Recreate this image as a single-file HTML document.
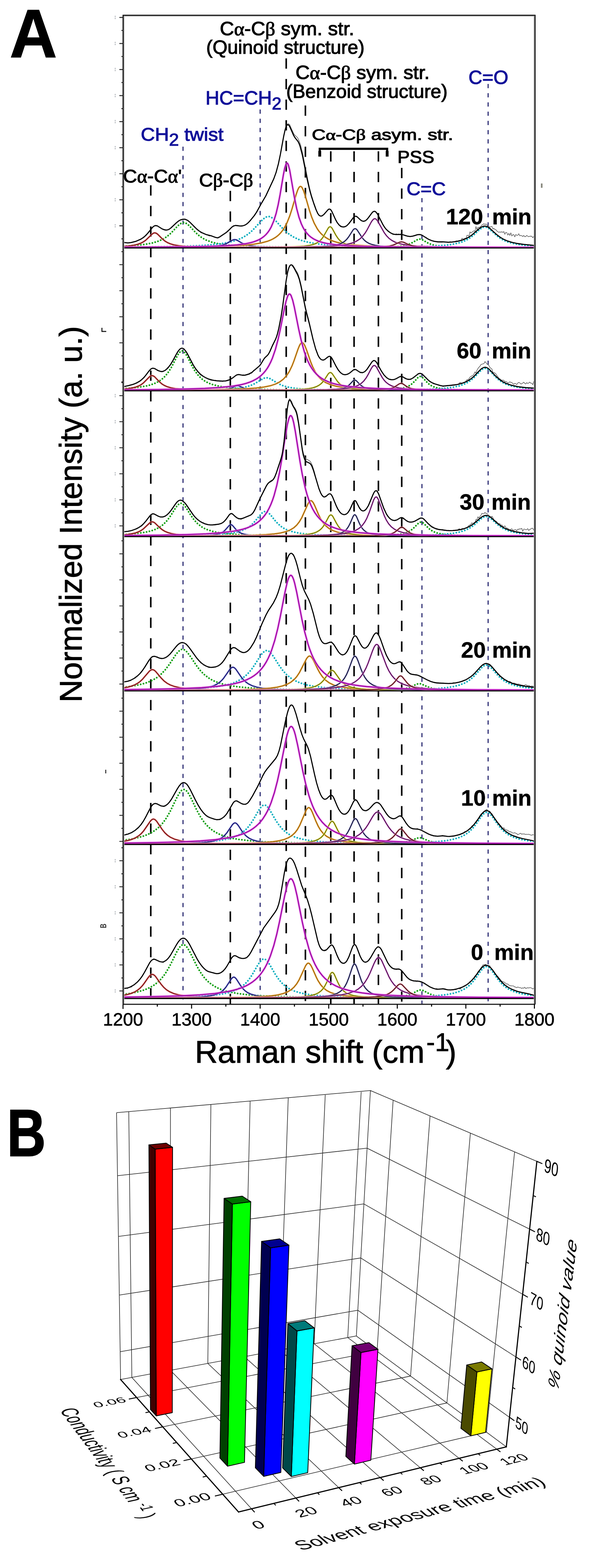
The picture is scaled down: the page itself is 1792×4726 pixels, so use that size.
<!DOCTYPE html>
<html><head><meta charset="utf-8"><title>Figure</title>
<style>html,body{margin:0;padding:0;background:#fff;width:1792px;height:4726px;overflow:hidden}</style>
</head><body>
<svg width="1792" height="4726" viewBox="0 0 1792 4726" style="display:block">
<rect width="1792" height="4726" fill="#fff"/>
<defs>
<clipPath id="cp120"><rect x="371.5" y="45.5" width="1239.0" height="703.0"/></clipPath>
<clipPath id="cp60"><rect x="371.5" y="745.5" width="1239.0" height="433.5"/></clipPath>
<clipPath id="cp30"><rect x="371.5" y="1176" width="1239.0" height="442.5"/></clipPath>
<clipPath id="cp20"><rect x="371.5" y="1615.5" width="1239.0" height="468.0"/></clipPath>
<clipPath id="cp10"><rect x="371.5" y="2080.5" width="1239.0" height="465.8000000000002"/></clipPath>
<clipPath id="cp0"><rect x="371.5" y="2543.3" width="1239.0" height="467.39999999999964"/></clipPath>
</defs>
<text x="29" y="172" font-family="'Liberation Sans', Arial, sans-serif" font-weight="bold" font-size="206" textLength="143" lengthAdjust="spacingAndGlyphs" stroke="#000" stroke-width="2">A</text>
<line x1="454.1" y1="558.4" x2="454.1" y2="3027" stroke="#000" stroke-width="4.7" stroke-dasharray="31.0 31.05"/>
<line x1="693.7" y1="575.3" x2="693.7" y2="3027" stroke="#000" stroke-width="4.7" stroke-dasharray="31.0 31.05"/>
<line x1="862.0" y1="176" x2="862.0" y2="3027" stroke="#000" stroke-width="4.7" stroke-dasharray="31.0 31.05"/>
<line x1="919.8" y1="318" x2="919.8" y2="3027" stroke="#000" stroke-width="4.7" stroke-dasharray="31.0 31.05"/>
<line x1="996.2" y1="456" x2="996.2" y2="3027" stroke="#000" stroke-width="4.7" stroke-dasharray="31.0 31.05"/>
<line x1="1066.4" y1="456" x2="1066.4" y2="3027" stroke="#000" stroke-width="4.7" stroke-dasharray="31.0 31.05"/>
<line x1="1139.7" y1="456" x2="1139.7" y2="3027" stroke="#000" stroke-width="4.7" stroke-dasharray="31.0 31.05"/>
<line x1="1209.9" y1="506" x2="1209.9" y2="3027" stroke="#000" stroke-width="4.7" stroke-dasharray="31.0 31.05"/>
<line x1="551.2" y1="442" x2="551.2" y2="3027" stroke="#25256e" stroke-width="3.3" stroke-dasharray="12.7 15.1"/>
<line x1="783.5" y1="330" x2="783.5" y2="3027" stroke="#25256e" stroke-width="3.3" stroke-dasharray="12.7 15.1"/>
<line x1="1270.8" y1="597" x2="1270.8" y2="3027" stroke="#25256e" stroke-width="3.3" stroke-dasharray="12.7 15.1"/>
<line x1="1470.1" y1="253" x2="1470.1" y2="3027" stroke="#25256e" stroke-width="3.3" stroke-dasharray="12.7 15.1"/>
<g clip-path="url(#cp120)" fill="none" stroke-linejoin="round" stroke-linecap="round">
<polyline points="371.5,741.8 408.5,739.6 437.5,736.4 460.5,732.0 478.5,726.4 491.5,720.4 503.5,712.6 515.5,702.2 534.5,681.9 540.5,676.3 547.5,671.9 553.5,670.7 558.5,671.9 564.5,675.5 571.5,682.0 588.5,700.3 597.5,708.7 609.5,717.5 621.5,723.9 637.5,729.8 655.5,734.2 677.5,737.6 705.5,740.2 738.5,742.0 781.5,743.3 909.5,744.9 1139.5,745.6 1610.5,745.9" stroke="#16a016" stroke-width="5.3" stroke-dasharray="0.1 8.7"/>
<polyline points="371.5,744.6 501.5,743.2 586.5,740.8 618.5,739.1 645.5,736.9 668.5,734.0 687.5,730.7 702.5,727.0 716.5,722.4 729.5,716.6 740.5,710.3 750.5,703.1 760.5,694.4 786.5,666.4 793.5,659.7 801.5,654.3 805.5,653.0 808.5,652.6 811.5,652.8 815.5,654.0 823.5,659.0 830.5,665.6 849.5,686.5 860.5,697.4 872.5,707.1 885.5,715.2 900.5,722.1 918.5,727.9 939.5,732.5 963.5,735.9 993.5,738.7 1029.5,740.8 1075.5,742.3 1133.5,743.5 1303.5,744.9 1610.5,745.6" stroke="#12b0c0" stroke-width="5.3" stroke-dasharray="0.1 8.7"/>
<polyline points="371.5,746.0 1003.5,745.7 1105.5,745.3 1161.5,744.4 1197.5,742.6 1210.5,741.1 1220.5,739.3 1234.5,734.9 1242.5,731.0 1256.5,722.7 1260.5,721.2 1264.5,720.7 1267.5,721.0 1271.5,722.4 1288.5,732.3 1300.5,737.3 1315.5,740.7 1336.5,743.0 1366.5,744.4 1411.5,745.2 1610.5,745.9" stroke="#16a016" stroke-width="5.3" stroke-dasharray="0.1 8.7"/>
<polyline points="371.5,745.9 1105.5,745.1 1235.5,743.9 1278.5,742.9 1311.5,741.4 1339.5,739.3 1361.5,736.5 1379.5,732.8 1394.5,728.1 1406.5,722.5 1417.5,715.6 1425.5,709.3 1442.5,693.5 1449.5,688.0 1455.5,685.0 1460.5,684.2 1465.5,685.2 1471.5,688.4 1477.5,693.2 1494.5,708.9 1502.5,715.3 1513.5,722.3 1526.5,728.3 1542.5,733.2 1560.5,736.8 1582.5,739.5 1610.5,741.5" stroke="#12b0c0" stroke-width="5.3" stroke-dasharray="0.1 8.7"/>
<polyline points="371.5,742.7 388.5,741.2 402.5,739.2 413.5,736.7 423.5,733.3 431.5,729.2 438.5,724.3 459.5,704.3 463.5,702.2 466.5,701.8 470.5,702.9 474.5,705.6 488.5,719.7 496.5,726.4 504.5,731.3 512.5,734.7 524.5,738.2 538.5,740.6 556.5,742.4 580.5,743.7 646.5,745.0 770.5,745.7 1610.5,746.0" stroke="#ff9a9a" stroke-width="6.4" stroke-opacity="0.6"/>
<polyline points="371.5,742.7 388.5,741.2 402.5,739.2 413.5,736.7 423.5,733.3 431.5,729.2 438.5,724.3 459.5,704.3 463.5,702.2 466.5,701.8 470.5,702.9 474.5,705.6 488.5,719.7 496.5,726.4 504.5,731.3 512.5,734.7 524.5,738.2 538.5,740.6 556.5,742.4 580.5,743.7 646.5,745.0 770.5,745.7 1610.5,746.0" stroke="#7e1212" stroke-width="3.0999999999999996"/>
<polyline points="371.5,745.9 564.5,745.3 608.5,744.6 637.5,743.3 656.5,741.3 671.5,738.1 683.5,733.3 699.5,724.0 703.5,722.5 706.5,722.1 709.5,722.4 713.5,723.7 727.5,731.9 734.5,735.3 748.5,739.7 758.5,741.5 771.5,742.9 806.5,744.6 862.5,745.4 963.5,745.8 1610.5,746.0" stroke="#a0a0ff" stroke-width="6.2" stroke-opacity="0.6"/>
<polyline points="371.5,745.9 564.5,745.3 608.5,744.6 637.5,743.3 656.5,741.3 671.5,738.1 683.5,733.3 699.5,724.0 703.5,722.5 706.5,722.1 709.5,722.4 713.5,723.7 727.5,731.9 734.5,735.3 748.5,739.7 758.5,741.5 771.5,742.9 806.5,744.6 862.5,745.4 963.5,745.8 1610.5,746.0" stroke="#14146a" stroke-width="2.9"/>
<polyline points="371.5,745.3 580.5,744.1 645.5,743.0 694.5,741.4 733.5,739.2 763.5,736.2 787.5,732.1 806.5,726.9 814.5,723.8 822.5,719.9 829.5,715.7 835.5,711.3 841.5,705.9 846.5,700.5 851.5,694.1 856.5,686.5 864.5,671.2 872.5,651.2 879.5,629.4 891.5,587.6 896.5,573.0 899.5,566.7 901.5,563.8 903.5,562.2 905.5,561.8 907.5,562.7 909.5,564.9 914.5,575.3 919.5,590.6 931.5,632.4 938.5,653.6 946.5,673.1 955.5,689.5 960.5,696.7 966.5,703.7 973.5,710.3 980.5,715.6 988.5,720.4 996.5,724.2 1005.5,727.5 1015.5,730.5 1038.5,735.1 1068.5,738.6 1106.5,741.0 1155.5,742.8 1308.5,744.7 1610.5,745.6" stroke="#ffd080" stroke-width="6.4" stroke-opacity="0.6"/>
<polyline points="371.5,745.3 580.5,744.1 645.5,743.0 694.5,741.4 733.5,739.2 763.5,736.2 787.5,732.1 806.5,726.9 814.5,723.8 822.5,719.9 829.5,715.7 835.5,711.3 841.5,705.9 846.5,700.5 851.5,694.1 856.5,686.5 864.5,671.2 872.5,651.2 879.5,629.4 891.5,587.6 896.5,573.0 899.5,566.7 901.5,563.8 903.5,562.2 905.5,561.8 907.5,562.7 909.5,564.9 914.5,575.3 919.5,590.6 931.5,632.4 938.5,653.6 946.5,673.1 955.5,689.5 960.5,696.7 966.5,703.7 973.5,710.3 980.5,715.6 988.5,720.4 996.5,724.2 1005.5,727.5 1015.5,730.5 1038.5,735.1 1068.5,738.6 1106.5,741.0 1155.5,742.8 1308.5,744.7 1610.5,745.6" stroke="#a86400" stroke-width="3.0999999999999996"/>
<polyline points="371.5,745.9 801.5,745.3 874.5,744.1 915.5,741.8 930.5,739.8 942.5,737.1 952.5,733.3 960.5,728.4 966.5,723.1 972.5,715.6 988.5,687.6 991.5,684.3 994.5,683.3 997.5,684.8 1000.5,688.5 1011.5,708.7 1017.5,717.9 1022.5,723.8 1027.5,728.2 1035.5,733.1 1045.5,737.0 1057.5,739.8 1072.5,741.8 1113.5,744.1 1185.5,745.3 1610.5,745.9" stroke="#ffff70" stroke-width="6.2" stroke-opacity="0.6"/>
<polyline points="371.5,745.9 801.5,745.3 874.5,744.1 915.5,741.8 930.5,739.8 942.5,737.1 952.5,733.3 960.5,728.4 966.5,723.1 972.5,715.6 988.5,687.6 991.5,684.3 994.5,683.3 997.5,684.8 1000.5,688.5 1011.5,708.7 1017.5,717.9 1022.5,723.8 1027.5,728.2 1035.5,733.1 1045.5,737.0 1057.5,739.8 1072.5,741.8 1113.5,744.1 1185.5,745.3 1610.5,745.9" stroke="#707000" stroke-width="2.9"/>
<polyline points="371.5,745.9 859.5,745.4 940.5,744.4 985.5,742.3 1001.5,740.6 1014.5,738.1 1024.5,734.9 1033.5,730.4 1039.5,726.0 1044.5,721.0 1050.5,713.3 1063.5,693.0 1066.5,690.1 1069.5,689.1 1072.5,690.1 1075.5,693.0 1091.5,717.4 1097.5,724.1 1103.5,729.1 1111.5,733.7 1120.5,737.0 1132.5,739.8 1146.5,741.7 1184.5,744.0 1250.5,745.2 1610.5,745.9" stroke="#c0c0ff" stroke-width="6.2" stroke-opacity="0.6"/>
<polyline points="371.5,745.9 859.5,745.4 940.5,744.4 985.5,742.3 1001.5,740.6 1014.5,738.1 1024.5,734.9 1033.5,730.4 1039.5,726.0 1044.5,721.0 1050.5,713.3 1063.5,693.0 1066.5,690.1 1069.5,689.1 1072.5,690.1 1075.5,693.0 1091.5,717.4 1097.5,724.1 1103.5,729.1 1111.5,733.7 1120.5,737.0 1132.5,739.8 1146.5,741.7 1184.5,744.0 1250.5,745.2 1610.5,745.9" stroke="#141438" stroke-width="2.9"/>
<polyline points="371.5,745.9 717.5,745.6 882.5,744.8 972.5,743.1 1002.5,741.6 1025.5,739.6 1044.5,736.7 1060.5,732.5 1072.5,727.5 1083.5,720.5 1091.5,712.9 1099.5,702.7 1105.5,692.9 1117.5,670.4 1121.5,664.2 1125.5,660.2 1128.5,659.2 1130.5,659.4 1132.5,660.5 1136.5,664.8 1157.5,701.7 1164.5,711.1 1171.5,718.3 1180.5,724.9 1190.5,730.1 1202.5,734.2 1216.5,737.3 1233.5,739.7 1255.5,741.6 1316.5,743.9 1419.5,745.1 1610.5,745.7" stroke="#ff9cff" stroke-width="6.2" stroke-opacity="0.6"/>
<polyline points="371.5,745.9 717.5,745.6 882.5,744.8 972.5,743.1 1002.5,741.6 1025.5,739.6 1044.5,736.7 1060.5,732.5 1072.5,727.5 1083.5,720.5 1091.5,712.9 1099.5,702.7 1105.5,692.9 1117.5,670.4 1121.5,664.2 1125.5,660.2 1128.5,659.2 1130.5,659.4 1132.5,660.5 1136.5,664.8 1157.5,701.7 1164.5,711.1 1171.5,718.3 1180.5,724.9 1190.5,730.1 1202.5,734.2 1216.5,737.3 1233.5,739.7 1255.5,741.6 1316.5,743.9 1419.5,745.1 1610.5,745.7" stroke="#501050" stroke-width="2.9"/>
<polyline points="371.5,746.0 977.5,745.9 1120.5,745.0 1152.5,743.8 1172.5,741.6 1184.5,738.6 1203.5,730.0 1209.5,728.8 1215.5,730.1 1230.5,737.2 1241.5,740.7 1256.5,743.0 1276.5,744.4 1358.5,745.6 1610.5,746.0" stroke="#ffa0b0" stroke-width="6.2" stroke-opacity="0.6"/>
<polyline points="371.5,746.0 977.5,745.9 1120.5,745.0 1152.5,743.8 1172.5,741.6 1184.5,738.6 1203.5,730.0 1209.5,728.8 1215.5,730.1 1230.5,737.2 1241.5,740.7 1256.5,743.0 1276.5,744.4 1358.5,745.6 1610.5,746.0" stroke="#501018" stroke-width="2.9"/>
<polyline points="371.5,745.2 573.5,743.8 634.5,742.5 679.5,740.7 714.5,738.0 741.5,734.3 753.5,731.8 763.5,729.0 772.5,725.8 780.5,722.2 787.5,718.1 794.5,713.0 800.5,707.5 806.5,700.6 811.5,693.5 816.5,684.7 824.5,666.1 831.5,643.6 837.5,618.3 843.5,586.8 853.5,526.9 857.5,506.9 861.5,494.2 863.5,491.6 864.5,491.4 866.5,493.0 868.5,497.3 872.5,512.7 886.5,594.0 893.5,628.6 900.5,655.0 907.5,674.5 912.5,685.3 917.5,693.9 923.5,702.2 929.5,708.8 936.5,714.8 944.5,720.1 952.5,724.2 962.5,728.2 972.5,731.1 984.5,733.8 1013.5,738.0 1050.5,740.8 1101.5,742.8 1169.5,744.0 1264.5,744.9 1610.5,745.7" stroke="#ff80ff" stroke-width="7.0" stroke-opacity="0.6"/>
<polyline points="371.5,745.2 573.5,743.8 634.5,742.5 679.5,740.7 714.5,738.0 741.5,734.3 753.5,731.8 763.5,729.0 772.5,725.8 780.5,722.2 787.5,718.1 794.5,713.0 800.5,707.5 806.5,700.6 811.5,693.5 816.5,684.7 824.5,666.1 831.5,643.6 837.5,618.3 843.5,586.8 853.5,526.9 857.5,506.9 861.5,494.2 863.5,491.6 864.5,491.4 866.5,493.0 868.5,497.3 872.5,512.7 886.5,594.0 893.5,628.6 900.5,655.0 907.5,674.5 912.5,685.3 917.5,693.9 923.5,702.2 929.5,708.8 936.5,714.8 944.5,720.1 952.5,724.2 962.5,728.2 972.5,731.1 984.5,733.8 1013.5,738.0 1050.5,740.8 1101.5,742.8 1169.5,744.0 1264.5,744.9 1610.5,745.7" stroke="#a010a6" stroke-width="3.6999999999999997"/>
<polyline points="371.5,732.3 374.5,729.5 377.5,731.2 380.5,731.3 383.5,732.7 386.5,731.7 389.5,732.7 392.5,731.4 395.5,730.2 398.5,730.2 401.5,730.2 404.5,728.3 407.5,727.2 410.5,726.8 413.5,725.5 416.5,724.1 419.5,721.5 422.5,722.4 425.5,721.2 428.5,716.7 431.5,716.9 434.5,715.1 437.5,711.1 440.5,709.6 443.5,704.6 446.5,701.8 449.5,696.3 452.5,693.8 455.5,689.9 458.5,685.5 461.5,682.7 464.5,681.4 467.5,680.5 470.5,681.6 473.5,680.7 476.5,682.4 479.5,684.7 482.5,686.1 485.5,687.7 488.5,690.3 491.5,690.8 494.5,691.1 497.5,693.1 500.5,692.9 503.5,693.9 506.5,692.0 512.5,689.0 515.5,685.9 518.5,683.7 521.5,680.2 524.5,678.1 527.5,674.5 530.5,673.0 533.5,669.3 536.5,667.0 539.5,664.2 542.5,662.8 545.5,662.0 548.5,661.2 551.5,662.2 554.5,660.6 557.5,660.2 560.5,661.4 563.5,663.1 566.5,664.5 572.5,670.5 575.5,674.1 578.5,676.5 581.5,679.3 584.5,684.4 587.5,686.7 590.5,688.4 593.5,690.7 596.5,695.1 599.5,696.4 602.5,698.6 605.5,702.2 608.5,701.3 611.5,703.0 614.5,705.0 617.5,706.2 620.5,706.9 623.5,707.3 626.5,708.4 629.5,711.4 632.5,711.0 635.5,711.0 638.5,712.1 641.5,713.4 644.5,714.1 647.5,715.7 650.5,715.5 653.5,717.0 656.5,718.2 659.5,715.5 662.5,712.7 665.5,710.7 668.5,708.5 671.5,706.6 674.5,706.5 677.5,703.4 680.5,702.7 683.5,698.4 686.5,694.6 689.5,693.5 692.5,690.6 695.5,686.2 698.5,685.1 701.5,682.8 704.5,682.1 707.5,679.5 710.5,678.8 713.5,680.5 716.5,679.1 719.5,681.0 722.5,681.5 725.5,681.4 728.5,680.2 731.5,680.6 734.5,679.6 737.5,678.9 740.5,676.6 743.5,676.0 746.5,672.0 749.5,668.5 752.5,666.3 755.5,661.6 758.5,659.3 761.5,655.3 764.5,651.2 767.5,649.1 770.5,642.3 773.5,639.2 776.5,633.5 779.5,626.8 782.5,621.1 785.5,616.8 788.5,611.4 791.5,607.1 794.5,601.0 797.5,595.4 800.5,590.1 803.5,583.6 806.5,578.3 809.5,572.4 812.5,564.6 815.5,557.4 818.5,552.6 821.5,546.0 824.5,539.2 827.5,531.1 830.5,521.6 833.5,512.3 836.5,501.4 839.5,488.8 842.5,474.6 845.5,460.0 848.5,443.0 851.5,425.1 854.5,409.7 857.5,395.2 860.5,383.1 863.5,376.8 866.5,373.2 869.5,373.3 872.5,375.6 875.5,382.5 878.5,389.7 881.5,395.8 884.5,402.6 887.5,406.9 890.5,409.5 893.5,412.4 896.5,415.6 899.5,421.9 902.5,429.0 905.5,437.0 908.5,450.1 911.5,461.3 914.5,476.3 917.5,492.8 920.5,506.8 923.5,522.6 926.5,539.0 932.5,566.8 938.5,589.6 941.5,598.4 944.5,609.6 947.5,616.9 950.5,625.7 953.5,635.5 956.5,640.7 959.5,648.2 962.5,650.4 965.5,651.8 968.5,652.0 971.5,650.8 974.5,647.7 977.5,645.1 980.5,640.0 983.5,637.0 986.5,634.4 989.5,631.8 992.5,629.8 995.5,632.0 998.5,635.7 1001.5,641.1 1004.5,647.9 1007.5,655.4 1010.5,661.1 1013.5,666.2 1016.5,671.7 1019.5,676.8 1022.5,680.0 1025.5,683.4 1028.5,683.8 1031.5,682.8 1034.5,685.0 1037.5,683.7 1040.5,682.9 1043.5,681.5 1046.5,679.1 1049.5,673.9 1052.5,670.0 1055.5,667.9 1058.5,663.4 1061.5,659.5 1064.5,653.9 1067.5,652.3 1070.5,652.2 1073.5,651.0 1079.5,657.0 1082.5,660.8 1085.5,662.9 1088.5,665.1 1091.5,666.7 1094.5,668.2 1097.5,665.1 1100.5,664.8 1103.5,662.2 1106.5,660.4 1109.5,656.0 1112.5,653.7 1115.5,646.9 1118.5,643.2 1124.5,638.5 1127.5,637.0 1130.5,638.4 1133.5,639.6 1136.5,645.2 1139.5,650.3 1145.5,662.4 1151.5,673.5 1154.5,679.1 1157.5,683.6 1160.5,688.6 1163.5,692.2 1166.5,694.7 1169.5,695.6 1172.5,698.4 1175.5,702.1 1178.5,703.0 1181.5,705.7 1184.5,707.0 1187.5,706.2 1190.5,706.4 1193.5,704.5 1196.5,706.7 1199.5,705.1 1202.5,706.7 1205.5,706.1 1208.5,706.6 1211.5,708.0 1214.5,708.0 1217.5,708.8 1220.5,711.2 1223.5,710.2 1226.5,711.3 1229.5,711.2 1232.5,713.5 1235.5,712.0 1238.5,712.8 1241.5,712.7 1244.5,710.9 1247.5,711.2 1250.5,710.6 1253.5,707.7 1256.5,706.9 1259.5,707.2 1262.5,707.8 1265.5,706.8 1268.5,707.5 1271.5,709.5 1274.5,711.6 1277.5,712.7 1280.5,715.1 1283.5,715.1 1286.5,719.3 1289.5,720.2 1292.5,723.1 1295.5,723.6 1298.5,724.7 1301.5,726.5 1304.5,726.0 1307.5,726.2 1310.5,727.9 1313.5,728.4 1316.5,729.6 1319.5,729.2 1322.5,730.0 1325.5,729.8 1328.5,730.1 1331.5,730.2 1334.5,728.8 1337.5,728.7 1340.5,729.4 1343.5,729.6 1346.5,730.4 1349.5,731.1 1352.5,730.1 1355.5,728.3 1358.5,728.9 1361.5,730.1 1364.5,729.0 1367.5,729.0 1370.5,728.1 1373.5,726.0 1376.5,726.1 1379.5,728.1 1382.5,724.5 1385.5,724.9 1388.5,724.3 1391.5,717.8 1394.5,720.4 1397.5,720.2 1400.5,717.9 1403.5,718.9 1406.5,709.1 1409.5,709.8 1412.5,711.0 1415.5,698.8 1418.5,702.4 1421.5,699.7 1424.5,697.4 1427.5,695.7 1430.5,697.2 1433.5,682.8 1436.5,692.4 1439.5,685.2 1442.5,686.1 1445.5,684.0 1448.5,682.2 1451.5,677.7 1454.5,676.9 1457.5,674.2 1460.5,677.0 1463.5,674.9 1466.5,677.9 1469.5,681.1 1472.5,683.4 1475.5,684.4 1478.5,683.3 1481.5,682.2 1484.5,690.3 1487.5,688.0 1490.5,691.9 1493.5,692.2 1496.5,696.2 1499.5,698.4 1502.5,700.4 1505.5,698.7 1508.5,700.3 1511.5,698.3 1514.5,700.7 1517.5,697.8 1520.5,706.1 1523.5,700.2 1526.5,701.3 1529.5,708.7 1532.5,703.3 1535.5,709.6 1538.5,701.8 1541.5,711.3 1544.5,707.6 1547.5,707.1 1550.5,714.0 1553.5,706.7 1556.5,709.5 1559.5,709.1 1562.5,704.5 1565.5,710.8 1568.5,709.5 1571.5,710.6 1574.5,712.8 1577.5,709.7 1580.5,713.6 1583.5,712.6 1586.5,709.6 1589.5,712.1 1592.5,713.6 1595.5,712.1 1598.5,711.7 1601.5,712.2 1604.5,716.5 1607.5,712.9 1610.5,707.1" stroke="#555" stroke-width="1.7"/>
<polyline points="371.5,730.9 385.5,732.1 394.5,731.2 409.5,727.3 422.5,721.7 430.5,716.8 437.5,711.0 444.5,703.6 459.5,685.1 463.5,681.7 466.5,680.2 469.5,679.8 473.5,680.7 487.5,689.4 494.5,692.5 500.5,693.5 506.5,692.4 510.5,690.3 514.5,687.3 531.5,671.3 537.5,666.4 543.5,662.9 550.5,660.9 554.5,660.7 558.5,661.2 565.5,664.4 571.5,669.4 592.5,690.4 600.5,696.7 608.5,701.6 620.5,706.8 637.5,711.2 649.5,715.7 653.5,716.6 656.5,716.3 660.5,714.8 680.5,701.4 686.5,696.5 698.5,684.4 703.5,680.9 709.5,679.5 722.5,681.2 729.5,681.0 736.5,679.0 742.5,675.6 748.5,670.4 754.5,663.8 765.5,650.2 772.5,639.9 785.5,616.2 800.5,590.5 824.5,539.0 831.5,519.7 838.5,493.7 844.5,465.0 854.5,410.1 858.5,392.1 861.5,382.6 863.5,378.5 865.5,376.3 867.5,375.8 869.5,377.0 872.5,381.3 884.5,408.5 888.5,414.9 897.5,426.3 900.5,432.2 903.5,440.1 910.5,466.8 925.5,541.7 933.5,576.1 938.5,593.4 945.5,614.6 951.5,631.1 956.5,642.3 959.5,647.1 962.5,650.0 965.5,651.2 968.5,650.9 971.5,649.5 975.5,646.3 988.5,631.5 991.5,630.0 994.5,630.8 996.5,632.7 999.5,637.4 1010.5,661.6 1015.5,670.7 1021.5,678.3 1027.5,682.6 1031.5,683.9 1036.5,683.8 1040.5,682.6 1044.5,680.1 1051.5,673.1 1064.5,655.4 1067.5,652.8 1069.5,651.9 1072.5,651.9 1075.5,653.4 1085.5,662.8 1090.5,666.0 1095.5,666.9 1099.5,665.8 1103.5,663.0 1107.5,658.8 1121.5,640.0 1124.5,637.6 1127.5,636.8 1129.5,637.2 1131.5,638.5 1135.5,643.1 1139.5,649.9 1153.5,677.4 1158.5,685.3 1162.5,690.4 1168.5,696.3 1174.5,700.7 1180.5,704.1 1186.5,706.2 1192.5,706.9 1208.5,706.5 1213.5,707.5 1227.5,711.8 1235.5,712.8 1243.5,711.7 1258.5,707.1 1264.5,706.9 1268.5,707.9 1272.5,709.8 1285.5,718.2 1292.5,722.1 1299.5,725.0 1307.5,727.3 1319.5,729.0 1333.5,728.9 1350.5,730.2 1360.5,729.7 1372.5,728.2 1384.5,725.8 1394.5,722.8 1404.5,718.7 1413.5,713.7 1421.5,708.1 1442.5,689.7 1448.5,685.2 1455.5,682.0 1461.5,681.5 1467.5,683.2 1473.5,686.7 1495.5,706.7 1506.5,715.1 1516.5,721.1 1526.5,725.6 1541.5,730.4 1558.5,734.0 1577.5,736.7 1610.5,740.0" stroke="#000" stroke-width="3.3"/>
</g>
<line x1="371.5" y1="747.5" x2="1610.5" y2="747.5" stroke="#000" stroke-width="3.2"/>
<g clip-path="url(#cp60)" fill="none" stroke-linejoin="round" stroke-linecap="round">
<polyline points="371.5,1171.2 410.5,1168.1 439.5,1163.6 451.5,1160.6 462.5,1157.0 471.5,1153.1 480.5,1148.1 487.5,1143.1 493.5,1137.9 504.5,1125.5 515.5,1108.5 532.5,1075.2 537.5,1066.5 540.5,1062.4 543.5,1059.4 546.5,1057.7 548.5,1057.4 550.5,1057.8 553.5,1059.5 558.5,1065.3 564.5,1075.5 579.5,1105.2 586.5,1117.1 597.5,1131.9 608.5,1142.5 615.5,1147.6 622.5,1151.7 630.5,1155.5 639.5,1158.8 660.5,1164.2 686.5,1168.1 717.5,1170.8 758.5,1172.7 811.5,1174.1 883.5,1175.0 1115.5,1176.0 1610.5,1176.3" stroke="#16a016" stroke-width="5.3" stroke-dasharray="0.1 8.7"/>
<polyline points="371.5,1176.2 608.5,1175.1 665.5,1173.8 704.5,1171.6 731.5,1168.1 742.5,1165.7 751.5,1163.0 759.5,1160.0 767.5,1156.1 792.5,1141.1 797.5,1139.2 802.5,1138.5 807.5,1139.1 812.5,1140.8 840.5,1157.4 850.5,1161.8 860.5,1165.0 873.5,1168.0 888.5,1170.3 906.5,1172.0 927.5,1173.3 987.5,1175.0 1087.5,1175.8 1610.5,1176.4" stroke="#12b0c0" stroke-width="5.3" stroke-dasharray="0.1 8.7"/>
<polyline points="371.5,1176.5 1015.5,1176.1 1115.5,1175.5 1169.5,1174.1 1189.5,1172.8 1204.5,1171.1 1216.5,1168.7 1226.5,1165.4 1233.5,1161.9 1239.5,1157.8 1246.5,1151.4 1258.5,1138.2 1262.5,1135.4 1265.5,1134.6 1268.5,1135.1 1272.5,1137.7 1288.5,1154.7 1293.5,1158.9 1299.5,1162.7 1306.5,1166.0 1313.5,1168.3 1322.5,1170.3 1333.5,1172.0 1362.5,1174.1 1407.5,1175.4 1610.5,1176.3" stroke="#16a016" stroke-width="5.3" stroke-dasharray="0.1 8.7"/>
<polyline points="371.5,1176.4 1115.5,1175.7 1244.5,1174.4 1286.5,1173.3 1318.5,1171.8 1345.5,1169.6 1366.5,1166.7 1383.5,1163.0 1398.5,1157.7 1408.5,1152.7 1418.5,1145.9 1428.5,1137.1 1449.5,1115.3 1455.5,1111.3 1460.5,1110.0 1465.5,1110.9 1470.5,1113.7 1476.5,1119.0 1493.5,1137.1 1501.5,1144.3 1512.5,1152.1 1524.5,1158.2 1539.5,1163.2 1558.5,1167.2 1581.5,1170.1 1610.5,1172.2" stroke="#12b0c0" stroke-width="5.3" stroke-dasharray="0.1 8.7"/>
<polyline points="371.5,1172.8 386.5,1171.3 399.5,1169.1 409.5,1166.5 418.5,1163.0 425.5,1159.1 432.5,1153.7 450.5,1135.4 454.5,1132.8 457.5,1132.1 461.5,1132.9 465.5,1135.5 479.5,1150.1 487.5,1157.1 494.5,1161.5 502.5,1165.2 514.5,1168.7 528.5,1171.2 546.5,1173.0 570.5,1174.2 636.5,1175.6 760.5,1176.2 1610.5,1176.5" stroke="#ff9a9a" stroke-width="6.4" stroke-opacity="0.6"/>
<polyline points="371.5,1172.8 386.5,1171.3 399.5,1169.1 409.5,1166.5 418.5,1163.0 425.5,1159.1 432.5,1153.7 450.5,1135.4 454.5,1132.8 457.5,1132.1 461.5,1132.9 465.5,1135.5 479.5,1150.1 487.5,1157.1 494.5,1161.5 502.5,1165.2 514.5,1168.7 528.5,1171.2 546.5,1173.0 570.5,1174.2 636.5,1175.6 760.5,1176.2 1610.5,1176.5" stroke="#7e1212" stroke-width="3.0999999999999996"/>
<polyline points="371.5,1176.5 588.5,1176.2 658.5,1175.2 676.5,1174.0 688.5,1172.1 697.5,1169.4 710.5,1163.4 715.5,1162.5 720.5,1163.6 735.5,1170.3 746.5,1173.0 765.5,1174.9 795.5,1175.8 937.5,1176.4 1610.5,1176.5" stroke="#a0a0ff" stroke-width="6.2" stroke-opacity="0.6"/>
<polyline points="371.5,1176.5 588.5,1176.2 658.5,1175.2 676.5,1174.0 688.5,1172.1 697.5,1169.4 710.5,1163.4 715.5,1162.5 720.5,1163.6 735.5,1170.3 746.5,1173.0 765.5,1174.9 795.5,1175.8 937.5,1176.4 1610.5,1176.5" stroke="#14146a" stroke-width="2.9"/>
<polyline points="371.5,1176.0 587.5,1175.2 703.5,1173.3 741.5,1171.7 771.5,1169.5 795.5,1166.5 814.5,1162.6 829.5,1157.6 842.5,1151.1 853.5,1142.7 863.5,1131.7 871.5,1119.3 879.5,1102.7 885.5,1087.3 897.5,1052.5 901.5,1042.6 904.5,1037.0 906.5,1034.5 908.5,1033.1 910.5,1032.8 912.5,1033.6 914.5,1035.6 918.5,1042.6 923.5,1055.3 935.5,1090.1 941.5,1105.1 949.5,1121.0 957.5,1133.0 962.5,1138.8 968.5,1144.5 974.5,1149.1 981.5,1153.4 996.5,1159.8 1015.5,1164.9 1037.5,1168.3 1066.5,1171.0 1103.5,1172.8 1152.5,1174.1 1304.5,1175.6 1610.5,1176.2" stroke="#ffd080" stroke-width="6.4" stroke-opacity="0.6"/>
<polyline points="371.5,1176.0 587.5,1175.2 703.5,1173.3 741.5,1171.7 771.5,1169.5 795.5,1166.5 814.5,1162.6 829.5,1157.6 842.5,1151.1 853.5,1142.7 863.5,1131.7 871.5,1119.3 879.5,1102.7 885.5,1087.3 897.5,1052.5 901.5,1042.6 904.5,1037.0 906.5,1034.5 908.5,1033.1 910.5,1032.8 912.5,1033.6 914.5,1035.6 918.5,1042.6 923.5,1055.3 935.5,1090.1 941.5,1105.1 949.5,1121.0 957.5,1133.0 962.5,1138.8 968.5,1144.5 974.5,1149.1 981.5,1153.4 996.5,1159.8 1015.5,1164.9 1037.5,1168.3 1066.5,1171.0 1103.5,1172.8 1152.5,1174.1 1304.5,1175.6 1610.5,1176.2" stroke="#a86400" stroke-width="3.0999999999999996"/>
<polyline points="371.5,1176.4 800.5,1175.9 873.5,1174.9 915.5,1172.8 930.5,1171.1 942.5,1168.8 952.5,1165.5 960.5,1161.4 966.5,1156.9 971.5,1151.9 977.5,1144.0 988.5,1127.0 991.5,1124.0 994.5,1122.7 997.5,1123.5 1000.5,1126.2 1016.5,1149.8 1022.5,1156.3 1029.5,1161.6 1037.5,1165.6 1047.5,1168.8 1059.5,1171.2 1073.5,1172.8 1114.5,1174.8 1186.5,1175.8 1610.5,1176.4" stroke="#ffff70" stroke-width="6.2" stroke-opacity="0.6"/>
<polyline points="371.5,1176.4 800.5,1175.9 873.5,1174.9 915.5,1172.8 930.5,1171.1 942.5,1168.8 952.5,1165.5 960.5,1161.4 966.5,1156.9 971.5,1151.9 977.5,1144.0 988.5,1127.0 991.5,1124.0 994.5,1122.7 997.5,1123.5 1000.5,1126.2 1016.5,1149.8 1022.5,1156.3 1029.5,1161.6 1037.5,1165.6 1047.5,1168.8 1059.5,1171.2 1073.5,1172.8 1114.5,1174.8 1186.5,1175.8 1610.5,1176.4" stroke="#707000" stroke-width="2.9"/>
<polyline points="371.5,1176.5 877.5,1176.2 954.5,1175.8 995.5,1174.8 1021.5,1172.6 1030.5,1170.9 1038.5,1168.4 1043.5,1166.0 1048.5,1162.8 1053.5,1158.3 1063.5,1147.8 1066.5,1145.9 1068.5,1145.5 1070.5,1145.9 1073.5,1147.8 1083.5,1158.4 1088.5,1162.8 1097.5,1168.0 1104.5,1170.4 1112.5,1172.1 1135.5,1174.4 1171.5,1175.6 1234.5,1176.1 1610.5,1176.5" stroke="#c0c0ff" stroke-width="6.2" stroke-opacity="0.6"/>
<polyline points="371.5,1176.5 877.5,1176.2 954.5,1175.8 995.5,1174.8 1021.5,1172.6 1030.5,1170.9 1038.5,1168.4 1043.5,1166.0 1048.5,1162.8 1053.5,1158.3 1063.5,1147.8 1066.5,1145.9 1068.5,1145.5 1070.5,1145.9 1073.5,1147.8 1083.5,1158.4 1088.5,1162.8 1097.5,1168.0 1104.5,1170.4 1112.5,1172.1 1135.5,1174.4 1171.5,1175.6 1234.5,1176.1 1610.5,1176.5" stroke="#141438" stroke-width="2.9"/>
<polyline points="371.5,1176.4 897.5,1175.7 985.5,1174.3 1013.5,1173.2 1034.5,1171.6 1052.5,1169.2 1066.5,1166.0 1077.5,1161.9 1087.5,1155.9 1095.5,1148.5 1102.5,1139.4 1108.5,1129.3 1117.5,1111.8 1121.5,1105.4 1124.5,1102.4 1127.5,1101.5 1130.5,1102.7 1133.5,1106.0 1151.5,1138.5 1157.5,1146.7 1163.5,1152.9 1171.5,1158.9 1180.5,1163.4 1191.5,1167.0 1205.5,1169.8 1221.5,1171.7 1242.5,1173.3 1302.5,1175.1 1407.5,1175.9 1610.5,1176.3" stroke="#ff9cff" stroke-width="6.2" stroke-opacity="0.6"/>
<polyline points="371.5,1176.4 897.5,1175.7 985.5,1174.3 1013.5,1173.2 1034.5,1171.6 1052.5,1169.2 1066.5,1166.0 1077.5,1161.9 1087.5,1155.9 1095.5,1148.5 1102.5,1139.4 1108.5,1129.3 1117.5,1111.8 1121.5,1105.4 1124.5,1102.4 1127.5,1101.5 1130.5,1102.7 1133.5,1106.0 1151.5,1138.5 1157.5,1146.7 1163.5,1152.9 1171.5,1158.9 1180.5,1163.4 1191.5,1167.0 1205.5,1169.8 1221.5,1171.7 1242.5,1173.3 1302.5,1175.1 1407.5,1175.9 1610.5,1176.3" stroke="#501050" stroke-width="2.9"/>
<polyline points="371.5,1176.5 990.5,1176.3 1127.5,1175.4 1157.5,1174.0 1168.5,1172.7 1176.5,1171.0 1187.5,1166.9 1202.5,1156.9 1207.5,1155.3 1212.5,1156.5 1226.5,1166.0 1236.5,1170.3 1250.5,1173.1 1269.5,1174.7 1299.5,1175.7 1348.5,1176.1 1610.5,1176.5" stroke="#ffa0b0" stroke-width="6.2" stroke-opacity="0.6"/>
<polyline points="371.5,1176.5 990.5,1176.3 1127.5,1175.4 1157.5,1174.0 1168.5,1172.7 1176.5,1171.0 1187.5,1166.9 1202.5,1156.9 1207.5,1155.3 1212.5,1156.5 1226.5,1166.0 1236.5,1170.3 1250.5,1173.1 1269.5,1174.7 1299.5,1175.7 1348.5,1176.1 1610.5,1176.5" stroke="#501018" stroke-width="2.9"/>
<polyline points="371.5,1175.0 478.5,1174.0 557.5,1172.6 616.5,1170.7 662.5,1167.9 698.5,1164.2 727.5,1159.1 740.5,1155.7 751.5,1152.1 761.5,1147.9 770.5,1143.2 778.5,1138.1 786.5,1131.7 793.5,1124.8 799.5,1117.7 805.5,1109.2 810.5,1100.7 815.5,1090.8 820.5,1079.2 829.5,1053.0 837.5,1022.8 844.5,990.9 856.5,930.1 861.5,908.0 866.5,892.3 869.5,887.3 871.5,886.1 873.5,886.6 876.5,890.5 881.5,904.8 886.5,926.0 899.5,991.6 907.5,1027.6 916.5,1059.9 921.5,1074.4 926.5,1086.8 932.5,1099.2 938.5,1109.4 945.5,1119.2 952.5,1127.1 960.5,1134.4 969.5,1140.9 978.5,1146.0 989.5,1151.0 1001.5,1155.2 1014.5,1158.6 1029.5,1161.7 1045.5,1164.2 1085.5,1168.3 1137.5,1171.1 1205.5,1173.1 1297.5,1174.4 1610.5,1175.8" stroke="#ff80ff" stroke-width="7.0" stroke-opacity="0.6"/>
<polyline points="371.5,1175.0 478.5,1174.0 557.5,1172.6 616.5,1170.7 662.5,1167.9 698.5,1164.2 727.5,1159.1 740.5,1155.7 751.5,1152.1 761.5,1147.9 770.5,1143.2 778.5,1138.1 786.5,1131.7 793.5,1124.8 799.5,1117.7 805.5,1109.2 810.5,1100.7 815.5,1090.8 820.5,1079.2 829.5,1053.0 837.5,1022.8 844.5,990.9 856.5,930.1 861.5,908.0 866.5,892.3 869.5,887.3 871.5,886.1 873.5,886.6 876.5,890.5 881.5,904.8 886.5,926.0 899.5,991.6 907.5,1027.6 916.5,1059.9 921.5,1074.4 926.5,1086.8 932.5,1099.2 938.5,1109.4 945.5,1119.2 952.5,1127.1 960.5,1134.4 969.5,1140.9 978.5,1146.0 989.5,1151.0 1001.5,1155.2 1014.5,1158.6 1029.5,1161.7 1045.5,1164.2 1085.5,1168.3 1137.5,1171.1 1205.5,1173.1 1297.5,1174.4 1610.5,1175.8" stroke="#a010a6" stroke-width="3.6999999999999997"/>
<polyline points="371.5,1165.4 374.5,1165.6 377.5,1165.6 380.5,1163.1 383.5,1162.7 386.5,1163.0 389.5,1161.4 392.5,1159.8 395.5,1160.4 398.5,1158.9 401.5,1158.1 404.5,1157.8 407.5,1155.7 410.5,1153.2 413.5,1154.2 416.5,1149.7 419.5,1149.5 422.5,1146.2 425.5,1145.0 428.5,1141.0 431.5,1140.1 434.5,1138.2 437.5,1132.6 440.5,1128.7 443.5,1125.8 446.5,1120.8 449.5,1117.0 455.5,1111.2 458.5,1109.4 461.5,1110.1 464.5,1110.7 467.5,1110.6 470.5,1113.2 473.5,1117.1 476.5,1117.5 479.5,1117.4 482.5,1118.1 485.5,1120.4 488.5,1120.6 491.5,1120.0 494.5,1117.7 497.5,1116.4 500.5,1114.6 503.5,1108.8 506.5,1106.7 509.5,1103.7 512.5,1099.6 515.5,1096.7 518.5,1090.7 521.5,1085.3 524.5,1081.1 527.5,1074.5 530.5,1068.3 533.5,1063.5 536.5,1059.1 539.5,1055.1 542.5,1052.2 545.5,1050.2 548.5,1049.4 551.5,1050.1 554.5,1051.2 557.5,1056.9 560.5,1060.3 563.5,1063.2 566.5,1070.0 569.5,1076.9 572.5,1081.4 575.5,1088.7 578.5,1093.9 581.5,1099.2 584.5,1103.2 587.5,1110.7 590.5,1114.3 593.5,1116.0 596.5,1121.4 599.5,1124.3 602.5,1129.7 605.5,1131.0 608.5,1132.4 611.5,1134.4 614.5,1136.0 617.5,1137.2 620.5,1138.4 623.5,1140.1 626.5,1142.8 629.5,1141.5 632.5,1144.8 635.5,1146.2 638.5,1146.3 641.5,1145.4 644.5,1146.7 647.5,1146.8 650.5,1145.8 653.5,1148.3 656.5,1148.7 659.5,1148.6 662.5,1149.7 665.5,1149.1 668.5,1149.5 671.5,1149.8 674.5,1147.6 677.5,1148.4 680.5,1148.5 683.5,1146.0 686.5,1145.0 689.5,1144.8 692.5,1144.7 695.5,1142.4 698.5,1140.8 701.5,1139.4 707.5,1133.6 710.5,1130.5 713.5,1130.0 716.5,1130.1 719.5,1128.3 722.5,1130.5 725.5,1130.1 728.5,1131.3 731.5,1129.6 734.5,1129.9 737.5,1131.6 740.5,1130.5 743.5,1130.4 746.5,1128.9 749.5,1128.4 752.5,1127.6 755.5,1125.2 758.5,1124.8 761.5,1119.3 764.5,1115.3 767.5,1115.4 770.5,1112.4 773.5,1109.7 776.5,1108.3 779.5,1104.2 782.5,1101.9 785.5,1098.3 788.5,1092.5 791.5,1086.1 794.5,1083.5 797.5,1079.6 800.5,1075.4 806.5,1070.1 809.5,1064.8 812.5,1060.3 815.5,1052.1 818.5,1045.9 821.5,1037.9 824.5,1033.4 827.5,1027.5 830.5,1021.2 833.5,1013.5 836.5,1002.3 839.5,990.0 842.5,975.9 845.5,960.1 848.5,943.1 851.5,922.5 854.5,899.8 857.5,876.5 860.5,854.3 863.5,835.0 866.5,819.0 869.5,808.0 872.5,800.8 878.5,797.7 881.5,799.1 884.5,802.8 887.5,808.0 890.5,813.5 893.5,818.3 896.5,822.6 899.5,831.5 902.5,841.0 905.5,852.7 908.5,866.4 911.5,881.3 914.5,897.5 917.5,912.9 920.5,926.5 923.5,940.6 926.5,951.6 929.5,962.7 932.5,975.0 935.5,988.4 938.5,1001.1 941.5,1014.5 944.5,1027.5 950.5,1050.7 953.5,1058.0 956.5,1066.5 959.5,1073.4 962.5,1079.1 965.5,1081.3 968.5,1083.9 971.5,1084.9 974.5,1085.7 977.5,1084.4 980.5,1082.5 983.5,1078.0 986.5,1075.7 989.5,1074.5 992.5,1074.9 995.5,1075.1 998.5,1078.6 1001.5,1082.9 1004.5,1088.7 1007.5,1096.0 1010.5,1100.9 1013.5,1105.0 1016.5,1111.6 1019.5,1117.5 1022.5,1119.0 1025.5,1122.0 1028.5,1125.9 1031.5,1127.9 1034.5,1129.2 1037.5,1129.9 1040.5,1128.8 1043.5,1128.2 1046.5,1126.8 1049.5,1126.9 1052.5,1124.8 1055.5,1122.9 1058.5,1119.8 1061.5,1117.8 1064.5,1114.4 1067.5,1115.7 1070.5,1114.0 1073.5,1114.6 1076.5,1117.2 1079.5,1119.1 1082.5,1121.2 1085.5,1123.8 1088.5,1121.5 1091.5,1124.3 1094.5,1122.3 1097.5,1120.1 1100.5,1117.4 1103.5,1115.7 1106.5,1112.8 1109.5,1108.0 1112.5,1101.7 1115.5,1098.4 1118.5,1092.7 1121.5,1090.3 1124.5,1086.1 1127.5,1086.6 1130.5,1088.4 1133.5,1091.6 1136.5,1096.8 1139.5,1101.0 1142.5,1109.1 1145.5,1114.0 1148.5,1116.8 1151.5,1123.3 1154.5,1127.2 1157.5,1131.8 1160.5,1135.1 1163.5,1137.1 1166.5,1138.9 1169.5,1141.5 1172.5,1143.1 1175.5,1142.5 1178.5,1144.7 1184.5,1145.1 1187.5,1143.7 1190.5,1142.4 1193.5,1141.7 1196.5,1139.2 1199.5,1137.4 1202.5,1137.0 1205.5,1134.2 1208.5,1133.4 1211.5,1136.4 1214.5,1135.7 1217.5,1139.1 1220.5,1142.1 1223.5,1141.2 1226.5,1142.7 1229.5,1142.4 1232.5,1142.1 1235.5,1144.0 1238.5,1143.2 1241.5,1140.4 1244.5,1139.5 1247.5,1136.5 1250.5,1133.4 1253.5,1131.3 1256.5,1129.0 1259.5,1125.3 1262.5,1126.3 1265.5,1125.3 1268.5,1126.6 1271.5,1127.5 1274.5,1131.0 1277.5,1133.6 1280.5,1136.0 1283.5,1137.9 1286.5,1142.9 1289.5,1145.3 1292.5,1148.2 1295.5,1151.4 1298.5,1151.7 1301.5,1153.3 1304.5,1156.6 1307.5,1157.2 1310.5,1157.6 1313.5,1158.6 1316.5,1159.5 1319.5,1159.6 1322.5,1161.8 1325.5,1161.8 1328.5,1163.0 1331.5,1163.0 1334.5,1165.5 1337.5,1163.7 1340.5,1164.3 1343.5,1162.1 1346.5,1161.4 1349.5,1162.2 1352.5,1161.7 1355.5,1161.5 1358.5,1162.7 1361.5,1161.2 1364.5,1159.1 1367.5,1160.5 1370.5,1158.9 1373.5,1159.9 1376.5,1159.0 1379.5,1158.4 1382.5,1156.0 1385.5,1152.2 1388.5,1154.4 1391.5,1154.2 1394.5,1154.1 1397.5,1151.3 1400.5,1153.3 1403.5,1147.5 1406.5,1144.4 1409.5,1144.8 1412.5,1141.2 1415.5,1136.6 1418.5,1134.7 1421.5,1132.7 1424.5,1131.6 1427.5,1127.6 1430.5,1120.9 1433.5,1124.6 1436.5,1116.1 1439.5,1110.6 1442.5,1106.9 1445.5,1103.8 1448.5,1098.8 1451.5,1097.6 1454.5,1096.7 1457.5,1096.2 1460.5,1089.8 1463.5,1092.8 1466.5,1097.4 1469.5,1098.1 1472.5,1102.1 1475.5,1107.2 1478.5,1110.5 1481.5,1112.2 1484.5,1122.7 1487.5,1122.5 1490.5,1124.5 1493.5,1126.9 1496.5,1132.0 1499.5,1135.4 1502.5,1140.2 1505.5,1141.4 1508.5,1144.5 1511.5,1146.3 1514.5,1145.6 1517.5,1146.6 1520.5,1150.8 1523.5,1149.6 1526.5,1151.2 1529.5,1154.7 1532.5,1153.1 1535.5,1150.6 1538.5,1152.7 1541.5,1152.7 1544.5,1156.3 1547.5,1158.2 1550.5,1155.3 1553.5,1157.0 1556.5,1159.1 1559.5,1154.5 1562.5,1152.5 1565.5,1154.0 1568.5,1157.1 1571.5,1156.6 1574.5,1154.3 1577.5,1151.9 1580.5,1155.7 1583.5,1157.2 1586.5,1153.2 1589.5,1156.0 1592.5,1154.2 1595.5,1151.6 1598.5,1154.9 1601.5,1155.1 1604.5,1159.6 1607.5,1149.4 1610.5,1152.5" stroke="#555" stroke-width="1.7"/>
<polyline points="371.5,1165.5 387.5,1162.1 400.5,1158.6 410.5,1154.7 419.5,1149.8 425.5,1145.4 431.5,1139.8 437.5,1133.0 450.5,1116.1 454.5,1112.2 457.5,1110.4 460.5,1109.8 464.5,1110.4 477.5,1117.5 484.5,1119.8 490.5,1119.5 497.5,1116.3 505.5,1109.2 513.5,1098.9 520.5,1087.4 532.5,1065.0 537.5,1057.1 542.5,1051.6 545.5,1049.9 547.5,1049.5 550.5,1049.9 553.5,1051.5 559.5,1058.3 564.5,1066.6 582.5,1100.9 589.5,1111.8 596.5,1120.6 603.5,1127.7 611.5,1133.9 620.5,1139.1 629.5,1142.9 640.5,1145.9 651.5,1147.6 669.5,1148.6 679.5,1148.2 686.5,1146.5 694.5,1142.9 700.5,1139.2 710.5,1131.5 714.5,1129.5 719.5,1128.9 730.5,1131.0 737.5,1130.8 749.5,1127.3 758.5,1122.4 781.5,1102.8 785.5,1097.5 795.5,1081.0 798.5,1077.4 805.5,1071.1 808.5,1067.3 812.5,1060.0 820.5,1041.7 829.5,1023.6 832.5,1016.0 835.5,1006.4 839.5,990.4 846.5,954.6 851.5,922.2 861.5,847.9 865.5,824.4 867.5,815.5 870.5,805.8 873.5,800.2 876.5,798.2 878.5,798.7 880.5,800.3 885.5,807.6 896.5,828.4 901.5,842.0 906.5,862.3 919.5,927.8 932.5,979.2 942.5,1021.9 950.5,1051.1 957.5,1069.9 960.5,1075.7 964.5,1081.2 967.5,1083.7 971.5,1085.2 974.5,1085.0 977.5,1083.8 989.5,1074.6 992.5,1073.9 995.5,1075.0 997.5,1076.9 1000.5,1081.2 1012.5,1104.7 1018.5,1114.7 1025.5,1123.2 1031.5,1127.5 1034.5,1128.7 1038.5,1129.3 1042.5,1129.0 1046.5,1128.0 1053.5,1124.1 1064.5,1114.9 1068.5,1113.4 1072.5,1114.3 1081.5,1120.5 1085.5,1122.5 1090.5,1123.2 1094.5,1122.3 1099.5,1119.3 1104.5,1114.1 1120.5,1090.5 1124.5,1087.2 1127.5,1086.7 1130.5,1088.2 1134.5,1092.8 1148.5,1118.3 1156.5,1130.1 1164.5,1138.3 1169.5,1141.7 1173.5,1143.5 1180.5,1144.7 1187.5,1143.8 1193.5,1141.3 1203.5,1135.6 1207.5,1134.6 1212.5,1135.7 1225.5,1142.6 1230.5,1143.6 1234.5,1143.3 1238.5,1142.1 1243.5,1139.4 1259.5,1127.0 1263.5,1125.5 1266.5,1125.5 1269.5,1126.5 1272.5,1128.5 1289.5,1145.4 1294.5,1149.5 1300.5,1153.2 1309.5,1157.0 1325.5,1161.9 1331.5,1163.2 1337.5,1163.4 1366.5,1160.5 1377.5,1158.9 1390.5,1155.7 1402.5,1151.3 1412.5,1145.9 1422.5,1138.6 1429.5,1132.2 1444.5,1116.5 1450.5,1111.0 1456.5,1107.6 1461.5,1106.8 1466.5,1108.2 1472.5,1112.2 1493.5,1134.3 1504.5,1144.1 1514.5,1150.7 1524.5,1155.7 1540.5,1161.2 1559.5,1165.3 1584.5,1168.5 1610.5,1170.0" stroke="#000" stroke-width="3.3"/>
</g>
<line x1="371.5" y1="1178" x2="1610.5" y2="1178" stroke="#000" stroke-width="3.2"/>
<g clip-path="url(#cp30)" fill="none" stroke-linejoin="round" stroke-linecap="round">
<polyline points="371.5,1611.1 408.5,1608.4 436.5,1604.4 448.5,1601.8 458.5,1598.9 467.5,1595.6 476.5,1591.3 489.5,1582.7 500.5,1572.2 511.5,1558.2 528.5,1531.3 533.5,1524.3 539.5,1518.6 542.5,1517.1 544.5,1516.8 546.5,1517.0 549.5,1518.2 554.5,1522.5 560.5,1530.5 575.5,1554.4 584.5,1566.9 595.5,1578.8 607.5,1588.0 614.5,1592.1 622.5,1595.8 639.5,1601.4 660.5,1605.7 686.5,1608.9 718.5,1611.2 759.5,1612.8 885.5,1614.7 1118.5,1615.5 1610.5,1615.9" stroke="#16a016" stroke-width="5.3" stroke-dasharray="0.1 8.7"/>
<polyline points="371.5,1615.4 518.5,1614.7 606.5,1613.2 663.5,1610.6 684.5,1608.6 701.5,1606.2 715.5,1603.2 727.5,1599.6 738.5,1595.0 747.5,1589.8 755.5,1583.9 763.5,1576.3 788.5,1546.8 794.5,1542.4 799.5,1541.3 804.5,1542.7 809.5,1546.3 815.5,1552.8 829.5,1570.3 836.5,1577.9 846.5,1586.7 856.5,1593.2 869.5,1599.1 884.5,1603.6 902.5,1607.1 924.5,1609.7 950.5,1611.6 984.5,1613.0 1084.5,1614.7 1260.5,1615.5 1610.5,1615.8" stroke="#12b0c0" stroke-width="5.3" stroke-dasharray="0.1 8.7"/>
<polyline points="371.5,1616.0 1007.5,1615.6 1109.5,1614.9 1165.5,1613.4 1186.5,1612.1 1202.5,1610.3 1215.5,1607.7 1225.5,1604.5 1232.5,1601.2 1239.5,1596.8 1246.5,1590.8 1260.5,1576.8 1264.5,1574.3 1267.5,1573.5 1270.5,1573.9 1274.5,1576.1 1292.5,1593.6 1298.5,1598.2 1304.5,1601.8 1311.5,1604.9 1319.5,1607.4 1339.5,1611.1 1368.5,1613.4 1413.5,1614.7 1610.5,1615.8" stroke="#16a016" stroke-width="5.3" stroke-dasharray="0.1 8.7"/>
<polyline points="371.5,1615.9 1110.5,1615.2 1241.5,1614.0 1316.5,1611.7 1343.5,1609.8 1365.5,1607.2 1383.5,1603.7 1398.5,1599.2 1411.5,1593.4 1422.5,1586.6 1430.5,1580.3 1446.5,1565.7 1453.5,1560.2 1459.5,1557.2 1464.5,1556.5 1469.5,1557.5 1474.5,1560.1 1481.5,1565.6 1497.5,1580.2 1505.5,1586.5 1516.5,1593.4 1528.5,1598.8 1543.5,1603.4 1561.5,1607.0 1583.5,1609.7 1610.5,1611.7" stroke="#12b0c0" stroke-width="5.3" stroke-dasharray="0.1 8.7"/>
<polyline points="371.5,1612.2 386.5,1610.6 398.5,1608.6 408.5,1606.2 417.5,1602.8 424.5,1599.2 431.5,1594.3 451.5,1575.5 455.5,1573.4 458.5,1572.8 462.5,1573.7 466.5,1576.3 481.5,1590.8 489.5,1597.2 496.5,1601.4 504.5,1604.8 516.5,1608.2 530.5,1610.6 549.5,1612.5 573.5,1613.7 640.5,1615.1 765.5,1615.7 1610.5,1616.0" stroke="#ff9a9a" stroke-width="6.4" stroke-opacity="0.6"/>
<polyline points="371.5,1612.2 386.5,1610.6 398.5,1608.6 408.5,1606.2 417.5,1602.8 424.5,1599.2 431.5,1594.3 451.5,1575.5 455.5,1573.4 458.5,1572.8 462.5,1573.7 466.5,1576.3 481.5,1590.8 489.5,1597.2 496.5,1601.4 504.5,1604.8 516.5,1608.2 530.5,1610.6 549.5,1612.5 573.5,1613.7 640.5,1615.1 765.5,1615.7 1610.5,1616.0" stroke="#7e1212" stroke-width="3.0999999999999996"/>
<polyline points="371.5,1615.9 573.5,1615.3 614.5,1614.4 639.5,1612.7 656.5,1609.8 662.5,1608.0 668.5,1605.2 673.5,1601.9 677.5,1598.4 690.5,1583.6 693.5,1581.6 695.5,1581.2 697.5,1581.8 700.5,1583.9 710.5,1595.7 715.5,1600.6 720.5,1604.3 726.5,1607.3 734.5,1609.9 745.5,1612.0 758.5,1613.4 776.5,1614.4 825.5,1615.3 920.5,1615.8 1610.5,1616.0" stroke="#a0a0ff" stroke-width="6.2" stroke-opacity="0.6"/>
<polyline points="371.5,1615.9 573.5,1615.3 614.5,1614.4 639.5,1612.7 656.5,1609.8 662.5,1608.0 668.5,1605.2 673.5,1601.9 677.5,1598.4 690.5,1583.6 693.5,1581.6 695.5,1581.2 697.5,1581.8 700.5,1583.9 710.5,1595.7 715.5,1600.6 720.5,1604.3 726.5,1607.3 734.5,1609.9 745.5,1612.0 758.5,1613.4 776.5,1614.4 825.5,1615.3 920.5,1615.8 1610.5,1616.0" stroke="#14146a" stroke-width="2.9"/>
<polyline points="371.5,1615.7 608.5,1615.2 730.5,1614.0 770.5,1612.9 801.5,1611.4 825.5,1609.3 844.5,1606.5 860.5,1602.6 873.5,1597.6 884.5,1591.0 893.5,1582.9 901.5,1572.8 908.5,1561.0 928.5,1516.4 932.5,1510.8 934.5,1509.4 936.5,1509.0 939.5,1510.2 943.5,1515.2 948.5,1525.3 959.5,1551.2 965.5,1563.4 972.5,1574.7 980.5,1584.3 990.5,1592.6 1002.5,1599.1 1016.5,1603.9 1034.5,1607.6 1055.5,1610.1 1082.5,1612.0 1117.5,1613.4 1164.5,1614.3 1311.5,1615.4 1610.5,1615.8" stroke="#ffd080" stroke-width="6.4" stroke-opacity="0.6"/>
<polyline points="371.5,1615.7 608.5,1615.2 730.5,1614.0 770.5,1612.9 801.5,1611.4 825.5,1609.3 844.5,1606.5 860.5,1602.6 873.5,1597.6 884.5,1591.0 893.5,1582.9 901.5,1572.8 908.5,1561.0 928.5,1516.4 932.5,1510.8 934.5,1509.4 936.5,1509.0 939.5,1510.2 943.5,1515.2 948.5,1525.3 959.5,1551.2 965.5,1563.4 972.5,1574.7 980.5,1584.3 990.5,1592.6 1002.5,1599.1 1016.5,1603.9 1034.5,1607.6 1055.5,1610.1 1082.5,1612.0 1117.5,1613.4 1164.5,1614.3 1311.5,1615.4 1610.5,1615.8" stroke="#a86400" stroke-width="3.0999999999999996"/>
<polyline points="371.5,1615.9 804.5,1615.2 877.5,1614.1 900.5,1613.1 918.5,1611.7 932.5,1609.7 944.5,1607.0 954.5,1603.1 962.5,1598.2 968.5,1592.8 973.5,1586.7 978.5,1578.9 990.5,1556.5 993.5,1553.0 996.5,1551.8 999.5,1553.1 1002.5,1556.7 1013.5,1577.3 1019.5,1586.9 1024.5,1593.0 1030.5,1598.3 1038.5,1603.2 1048.5,1607.0 1060.5,1609.8 1074.5,1611.7 1092.5,1613.1 1115.5,1614.1 1187.5,1615.2 1610.5,1615.9" stroke="#ffff70" stroke-width="6.2" stroke-opacity="0.6"/>
<polyline points="371.5,1615.9 804.5,1615.2 877.5,1614.1 900.5,1613.1 918.5,1611.7 932.5,1609.7 944.5,1607.0 954.5,1603.1 962.5,1598.2 968.5,1592.8 973.5,1586.7 978.5,1578.9 990.5,1556.5 993.5,1553.0 996.5,1551.8 999.5,1553.1 1002.5,1556.7 1013.5,1577.3 1019.5,1586.9 1024.5,1593.0 1030.5,1598.3 1038.5,1603.2 1048.5,1607.0 1060.5,1609.8 1074.5,1611.7 1092.5,1613.1 1115.5,1614.1 1187.5,1615.2 1610.5,1615.9" stroke="#707000" stroke-width="2.9"/>
<polyline points="371.5,1616.0 880.5,1615.5 956.5,1614.5 997.5,1612.5 1012.5,1610.5 1023.5,1607.9 1032.5,1604.2 1039.5,1599.4 1044.5,1594.3 1049.5,1587.2 1054.5,1577.4 1063.5,1556.4 1066.5,1552.2 1068.5,1551.3 1070.5,1552.3 1073.5,1556.6 1082.5,1577.6 1087.5,1587.3 1091.5,1593.2 1096.5,1598.6 1103.5,1603.7 1111.5,1607.3 1121.5,1610.0 1133.5,1611.9 1168.5,1614.2 1230.5,1615.3 1610.5,1615.9" stroke="#c0c0ff" stroke-width="6.2" stroke-opacity="0.6"/>
<polyline points="371.5,1616.0 880.5,1615.5 956.5,1614.5 997.5,1612.5 1012.5,1610.5 1023.5,1607.9 1032.5,1604.2 1039.5,1599.4 1044.5,1594.3 1049.5,1587.2 1054.5,1577.4 1063.5,1556.4 1066.5,1552.2 1068.5,1551.3 1070.5,1552.3 1073.5,1556.6 1082.5,1577.6 1087.5,1587.3 1091.5,1593.2 1096.5,1598.6 1103.5,1603.7 1111.5,1607.3 1121.5,1610.0 1133.5,1611.9 1168.5,1614.2 1230.5,1615.3 1610.5,1615.9" stroke="#141438" stroke-width="2.9"/>
<polyline points="371.5,1615.9 732.5,1615.5 898.5,1614.6 949.5,1613.7 987.5,1612.4 1015.5,1610.6 1037.5,1608.0 1055.5,1604.3 1070.5,1598.9 1081.5,1592.4 1086.5,1588.3 1091.5,1583.1 1098.5,1573.6 1104.5,1562.7 1111.5,1545.9 1125.5,1506.4 1129.5,1499.5 1132.5,1497.6 1135.5,1498.9 1139.5,1505.2 1157.5,1554.8 1163.5,1567.5 1170.5,1578.7 1178.5,1587.8 1188.5,1595.4 1199.5,1600.8 1213.5,1605.2 1229.5,1608.3 1250.5,1610.7 1276.5,1612.4 1310.5,1613.6 1413.5,1615.0 1610.5,1615.7" stroke="#ff9cff" stroke-width="6.2" stroke-opacity="0.6"/>
<polyline points="371.5,1615.9 732.5,1615.5 898.5,1614.6 949.5,1613.7 987.5,1612.4 1015.5,1610.6 1037.5,1608.0 1055.5,1604.3 1070.5,1598.9 1081.5,1592.4 1086.5,1588.3 1091.5,1583.1 1098.5,1573.6 1104.5,1562.7 1111.5,1545.9 1125.5,1506.4 1129.5,1499.5 1132.5,1497.6 1135.5,1498.9 1139.5,1505.2 1157.5,1554.8 1163.5,1567.5 1170.5,1578.7 1178.5,1587.8 1188.5,1595.4 1199.5,1600.8 1213.5,1605.2 1229.5,1608.3 1250.5,1610.7 1276.5,1612.4 1310.5,1613.6 1413.5,1615.0 1610.5,1615.7" stroke="#501050" stroke-width="2.9"/>
<polyline points="371.5,1616.0 990.5,1615.8 1080.5,1615.4 1128.5,1614.6 1158.5,1612.8 1168.5,1611.3 1177.5,1609.1 1183.5,1606.8 1188.5,1604.2 1193.5,1600.6 1204.5,1591.1 1207.5,1589.5 1210.5,1589.0 1212.5,1589.5 1215.5,1591.1 1228.5,1602.1 1233.5,1605.3 1238.5,1607.7 1244.5,1609.7 1252.5,1611.5 1272.5,1613.7 1302.5,1614.9 1351.5,1615.5 1610.5,1615.9" stroke="#ffa0b0" stroke-width="6.2" stroke-opacity="0.6"/>
<polyline points="371.5,1616.0 990.5,1615.8 1080.5,1615.4 1128.5,1614.6 1158.5,1612.8 1168.5,1611.3 1177.5,1609.1 1183.5,1606.8 1188.5,1604.2 1193.5,1600.6 1204.5,1591.1 1207.5,1589.5 1210.5,1589.0 1212.5,1589.5 1215.5,1591.1 1228.5,1602.1 1233.5,1605.3 1238.5,1607.7 1244.5,1609.7 1252.5,1611.5 1272.5,1613.7 1302.5,1614.9 1351.5,1615.5 1610.5,1615.9" stroke="#501018" stroke-width="2.9"/>
<polyline points="371.5,1614.2 480.5,1613.1 560.5,1611.4 620.5,1609.0 666.5,1605.7 703.5,1601.0 718.5,1598.1 732.5,1594.7 744.5,1590.9 755.5,1586.4 765.5,1581.4 774.5,1575.6 782.5,1569.3 790.5,1561.5 797.5,1553.0 803.5,1544.3 809.5,1533.7 815.5,1521.0 820.5,1508.3 825.5,1493.3 833.5,1463.6 841.5,1425.5 848.5,1384.9 860.5,1307.2 865.5,1279.1 870.5,1259.6 873.5,1253.7 875.5,1252.5 877.5,1253.6 879.5,1256.9 881.5,1262.3 884.5,1274.0 889.5,1300.7 903.5,1390.6 910.5,1430.4 919.5,1471.5 924.5,1489.7 929.5,1505.3 935.5,1520.8 941.5,1533.6 948.5,1545.7 955.5,1555.5 963.5,1564.5 971.5,1571.8 980.5,1578.3 991.5,1584.5 1002.5,1589.3 1015.5,1593.8 1030.5,1597.7 1046.5,1600.8 1064.5,1603.5 1085.5,1605.8 1137.5,1609.4 1204.5,1611.8 1296.5,1613.4 1424.5,1614.5 1610.5,1615.1" stroke="#ff80ff" stroke-width="7.0" stroke-opacity="0.6"/>
<polyline points="371.5,1614.2 480.5,1613.1 560.5,1611.4 620.5,1609.0 666.5,1605.7 703.5,1601.0 718.5,1598.1 732.5,1594.7 744.5,1590.9 755.5,1586.4 765.5,1581.4 774.5,1575.6 782.5,1569.3 790.5,1561.5 797.5,1553.0 803.5,1544.3 809.5,1533.7 815.5,1521.0 820.5,1508.3 825.5,1493.3 833.5,1463.6 841.5,1425.5 848.5,1384.9 860.5,1307.2 865.5,1279.1 870.5,1259.6 873.5,1253.7 875.5,1252.5 877.5,1253.6 879.5,1256.9 881.5,1262.3 884.5,1274.0 889.5,1300.7 903.5,1390.6 910.5,1430.4 919.5,1471.5 924.5,1489.7 929.5,1505.3 935.5,1520.8 941.5,1533.6 948.5,1545.7 955.5,1555.5 963.5,1564.5 971.5,1571.8 980.5,1578.3 991.5,1584.5 1002.5,1589.3 1015.5,1593.8 1030.5,1597.7 1046.5,1600.8 1064.5,1603.5 1085.5,1605.8 1137.5,1609.4 1204.5,1611.8 1296.5,1613.4 1424.5,1614.5 1610.5,1615.1" stroke="#a010a6" stroke-width="3.6999999999999997"/>
<polyline points="371.5,1603.1 374.5,1601.0 377.5,1602.4 380.5,1601.0 383.5,1602.4 386.5,1600.9 389.5,1600.0 392.5,1600.7 395.5,1599.0 398.5,1598.7 404.5,1595.9 407.5,1594.6 410.5,1594.4 413.5,1593.7 416.5,1590.5 419.5,1590.0 422.5,1586.3 425.5,1586.5 428.5,1583.9 431.5,1580.2 434.5,1575.0 437.5,1572.3 440.5,1569.0 443.5,1563.4 446.5,1561.7 449.5,1557.2 452.5,1554.9 455.5,1551.3 458.5,1548.0 461.5,1547.7 464.5,1549.9 467.5,1551.0 470.5,1552.0 473.5,1554.4 476.5,1555.0 479.5,1556.6 482.5,1558.3 485.5,1558.7 488.5,1558.7 491.5,1557.1 494.5,1557.1 497.5,1556.5 500.5,1552.9 503.5,1551.3 506.5,1548.2 512.5,1541.8 515.5,1537.9 518.5,1532.2 521.5,1529.0 524.5,1525.0 527.5,1520.5 530.5,1516.4 533.5,1513.2 536.5,1509.7 539.5,1508.0 542.5,1508.6 545.5,1507.0 548.5,1509.1 551.5,1512.4 554.5,1513.3 557.5,1516.9 560.5,1519.3 563.5,1524.8 566.5,1528.2 569.5,1535.1 572.5,1538.1 575.5,1543.9 578.5,1547.4 581.5,1549.9 584.5,1555.8 587.5,1559.2 590.5,1561.5 593.5,1564.5 596.5,1566.6 599.5,1569.2 602.5,1571.9 605.5,1572.8 608.5,1574.7 611.5,1574.8 614.5,1576.4 617.5,1579.3 620.5,1580.2 623.5,1579.6 626.5,1581.2 629.5,1581.9 632.5,1581.9 635.5,1582.1 638.5,1582.4 641.5,1582.1 644.5,1582.4 647.5,1582.7 650.5,1581.9 653.5,1579.9 656.5,1579.9 659.5,1579.7 662.5,1578.6 665.5,1578.5 668.5,1577.2 671.5,1574.1 674.5,1572.1 677.5,1568.4 680.5,1567.2 683.5,1561.3 686.5,1558.2 689.5,1552.7 692.5,1551.1 695.5,1547.2 698.5,1547.3 701.5,1549.3 704.5,1552.5 707.5,1555.8 710.5,1557.8 713.5,1559.9 716.5,1562.1 719.5,1564.9 722.5,1563.5 725.5,1565.8 728.5,1564.0 731.5,1561.6 734.5,1560.3 737.5,1561.0 740.5,1557.4 743.5,1557.3 746.5,1556.8 749.5,1555.5 752.5,1552.6 755.5,1552.7 758.5,1549.6 761.5,1547.1 764.5,1542.3 767.5,1535.7 770.5,1529.3 773.5,1522.2 776.5,1515.5 779.5,1508.5 782.5,1504.0 785.5,1496.6 788.5,1491.1 791.5,1484.8 794.5,1477.5 797.5,1472.9 800.5,1466.8 803.5,1461.3 806.5,1456.9 809.5,1453.8 812.5,1451.1 815.5,1448.9 818.5,1447.2 821.5,1445.9 824.5,1442.0 827.5,1436.5 830.5,1428.8 833.5,1419.9 836.5,1410.0 839.5,1400.9 842.5,1393.2 845.5,1382.4 848.5,1373.7 851.5,1359.2 854.5,1336.6 857.5,1309.2 860.5,1276.7 863.5,1245.4 866.5,1222.3 869.5,1206.9 872.5,1201.8 875.5,1206.3 878.5,1210.4 881.5,1218.6 884.5,1224.7 887.5,1228.3 890.5,1233.3 893.5,1240.4 896.5,1252.6 899.5,1270.8 902.5,1292.2 905.5,1315.7 908.5,1336.2 911.5,1355.6 914.5,1368.7 917.5,1375.1 920.5,1383.0 923.5,1384.9 926.5,1384.6 929.5,1387.8 932.5,1388.7 935.5,1392.4 938.5,1397.9 941.5,1404.9 944.5,1414.3 947.5,1424.6 950.5,1437.3 953.5,1447.1 956.5,1458.9 959.5,1470.1 962.5,1477.8 965.5,1483.8 968.5,1490.9 971.5,1493.4 974.5,1497.0 977.5,1497.1 980.5,1495.1 983.5,1494.7 986.5,1491.4 989.5,1489.3 992.5,1489.1 995.5,1489.2 998.5,1491.7 1001.5,1496.0 1004.5,1503.3 1007.5,1512.1 1010.5,1518.8 1013.5,1526.8 1016.5,1531.8 1019.5,1539.3 1022.5,1541.6 1025.5,1545.9 1028.5,1548.2 1031.5,1550.2 1034.5,1550.1 1037.5,1551.3 1040.5,1549.3 1043.5,1548.6 1046.5,1547.0 1049.5,1542.9 1052.5,1536.5 1055.5,1532.6 1058.5,1524.7 1061.5,1518.3 1064.5,1512.6 1067.5,1509.0 1070.5,1509.3 1073.5,1513.5 1076.5,1519.8 1079.5,1523.6 1082.5,1532.6 1088.5,1538.5 1091.5,1539.2 1094.5,1539.9 1097.5,1537.9 1100.5,1535.6 1103.5,1534.0 1106.5,1528.3 1109.5,1523.5 1112.5,1516.6 1115.5,1511.0 1118.5,1502.4 1121.5,1495.8 1124.5,1486.8 1127.5,1482.8 1130.5,1479.2 1133.5,1479.9 1136.5,1482.5 1139.5,1486.2 1142.5,1493.2 1145.5,1503.1 1148.5,1511.5 1151.5,1521.2 1154.5,1528.0 1157.5,1535.9 1163.5,1549.4 1166.5,1554.8 1169.5,1557.1 1172.5,1561.3 1178.5,1566.6 1181.5,1567.8 1184.5,1568.8 1187.5,1568.9 1190.5,1567.1 1193.5,1568.2 1196.5,1566.1 1199.5,1565.1 1202.5,1562.3 1205.5,1561.1 1208.5,1559.3 1211.5,1560.2 1214.5,1564.2 1217.5,1564.5 1220.5,1567.5 1223.5,1568.8 1226.5,1570.2 1229.5,1571.7 1232.5,1573.7 1235.5,1573.4 1238.5,1574.4 1241.5,1573.6 1244.5,1572.2 1247.5,1571.6 1250.5,1570.7 1253.5,1568.4 1256.5,1567.3 1259.5,1564.1 1262.5,1562.7 1265.5,1561.9 1268.5,1562.4 1271.5,1561.8 1274.5,1562.5 1277.5,1566.1 1280.5,1568.7 1283.5,1572.5 1286.5,1574.7 1289.5,1578.6 1292.5,1580.1 1295.5,1584.2 1298.5,1587.6 1301.5,1589.9 1304.5,1588.1 1307.5,1590.9 1310.5,1591.6 1313.5,1595.4 1316.5,1595.1 1319.5,1595.7 1322.5,1597.3 1325.5,1597.3 1328.5,1596.7 1331.5,1596.2 1334.5,1596.2 1337.5,1599.2 1340.5,1597.4 1343.5,1598.5 1346.5,1599.8 1349.5,1598.4 1352.5,1599.1 1355.5,1600.2 1358.5,1599.7 1361.5,1599.0 1364.5,1598.9 1367.5,1597.9 1370.5,1598.2 1373.5,1597.7 1376.5,1597.9 1379.5,1597.1 1382.5,1593.5 1385.5,1595.3 1388.5,1597.8 1391.5,1592.4 1394.5,1594.1 1397.5,1595.1 1400.5,1592.4 1403.5,1590.2 1406.5,1591.0 1409.5,1586.5 1412.5,1583.2 1415.5,1582.3 1418.5,1579.6 1421.5,1575.5 1424.5,1579.3 1427.5,1575.0 1430.5,1574.3 1433.5,1565.9 1436.5,1566.2 1439.5,1557.5 1442.5,1561.9 1445.5,1556.5 1448.5,1553.2 1451.5,1547.0 1454.5,1548.5 1457.5,1548.4 1460.5,1544.4 1463.5,1547.7 1466.5,1547.5 1469.5,1550.6 1472.5,1555.3 1475.5,1555.2 1478.5,1560.8 1481.5,1555.8 1484.5,1560.4 1487.5,1566.4 1490.5,1569.0 1493.5,1570.7 1496.5,1572.6 1499.5,1577.7 1502.5,1577.7 1505.5,1578.1 1508.5,1583.9 1511.5,1582.1 1514.5,1586.3 1517.5,1588.4 1520.5,1584.8 1523.5,1589.9 1526.5,1592.3 1529.5,1592.0 1532.5,1595.9 1535.5,1597.0 1538.5,1595.3 1541.5,1593.8 1544.5,1597.8 1547.5,1597.9 1550.5,1596.5 1553.5,1596.6 1556.5,1600.0 1559.5,1594.9 1562.5,1595.6 1565.5,1593.8 1568.5,1594.5 1571.5,1592.4 1574.5,1601.8 1577.5,1594.5 1580.5,1595.0 1583.5,1596.6 1586.5,1596.1 1589.5,1593.4 1592.5,1598.9 1595.5,1595.6 1598.5,1594.6 1601.5,1592.1 1604.5,1592.3 1607.5,1598.1 1610.5,1592.5" stroke="#555" stroke-width="1.7"/>
<polyline points="371.5,1602.9 385.5,1601.4 396.5,1599.0 408.5,1594.8 418.5,1589.7 425.5,1584.9 432.5,1578.5 438.5,1571.7 451.5,1554.7 455.5,1550.9 458.5,1549.2 461.5,1548.7 464.5,1549.3 477.5,1556.3 483.5,1558.2 490.5,1558.2 497.5,1555.6 503.5,1551.4 510.5,1544.3 516.5,1536.5 528.5,1519.0 533.5,1512.9 538.5,1508.8 542.5,1507.5 545.5,1507.8 549.5,1509.5 556.5,1515.6 562.5,1523.3 581.5,1551.3 587.5,1558.5 594.5,1565.4 601.5,1570.8 609.5,1575.5 617.5,1578.9 626.5,1581.4 633.5,1582.2 639.5,1582.1 658.5,1580.0 666.5,1577.7 671.5,1574.7 676.5,1570.3 681.5,1564.4 690.5,1551.8 693.5,1549.0 695.5,1548.1 697.5,1548.0 700.5,1549.4 709.5,1557.7 714.5,1561.3 718.5,1563.0 722.5,1563.6 727.5,1563.2 732.5,1561.8 753.5,1553.1 757.5,1550.6 762.5,1545.1 767.5,1536.6 783.5,1501.5 802.5,1464.0 806.5,1458.1 809.5,1454.9 819.5,1448.5 823.5,1444.6 827.5,1437.7 832.5,1424.8 846.5,1382.4 849.5,1371.0 851.5,1360.8 855.5,1331.0 865.5,1230.8 868.5,1213.1 870.5,1207.3 871.5,1206.0 872.5,1205.6 873.5,1206.0 875.5,1208.7 882.5,1223.7 889.5,1236.0 892.5,1243.4 894.5,1250.5 899.5,1277.4 910.5,1356.5 913.5,1371.7 917.5,1384.5 919.5,1388.3 922.5,1391.6 931.5,1395.4 934.5,1397.7 937.5,1401.8 939.5,1405.6 944.5,1419.0 960.5,1472.6 965.5,1485.2 969.5,1492.5 973.5,1496.8 975.5,1497.8 977.5,1497.9 981.5,1496.2 988.5,1490.2 991.5,1488.4 994.5,1488.4 996.5,1489.7 998.5,1492.0 1001.5,1497.4 1012.5,1524.2 1017.5,1534.4 1023.5,1543.4 1026.5,1546.6 1030.5,1549.5 1035.5,1551.1 1039.5,1550.8 1043.5,1549.0 1047.5,1545.5 1053.5,1536.5 1064.5,1512.4 1066.5,1509.8 1068.5,1508.7 1070.5,1509.4 1072.5,1511.6 1081.5,1529.0 1086.5,1536.3 1089.5,1538.8 1092.5,1539.9 1095.5,1539.8 1098.5,1538.5 1103.5,1533.7 1109.5,1524.0 1122.5,1492.8 1126.5,1484.4 1129.5,1480.3 1132.5,1478.9 1134.5,1479.6 1136.5,1481.7 1140.5,1489.1 1155.5,1531.3 1163.5,1548.6 1168.5,1556.4 1173.5,1562.1 1178.5,1566.0 1183.5,1568.2 1188.5,1568.8 1192.5,1568.1 1196.5,1566.4 1205.5,1560.9 1209.5,1560.0 1211.5,1560.3 1214.5,1561.8 1223.5,1569.0 1228.5,1572.0 1233.5,1573.5 1238.5,1573.7 1243.5,1572.9 1249.5,1570.7 1265.5,1561.7 1270.5,1561.3 1273.5,1562.5 1277.5,1565.6 1289.5,1578.3 1296.5,1584.6 1303.5,1589.4 1310.5,1592.7 1320.5,1595.6 1345.5,1598.8 1353.5,1599.4 1363.5,1599.2 1376.5,1598.0 1388.5,1595.9 1398.5,1593.2 1408.5,1589.4 1417.5,1584.7 1425.5,1579.4 1446.5,1561.5 1452.5,1557.1 1459.5,1554.0 1465.5,1553.5 1471.5,1555.2 1477.5,1558.8 1498.5,1577.7 1509.5,1586.0 1519.5,1591.9 1530.5,1596.6 1549.5,1602.1 1572.5,1606.1 1591.5,1607.8 1610.5,1607.1" stroke="#000" stroke-width="3.3"/>
</g>
<line x1="371.5" y1="1617.5" x2="1610.5" y2="1617.5" stroke="#000" stroke-width="3.2"/>
<g clip-path="url(#cp20)" fill="none" stroke-linejoin="round" stroke-linecap="round">
<polyline points="371.5,2071.3 403.5,2067.1 429.5,2061.4 441.5,2057.7 451.5,2053.8 460.5,2049.5 469.5,2044.3 477.5,2038.6 484.5,2032.7 497.5,2019.1 509.5,2003.2 529.5,1973.1 536.5,1964.4 543.5,1958.7 546.5,1957.4 549.5,1957.0 552.5,1957.4 556.5,1959.2 563.5,1965.3 571.5,1975.8 591.5,2005.9 601.5,2019.0 614.5,2032.6 628.5,2043.5 636.5,2048.4 645.5,2052.9 655.5,2056.9 665.5,2060.3 689.5,2066.0 718.5,2070.3 753.5,2073.4 798.5,2075.8 855.5,2077.5 930.5,2078.7 1160.5,2080.1 1610.5,2080.7" stroke="#16a016" stroke-width="5.3" stroke-dasharray="0.1 8.7"/>
<polyline points="371.5,2079.5 505.5,2077.9 591.5,2075.0 622.5,2073.0 648.5,2070.3 670.5,2066.9 689.5,2062.6 704.5,2057.7 717.5,2052.0 729.5,2044.8 740.5,2036.1 750.5,2026.0 759.5,2014.8 767.5,2003.2 783.5,1977.9 789.5,1969.6 796.5,1962.9 800.5,1961.0 803.5,1960.6 806.5,1961.2 809.5,1962.6 812.5,1964.8 816.5,1969.0 823.5,1978.5 841.5,2006.9 850.5,2019.4 861.5,2031.8 873.5,2042.3 887.5,2051.1 904.5,2058.6 924.5,2064.5 948.5,2069.0 977.5,2072.4 1013.5,2074.9 1058.5,2076.8 1116.5,2078.2 1289.5,2079.8 1610.5,2080.6" stroke="#12b0c0" stroke-width="5.3" stroke-dasharray="0.1 8.7"/>
<polyline points="371.5,2081.0 1000.5,2080.8 1158.5,2079.7 1194.5,2078.3 1218.5,2075.6 1233.5,2071.7 1254.5,2062.4 1258.5,2061.1 1262.5,2060.6 1266.5,2061.0 1270.5,2062.2 1287.5,2070.0 1299.5,2073.9 1314.5,2076.7 1335.5,2078.6 1365.5,2079.7 1411.5,2080.4 1610.5,2080.9" stroke="#16a016" stroke-width="5.3" stroke-dasharray="0.1 8.7"/>
<polyline points="371.5,2080.9 869.5,2080.6 1108.5,2080.0 1239.5,2078.4 1282.5,2077.2 1315.5,2075.4 1343.5,2072.8 1365.5,2069.4 1383.5,2064.9 1398.5,2059.1 1408.5,2053.7 1418.5,2046.5 1429.5,2036.1 1452.5,2010.4 1458.5,2006.0 1461.5,2004.8 1464.5,2004.3 1469.5,2005.3 1475.5,2009.1 1482.5,2016.0 1499.5,2035.6 1507.5,2043.4 1518.5,2052.0 1530.5,2058.9 1545.5,2064.7 1562.5,2069.1 1583.5,2072.5 1610.5,2075.2" stroke="#12b0c0" stroke-width="5.3" stroke-dasharray="0.1 8.7"/>
<polyline points="371.5,2073.5 385.5,2070.9 396.5,2067.8 406.5,2063.9 414.5,2059.4 421.5,2054.4 428.5,2047.9 450.5,2022.3 455.5,2019.0 459.5,2018.3 463.5,2019.5 468.5,2023.4 485.5,2043.7 494.5,2052.8 503.5,2059.5 512.5,2064.4 525.5,2069.1 541.5,2072.7 561.5,2075.4 587.5,2077.3 658.5,2079.4 788.5,2080.4 1610.5,2081.0" stroke="#ff9a9a" stroke-width="6.4" stroke-opacity="0.6"/>
<polyline points="371.5,2073.5 385.5,2070.9 396.5,2067.8 406.5,2063.9 414.5,2059.4 421.5,2054.4 428.5,2047.9 450.5,2022.3 455.5,2019.0 459.5,2018.3 463.5,2019.5 468.5,2023.4 485.5,2043.7 494.5,2052.8 503.5,2059.5 512.5,2064.4 525.5,2069.1 541.5,2072.7 561.5,2075.4 587.5,2077.3 658.5,2079.4 788.5,2080.4 1610.5,2081.0" stroke="#7e1212" stroke-width="3.0999999999999996"/>
<polyline points="371.5,2080.4 484.5,2079.7 552.5,2078.4 596.5,2075.9 612.5,2074.1 625.5,2071.9 636.5,2069.1 645.5,2065.9 653.5,2061.9 661.5,2056.4 667.5,2051.0 673.5,2044.2 693.5,2015.7 697.5,2012.2 701.5,2011.0 705.5,2012.3 710.5,2017.2 725.5,2039.2 733.5,2049.1 740.5,2055.8 748.5,2061.4 759.5,2066.8 773.5,2071.1 790.5,2074.1 812.5,2076.4 838.5,2077.9 871.5,2079.0 977.5,2080.2 1610.5,2080.9" stroke="#a0a0ff" stroke-width="6.2" stroke-opacity="0.6"/>
<polyline points="371.5,2080.4 484.5,2079.7 552.5,2078.4 596.5,2075.9 612.5,2074.1 625.5,2071.9 636.5,2069.1 645.5,2065.9 653.5,2061.9 661.5,2056.4 667.5,2051.0 673.5,2044.2 693.5,2015.7 697.5,2012.2 701.5,2011.0 705.5,2012.3 710.5,2017.2 725.5,2039.2 733.5,2049.1 740.5,2055.8 748.5,2061.4 759.5,2066.8 773.5,2071.1 790.5,2074.1 812.5,2076.4 838.5,2077.9 871.5,2079.0 977.5,2080.2 1610.5,2080.9" stroke="#14146a" stroke-width="2.9"/>
<polyline points="371.5,2080.7 598.5,2080.1 719.5,2078.8 759.5,2077.6 790.5,2076.1 814.5,2074.0 834.5,2071.2 850.5,2067.5 864.5,2062.5 875.5,2056.5 885.5,2048.5 893.5,2039.6 901.5,2027.7 923.5,1984.7 928.5,1978.8 930.5,1977.7 932.5,1977.4 934.5,1978.0 936.5,1979.3 940.5,1984.1 944.5,1991.0 956.5,2015.9 963.5,2028.7 971.5,2040.3 980.5,2050.0 991.5,2058.1 1003.5,2064.0 1018.5,2068.8 1036.5,2072.3 1058.5,2074.9 1086.5,2076.8 1122.5,2078.2 1170.5,2079.2 1317.5,2080.3 1610.5,2080.8" stroke="#ffd080" stroke-width="6.4" stroke-opacity="0.6"/>
<polyline points="371.5,2080.7 598.5,2080.1 719.5,2078.8 759.5,2077.6 790.5,2076.1 814.5,2074.0 834.5,2071.2 850.5,2067.5 864.5,2062.5 875.5,2056.5 885.5,2048.5 893.5,2039.6 901.5,2027.7 923.5,1984.7 928.5,1978.8 930.5,1977.7 932.5,1977.4 934.5,1978.0 936.5,1979.3 940.5,1984.1 944.5,1991.0 956.5,2015.9 963.5,2028.7 971.5,2040.3 980.5,2050.0 991.5,2058.1 1003.5,2064.0 1018.5,2068.8 1036.5,2072.3 1058.5,2074.9 1086.5,2076.8 1122.5,2078.2 1170.5,2079.2 1317.5,2080.3 1610.5,2080.8" stroke="#a86400" stroke-width="3.0999999999999996"/>
<polyline points="371.5,2080.9 791.5,2080.1 867.5,2078.8 911.5,2076.4 927.5,2074.3 940.5,2071.6 951.5,2067.8 960.5,2063.1 967.5,2057.8 974.5,2050.6 993.5,2023.9 996.5,2021.4 999.5,2020.4 1002.5,2021.0 1006.5,2024.2 1025.5,2050.9 1032.5,2058.1 1039.5,2063.3 1048.5,2068.0 1058.5,2071.4 1071.5,2074.2 1087.5,2076.3 1106.5,2077.7 1131.5,2078.8 1205.5,2080.1 1610.5,2080.9" stroke="#ffff70" stroke-width="6.2" stroke-opacity="0.6"/>
<polyline points="371.5,2080.9 791.5,2080.1 867.5,2078.8 911.5,2076.4 927.5,2074.3 940.5,2071.6 951.5,2067.8 960.5,2063.1 967.5,2057.8 974.5,2050.6 993.5,2023.9 996.5,2021.4 999.5,2020.4 1002.5,2021.0 1006.5,2024.2 1025.5,2050.9 1032.5,2058.1 1039.5,2063.3 1048.5,2068.0 1058.5,2071.4 1071.5,2074.2 1087.5,2076.3 1106.5,2077.7 1131.5,2078.8 1205.5,2080.1 1610.5,2080.9" stroke="#707000" stroke-width="2.9"/>
<polyline points="371.5,2080.9 701.5,2080.6 853.5,2079.8 935.5,2077.9 961.5,2076.3 981.5,2074.1 998.5,2070.7 1011.5,2066.2 1022.5,2060.0 1031.5,2051.8 1037.5,2044.0 1043.5,2033.5 1049.5,2019.7 1061.5,1987.1 1065.5,1979.8 1068.5,1977.7 1071.5,1978.9 1074.5,1983.2 1078.5,1992.4 1087.5,2017.4 1092.5,2029.5 1098.5,2041.1 1105.5,2050.9 1113.5,2058.6 1123.5,2064.9 1134.5,2069.3 1148.5,2072.7 1165.5,2075.2 1187.5,2077.1 1215.5,2078.4 1253.5,2079.4 1371.5,2080.4 1610.5,2080.8" stroke="#c0c0ff" stroke-width="6.2" stroke-opacity="0.6"/>
<polyline points="371.5,2080.9 701.5,2080.6 853.5,2079.8 935.5,2077.9 961.5,2076.3 981.5,2074.1 998.5,2070.7 1011.5,2066.2 1022.5,2060.0 1031.5,2051.8 1037.5,2044.0 1043.5,2033.5 1049.5,2019.7 1061.5,1987.1 1065.5,1979.8 1068.5,1977.7 1071.5,1978.9 1074.5,1983.2 1078.5,1992.4 1087.5,2017.4 1092.5,2029.5 1098.5,2041.1 1105.5,2050.9 1113.5,2058.6 1123.5,2064.9 1134.5,2069.3 1148.5,2072.7 1165.5,2075.2 1187.5,2077.1 1215.5,2078.4 1253.5,2079.4 1371.5,2080.4 1610.5,2080.8" stroke="#141438" stroke-width="2.9"/>
<polyline points="371.5,2080.8 712.5,2080.2 878.5,2078.9 931.5,2077.8 971.5,2076.0 1001.5,2073.7 1025.5,2070.4 1045.5,2065.7 1053.5,2062.9 1061.5,2059.4 1068.5,2055.4 1074.5,2051.2 1080.5,2046.0 1085.5,2040.7 1094.5,2028.3 1102.5,2013.2 1108.5,1999.0 1121.5,1962.9 1126.5,1951.0 1130.5,1944.6 1132.5,1942.9 1134.5,1942.3 1136.5,1942.7 1138.5,1944.3 1143.5,1952.4 1164.5,2008.0 1171.5,2022.6 1179.5,2035.3 1188.5,2045.7 1198.5,2053.9 1210.5,2060.7 1225.5,2066.2 1242.5,2070.1 1264.5,2073.3 1291.5,2075.6 1326.5,2077.4 1427.5,2079.4 1610.5,2080.4" stroke="#ff9cff" stroke-width="6.2" stroke-opacity="0.6"/>
<polyline points="371.5,2080.8 712.5,2080.2 878.5,2078.9 931.5,2077.8 971.5,2076.0 1001.5,2073.7 1025.5,2070.4 1045.5,2065.7 1053.5,2062.9 1061.5,2059.4 1068.5,2055.4 1074.5,2051.2 1080.5,2046.0 1085.5,2040.7 1094.5,2028.3 1102.5,2013.2 1108.5,1999.0 1121.5,1962.9 1126.5,1951.0 1130.5,1944.6 1132.5,1942.9 1134.5,1942.3 1136.5,1942.7 1138.5,1944.3 1143.5,1952.4 1164.5,2008.0 1171.5,2022.6 1179.5,2035.3 1188.5,2045.7 1198.5,2053.9 1210.5,2060.7 1225.5,2066.2 1242.5,2070.1 1264.5,2073.3 1291.5,2075.6 1326.5,2077.4 1427.5,2079.4 1610.5,2080.4" stroke="#501050" stroke-width="2.9"/>
<polyline points="371.5,2081.0 979.5,2080.6 1071.5,2080.0 1120.5,2078.6 1137.5,2077.4 1151.5,2075.5 1162.5,2073.0 1171.5,2069.6 1177.5,2066.1 1182.5,2062.1 1188.5,2055.8 1200.5,2040.3 1203.5,2037.9 1206.5,2037.2 1208.5,2037.7 1211.5,2039.9 1226.5,2058.7 1231.5,2063.5 1237.5,2067.7 1243.5,2070.7 1251.5,2073.5 1260.5,2075.5 1272.5,2077.1 1303.5,2079.1 1354.5,2080.2 1610.5,2080.9" stroke="#ffa0b0" stroke-width="6.2" stroke-opacity="0.6"/>
<polyline points="371.5,2081.0 979.5,2080.6 1071.5,2080.0 1120.5,2078.6 1137.5,2077.4 1151.5,2075.5 1162.5,2073.0 1171.5,2069.6 1177.5,2066.1 1182.5,2062.1 1188.5,2055.8 1200.5,2040.3 1203.5,2037.9 1206.5,2037.2 1208.5,2037.7 1211.5,2039.9 1226.5,2058.7 1231.5,2063.5 1237.5,2067.7 1243.5,2070.7 1251.5,2073.5 1260.5,2075.5 1272.5,2077.1 1303.5,2079.1 1354.5,2080.2 1610.5,2080.9" stroke="#501018" stroke-width="2.9"/>
<polyline points="371.5,2078.6 472.5,2077.2 548.5,2075.3 607.5,2072.5 653.5,2068.8 690.5,2063.7 706.5,2060.5 720.5,2056.9 733.5,2052.7 744.5,2048.2 754.5,2043.2 764.5,2037.0 773.5,2030.1 781.5,2022.6 788.5,2014.8 795.5,2005.4 801.5,1995.8 807.5,1984.5 813.5,1971.2 818.5,1958.3 827.5,1930.1 836.5,1894.6 844.5,1856.7 858.5,1783.9 864.5,1757.3 867.5,1747.0 870.5,1739.5 873.5,1735.0 875.5,1733.9 876.5,1734.0 878.5,1735.2 881.5,1739.8 884.5,1747.5 887.5,1757.9 893.5,1784.7 909.5,1867.5 917.5,1903.9 927.5,1940.8 932.5,1956.0 938.5,1971.6 944.5,1984.9 951.5,1997.8 958.5,2008.5 966.5,2018.5 975.5,2027.6 984.5,2035.0 994.5,2041.6 1005.5,2047.4 1017.5,2052.4 1031.5,2056.9 1046.5,2060.8 1063.5,2064.1 1082.5,2066.9 1104.5,2069.4 1157.5,2073.3 1225.5,2076.0 1315.5,2077.8 1438.5,2079.0 1610.5,2079.8" stroke="#ff80ff" stroke-width="7.0" stroke-opacity="0.6"/>
<polyline points="371.5,2078.6 472.5,2077.2 548.5,2075.3 607.5,2072.5 653.5,2068.8 690.5,2063.7 706.5,2060.5 720.5,2056.9 733.5,2052.7 744.5,2048.2 754.5,2043.2 764.5,2037.0 773.5,2030.1 781.5,2022.6 788.5,2014.8 795.5,2005.4 801.5,1995.8 807.5,1984.5 813.5,1971.2 818.5,1958.3 827.5,1930.1 836.5,1894.6 844.5,1856.7 858.5,1783.9 864.5,1757.3 867.5,1747.0 870.5,1739.5 873.5,1735.0 875.5,1733.9 876.5,1734.0 878.5,1735.2 881.5,1739.8 884.5,1747.5 887.5,1757.9 893.5,1784.7 909.5,1867.5 917.5,1903.9 927.5,1940.8 932.5,1956.0 938.5,1971.6 944.5,1984.9 951.5,1997.8 958.5,2008.5 966.5,2018.5 975.5,2027.6 984.5,2035.0 994.5,2041.6 1005.5,2047.4 1017.5,2052.4 1031.5,2056.9 1046.5,2060.8 1063.5,2064.1 1082.5,2066.9 1104.5,2069.4 1157.5,2073.3 1225.5,2076.0 1315.5,2077.8 1438.5,2079.0 1610.5,2079.8" stroke="#a010a6" stroke-width="3.6999999999999997"/>
<polyline points="371.5,2055.9 374.5,2054.4 377.5,2054.9 380.5,2054.5 383.5,2053.7 386.5,2051.8 389.5,2052.1 392.5,2051.6 395.5,2049.0 398.5,2048.3 401.5,2046.8 404.5,2045.1 407.5,2043.7 410.5,2040.5 413.5,2037.1 416.5,2034.3 419.5,2032.3 422.5,2029.5 425.5,2026.8 428.5,2020.5 431.5,2019.0 434.5,2012.3 437.5,2009.9 440.5,2004.3 443.5,1998.9 446.5,1992.0 449.5,1988.8 452.5,1985.0 455.5,1982.0 458.5,1978.0 461.5,1977.9 464.5,1979.8 467.5,1978.3 470.5,1979.5 473.5,1979.2 476.5,1981.7 479.5,1983.1 482.5,1984.3 485.5,1983.2 488.5,1984.7 491.5,1984.2 494.5,1983.9 497.5,1983.1 500.5,1981.7 503.5,1979.0 506.5,1977.4 509.5,1973.9 512.5,1970.5 515.5,1968.2 518.5,1964.6 521.5,1960.6 524.5,1955.1 527.5,1952.6 530.5,1947.5 533.5,1944.0 536.5,1942.7 539.5,1941.0 542.5,1937.1 545.5,1937.3 548.5,1935.4 551.5,1937.9 554.5,1938.1 557.5,1939.9 560.5,1940.1 563.5,1943.8 569.5,1952.2 572.5,1956.3 575.5,1958.1 578.5,1963.4 581.5,1969.0 584.5,1972.3 587.5,1976.6 590.5,1981.7 593.5,1984.1 596.5,1987.6 599.5,1992.1 602.5,1995.0 605.5,1999.3 608.5,1998.9 611.5,2003.1 614.5,2005.5 617.5,2004.5 620.5,2008.0 623.5,2007.7 626.5,2009.9 629.5,2012.8 632.5,2011.1 635.5,2013.0 638.5,2010.7 641.5,2010.1 644.5,2010.7 647.5,2010.4 650.5,2009.0 653.5,2009.0 656.5,2006.9 659.5,2006.1 662.5,2004.2 665.5,2001.4 668.5,1998.8 671.5,1994.4 674.5,1988.9 677.5,1985.8 680.5,1980.1 683.5,1977.7 686.5,1971.7 689.5,1966.6 692.5,1960.2 695.5,1958.0 698.5,1953.8 701.5,1952.9 704.5,1952.2 707.5,1951.9 710.5,1954.7 713.5,1956.2 716.5,1958.1 719.5,1960.3 722.5,1964.4 725.5,1965.0 728.5,1966.8 731.5,1966.3 734.5,1966.5 737.5,1965.6 740.5,1966.1 743.5,1964.8 746.5,1963.1 749.5,1957.8 752.5,1955.1 755.5,1951.1 758.5,1947.1 761.5,1942.1 764.5,1937.3 767.5,1931.1 770.5,1923.5 773.5,1917.9 776.5,1909.9 779.5,1902.6 782.5,1896.0 785.5,1890.0 788.5,1881.7 791.5,1874.6 794.5,1867.9 797.5,1860.3 800.5,1854.9 803.5,1850.0 806.5,1842.3 809.5,1838.8 812.5,1832.3 815.5,1831.2 818.5,1824.8 821.5,1820.1 824.5,1816.2 827.5,1809.4 830.5,1803.8 833.5,1796.5 836.5,1788.7 839.5,1779.0 842.5,1770.5 845.5,1758.6 848.5,1747.9 851.5,1735.1 854.5,1723.9 857.5,1710.6 860.5,1700.0 863.5,1689.6 866.5,1680.8 869.5,1672.5 872.5,1670.1 875.5,1667.5 878.5,1667.1 881.5,1669.7 884.5,1671.6 887.5,1682.1 890.5,1688.0 893.5,1697.7 896.5,1708.9 899.5,1722.2 902.5,1735.1 905.5,1746.8 908.5,1757.7 911.5,1766.5 914.5,1775.1 917.5,1783.1 920.5,1788.6 923.5,1794.3 926.5,1799.8 929.5,1806.5 932.5,1812.1 935.5,1821.5 938.5,1829.7 941.5,1842.6 944.5,1855.2 947.5,1863.8 950.5,1877.2 953.5,1889.3 956.5,1899.6 959.5,1909.7 962.5,1919.0 965.5,1926.3 968.5,1932.3 971.5,1935.5 974.5,1939.6 977.5,1940.2 980.5,1939.8 983.5,1938.7 986.5,1938.4 989.5,1936.6 992.5,1934.8 995.5,1936.2 998.5,1933.8 1001.5,1938.4 1004.5,1940.3 1007.5,1946.0 1010.5,1951.4 1013.5,1955.2 1016.5,1959.8 1019.5,1965.2 1022.5,1968.1 1025.5,1971.1 1028.5,1973.8 1031.5,1975.1 1034.5,1973.3 1037.5,1972.1 1040.5,1969.3 1043.5,1966.3 1046.5,1960.6 1052.5,1948.2 1055.5,1941.8 1058.5,1933.9 1061.5,1925.9 1064.5,1919.9 1067.5,1916.8 1070.5,1917.6 1073.5,1919.0 1076.5,1923.4 1079.5,1928.0 1082.5,1934.4 1085.5,1942.0 1088.5,1946.8 1091.5,1950.7 1094.5,1953.1 1097.5,1953.7 1100.5,1953.5 1103.5,1951.4 1106.5,1949.3 1109.5,1946.3 1112.5,1939.2 1115.5,1934.4 1118.5,1929.4 1121.5,1922.1 1124.5,1915.9 1127.5,1911.6 1130.5,1908.4 1133.5,1907.8 1136.5,1909.4 1139.5,1913.2 1142.5,1918.2 1145.5,1927.2 1148.5,1933.4 1151.5,1942.6 1154.5,1950.4 1157.5,1958.9 1160.5,1967.9 1163.5,1974.1 1166.5,1980.6 1169.5,1984.4 1172.5,1991.2 1175.5,1993.5 1178.5,1996.3 1181.5,1999.7 1184.5,2001.2 1187.5,2000.9 1190.5,1999.4 1193.5,1999.0 1196.5,1996.3 1199.5,1995.7 1202.5,1994.7 1205.5,1994.0 1208.5,1995.8 1211.5,1999.9 1214.5,2005.0 1217.5,2009.2 1220.5,2013.8 1223.5,2019.4 1226.5,2022.7 1229.5,2025.7 1232.5,2028.5 1235.5,2032.5 1238.5,2031.6 1241.5,2031.7 1244.5,2032.1 1247.5,2033.9 1250.5,2033.8 1253.5,2033.5 1256.5,2033.6 1259.5,2036.3 1262.5,2037.7 1265.5,2037.7 1268.5,2038.3 1271.5,2041.2 1274.5,2042.8 1277.5,2045.0 1280.5,2045.4 1283.5,2048.8 1286.5,2049.3 1289.5,2050.1 1292.5,2052.5 1295.5,2053.1 1298.5,2054.7 1301.5,2055.4 1304.5,2056.8 1307.5,2056.3 1310.5,2057.9 1313.5,2058.0 1319.5,2057.1 1322.5,2059.3 1325.5,2059.2 1328.5,2059.6 1331.5,2059.2 1334.5,2058.2 1337.5,2060.0 1340.5,2060.1 1343.5,2059.6 1346.5,2059.6 1349.5,2060.3 1352.5,2059.5 1355.5,2059.2 1358.5,2059.9 1361.5,2060.4 1364.5,2058.1 1367.5,2057.4 1370.5,2059.3 1373.5,2058.2 1376.5,2057.8 1379.5,2056.4 1382.5,2055.9 1385.5,2055.0 1388.5,2053.8 1391.5,2052.7 1394.5,2051.9 1397.5,2049.9 1400.5,2050.4 1403.5,2047.8 1406.5,2047.4 1409.5,2044.7 1412.5,2041.8 1415.5,2040.9 1418.5,2039.3 1421.5,2036.4 1424.5,2034.5 1427.5,2033.1 1430.5,2027.4 1433.5,2025.3 1436.5,2021.2 1439.5,2017.9 1442.5,2016.2 1445.5,2011.2 1448.5,2008.9 1451.5,2005.7 1454.5,2001.8 1460.5,2001.4 1463.5,1998.7 1466.5,1999.4 1469.5,2003.1 1472.5,2001.3 1475.5,2002.2 1478.5,2005.5 1481.5,2010.8 1484.5,2012.6 1487.5,2019.2 1490.5,2019.8 1493.5,2023.3 1496.5,2026.7 1499.5,2030.3 1502.5,2033.2 1505.5,2036.5 1508.5,2040.7 1511.5,2042.4 1514.5,2043.7 1517.5,2047.7 1520.5,2049.5 1523.5,2050.4 1526.5,2050.6 1529.5,2053.0 1532.5,2054.2 1535.5,2053.8 1538.5,2055.9 1541.5,2057.7 1544.5,2059.9 1547.5,2058.3 1550.5,2059.5 1553.5,2060.9 1556.5,2061.5 1559.5,2061.9 1562.5,2061.6 1565.5,2062.7 1568.5,2064.5 1571.5,2064.6 1574.5,2065.4 1577.5,2066.1 1580.5,2064.9 1583.5,2063.5 1586.5,2065.6 1589.5,2066.6 1592.5,2066.1 1595.5,2067.4 1598.5,2068.9 1601.5,2067.4 1604.5,2068.6 1610.5,2068.1" stroke="#555" stroke-width="1.7"/>
<polyline points="371.5,2055.5 384.5,2053.4 393.5,2050.4 404.5,2044.4 414.5,2036.9 421.5,2030.1 428.5,2021.6 435.5,2011.5 449.5,1989.2 453.5,1984.0 457.5,1980.3 461.5,1978.4 466.5,1978.2 480.5,1983.6 486.5,1984.8 492.5,1984.3 498.5,1982.0 504.5,1978.3 511.5,1972.0 530.5,1948.8 535.5,1943.4 540.5,1939.4 545.5,1937.2 549.5,1936.8 554.5,1937.9 558.5,1940.1 563.5,1944.4 570.5,1952.8 592.5,1983.4 599.5,1991.4 606.5,1998.2 612.5,2002.8 619.5,2007.0 626.5,2009.9 632.5,2011.2 640.5,2011.4 649.5,2010.0 656.5,2007.3 663.5,2002.6 669.5,1996.7 675.5,1988.9 694.5,1958.2 698.5,1954.0 701.5,1952.2 704.5,1951.8 708.5,1952.8 723.5,1963.6 730.5,1966.5 734.5,1966.8 737.5,1966.4 741.5,1964.8 745.5,1962.2 749.5,1958.6 754.5,1952.6 764.5,1936.7 772.5,1920.2 789.5,1878.9 801.5,1852.8 808.5,1840.0 823.5,1817.1 831.5,1801.3 837.5,1785.8 843.5,1766.6 859.5,1704.0 864.5,1686.6 867.5,1678.5 870.5,1672.6 873.5,1669.0 876.5,1667.6 879.5,1668.4 883.5,1672.8 886.5,1678.3 890.5,1688.8 895.5,1705.8 905.5,1746.3 910.5,1764.4 916.5,1780.8 929.5,1806.4 935.5,1821.6 943.5,1848.7 957.5,1904.8 961.5,1917.6 965.5,1927.2 968.5,1932.4 971.5,1936.2 974.5,1938.6 977.5,1939.9 982.5,1939.9 994.5,1935.5 997.5,1935.8 1000.5,1937.4 1005.5,1942.9 1019.5,1965.0 1023.5,1969.5 1027.5,1972.5 1031.5,1973.7 1035.5,1973.2 1039.5,1970.7 1043.5,1966.2 1046.5,1961.5 1050.5,1953.5 1062.5,1924.1 1065.5,1919.0 1067.5,1917.0 1070.5,1916.4 1072.5,1917.6 1074.5,1919.9 1085.5,1941.2 1090.5,1948.9 1094.5,1952.5 1096.5,1953.3 1099.5,1953.5 1103.5,1951.7 1108.5,1946.4 1113.5,1938.2 1125.5,1914.6 1129.5,1909.4 1131.5,1908.1 1133.5,1907.7 1135.5,1908.3 1137.5,1910.0 1141.5,1916.1 1146.5,1928.0 1157.5,1959.4 1163.5,1974.4 1170.5,1987.8 1173.5,1992.1 1177.5,1996.4 1182.5,1999.6 1187.5,2000.5 1191.5,1999.6 1201.5,1995.0 1204.5,1995.0 1206.5,1995.7 1211.5,2000.6 1225.5,2021.7 1229.5,2026.0 1233.5,2029.2 1237.5,2031.4 1241.5,2032.7 1255.5,2034.5 1261.5,2036.2 1288.5,2050.1 1298.5,2054.4 1307.5,2057.0 1316.5,2058.5 1351.5,2060.1 1360.5,2059.7 1371.5,2058.4 1381.5,2056.4 1390.5,2053.9 1403.5,2048.7 1415.5,2041.4 1422.5,2035.9 1428.5,2030.3 1445.5,2011.5 1451.5,2005.6 1458.5,2001.1 1461.5,2000.2 1465.5,2000.0 1470.5,2001.2 1476.5,2005.0 1482.5,2010.8 1498.5,2029.5 1507.5,2038.6 1518.5,2047.4 1530.5,2054.4 1545.5,2060.6 1562.5,2065.2 1582.5,2068.7 1610.5,2072.0" stroke="#000" stroke-width="3.3"/>
</g>
<line x1="371.5" y1="2082.5" x2="1610.5" y2="2082.5" stroke="#000" stroke-width="3.2"/>
<g clip-path="url(#cp10)" fill="none" stroke-linejoin="round" stroke-linecap="round">
<polyline points="371.5,2532.3 390.5,2529.7 406.5,2526.7 420.5,2523.4 433.5,2519.5 445.5,2514.8 455.5,2509.8 465.5,2503.7 474.5,2496.8 482.5,2489.3 489.5,2481.5 496.5,2472.3 502.5,2463.3 512.5,2445.6 532.5,2404.1 540.5,2389.9 544.5,2384.6 547.5,2381.8 550.5,2380.0 553.5,2379.4 556.5,2379.9 559.5,2381.7 562.5,2384.5 566.5,2389.7 573.5,2401.9 592.5,2441.4 603.5,2461.5 609.5,2470.7 616.5,2480.2 622.5,2487.1 629.5,2494.0 637.5,2500.7 646.5,2506.9 655.5,2511.9 665.5,2516.4 676.5,2520.4 688.5,2523.9 702.5,2527.1 717.5,2529.8 752.5,2534.0 796.5,2537.1 852.5,2539.3 926.5,2540.9 1156.5,2542.7 1610.5,2543.4" stroke="#16a016" stroke-width="5.3" stroke-dasharray="0.1 8.7"/>
<polyline points="371.5,2542.6 509.5,2541.3 595.5,2538.7 626.5,2536.8 652.5,2534.3 673.5,2531.1 691.5,2527.1 705.5,2522.5 718.5,2516.6 729.5,2509.7 739.5,2501.3 748.5,2491.6 756.5,2480.8 764.5,2468.1 778.5,2443.5 784.5,2434.5 790.5,2428.3 793.5,2426.8 796.5,2426.3 798.5,2426.6 801.5,2428.1 807.5,2434.0 813.5,2442.9 828.5,2469.1 837.5,2483.1 848.5,2496.9 859.5,2507.1 866.5,2512.2 873.5,2516.4 889.5,2523.5 908.5,2529.0 931.5,2533.2 959.5,2536.3 994.5,2538.6 1038.5,2540.3 1096.5,2541.5 1272.5,2542.9 1610.5,2543.5" stroke="#12b0c0" stroke-width="5.3" stroke-dasharray="0.1 8.7"/>
<polyline points="371.5,2543.8 999.5,2543.6 1158.5,2542.6 1195.5,2541.2 1219.5,2538.7 1233.5,2535.4 1255.5,2526.5 1263.5,2524.9 1267.5,2525.3 1271.5,2526.3 1289.5,2533.9 1301.5,2537.4 1316.5,2539.8 1337.5,2541.5 1367.5,2542.6 1413.5,2543.2 1610.5,2543.7" stroke="#16a016" stroke-width="5.3" stroke-dasharray="0.1 8.7"/>
<polyline points="371.5,2543.7 872.5,2543.3 1111.5,2542.5 1241.5,2540.6 1284.5,2539.0 1317.5,2536.7 1345.5,2533.5 1367.5,2529.1 1385.5,2523.4 1400.5,2516.0 1412.5,2507.4 1423.5,2496.7 1431.5,2486.8 1448.5,2462.4 1455.5,2453.9 1460.5,2449.8 1465.5,2448.2 1470.5,2449.3 1476.5,2453.8 1482.5,2461.0 1498.5,2484.0 1508.5,2496.6 1519.5,2507.4 1531.5,2516.0 1546.5,2523.4 1563.5,2528.9 1584.5,2533.2 1610.5,2536.4" stroke="#12b0c0" stroke-width="5.3" stroke-dasharray="0.1 8.7"/>
<polyline points="371.5,2535.9 386.5,2533.0 398.5,2529.4 408.5,2524.9 417.5,2519.3 425.5,2512.4 432.5,2504.5 453.5,2474.0 458.5,2469.6 462.5,2468.6 466.5,2470.1 471.5,2474.9 488.5,2500.1 496.5,2510.0 504.5,2517.5 513.5,2523.7 526.5,2529.6 542.5,2534.0 562.5,2537.2 587.5,2539.5 617.5,2540.9 657.5,2541.9 785.5,2543.1 1610.5,2543.7" stroke="#ff9a9a" stroke-width="6.4" stroke-opacity="0.6"/>
<polyline points="371.5,2535.9 386.5,2533.0 398.5,2529.4 408.5,2524.9 417.5,2519.3 425.5,2512.4 432.5,2504.5 453.5,2474.0 458.5,2469.6 462.5,2468.6 466.5,2470.1 471.5,2474.9 488.5,2500.1 496.5,2510.0 504.5,2517.5 513.5,2523.7 526.5,2529.6 542.5,2534.0 562.5,2537.2 587.5,2539.5 617.5,2540.9 657.5,2541.9 785.5,2543.1 1610.5,2543.7" stroke="#7e1212" stroke-width="3.0999999999999996"/>
<polyline points="371.5,2543.4 493.5,2542.9 563.5,2541.8 607.5,2539.8 623.5,2538.3 636.5,2536.3 647.5,2533.8 656.5,2530.8 664.5,2526.9 671.5,2522.2 677.5,2516.8 683.5,2509.9 700.5,2484.9 704.5,2481.3 707.5,2480.2 710.5,2480.9 714.5,2484.1 718.5,2489.3 729.5,2506.2 734.5,2512.7 742.5,2520.8 750.5,2526.5 760.5,2531.3 773.5,2535.1 789.5,2537.9 810.5,2540.0 867.5,2542.1 969.5,2543.2 1610.5,2543.7" stroke="#a0a0ff" stroke-width="6.2" stroke-opacity="0.6"/>
<polyline points="371.5,2543.4 493.5,2542.9 563.5,2541.8 607.5,2539.8 623.5,2538.3 636.5,2536.3 647.5,2533.8 656.5,2530.8 664.5,2526.9 671.5,2522.2 677.5,2516.8 683.5,2509.9 700.5,2484.9 704.5,2481.3 707.5,2480.2 710.5,2480.9 714.5,2484.1 718.5,2489.3 729.5,2506.2 734.5,2512.7 742.5,2520.8 750.5,2526.5 760.5,2531.3 773.5,2535.1 789.5,2537.9 810.5,2540.0 867.5,2542.1 969.5,2543.2 1610.5,2543.7" stroke="#14146a" stroke-width="2.9"/>
<polyline points="371.5,2543.5 607.5,2543.0 728.5,2541.8 768.5,2540.6 798.5,2539.1 821.5,2537.0 840.5,2534.1 855.5,2530.4 868.5,2525.1 879.5,2518.2 888.5,2509.7 895.5,2500.5 902.5,2488.1 922.5,2441.2 926.5,2435.6 929.5,2434.0 932.5,2434.9 936.5,2439.8 940.5,2447.9 951.5,2475.4 958.5,2490.5 965.5,2502.3 973.5,2512.1 983.5,2520.6 994.5,2526.7 1008.5,2531.6 1026.5,2535.4 1047.5,2538.0 1074.5,2539.9 1109.5,2541.2 1156.5,2542.2 1304.5,2543.2 1610.5,2543.6" stroke="#ffd080" stroke-width="6.4" stroke-opacity="0.6"/>
<polyline points="371.5,2543.5 607.5,2543.0 728.5,2541.8 768.5,2540.6 798.5,2539.1 821.5,2537.0 840.5,2534.1 855.5,2530.4 868.5,2525.1 879.5,2518.2 888.5,2509.7 895.5,2500.5 902.5,2488.1 922.5,2441.2 926.5,2435.6 929.5,2434.0 932.5,2434.9 936.5,2439.8 940.5,2447.9 951.5,2475.4 958.5,2490.5 965.5,2502.3 973.5,2512.1 983.5,2520.6 994.5,2526.7 1008.5,2531.6 1026.5,2535.4 1047.5,2538.0 1074.5,2539.9 1109.5,2541.2 1156.5,2542.2 1304.5,2543.2 1610.5,2543.6" stroke="#a86400" stroke-width="3.0999999999999996"/>
<polyline points="371.5,2543.7 806.5,2543.0 879.5,2541.8 903.5,2540.7 921.5,2539.2 936.5,2537.1 948.5,2534.1 958.5,2529.9 966.5,2524.6 972.5,2518.7 978.5,2510.6 994.5,2479.9 997.5,2476.3 1000.5,2475.3 1003.5,2476.9 1006.5,2481.0 1017.5,2503.0 1023.5,2513.1 1028.5,2519.5 1033.5,2524.3 1041.5,2529.7 1051.5,2534.0 1063.5,2537.0 1077.5,2539.1 1095.5,2540.6 1118.5,2541.7 1189.5,2543.0 1610.5,2543.7" stroke="#ffff70" stroke-width="6.2" stroke-opacity="0.6"/>
<polyline points="371.5,2543.7 806.5,2543.0 879.5,2541.8 903.5,2540.7 921.5,2539.2 936.5,2537.1 948.5,2534.1 958.5,2529.9 966.5,2524.6 972.5,2518.7 978.5,2510.6 994.5,2479.9 997.5,2476.3 1000.5,2475.3 1003.5,2476.9 1006.5,2481.0 1017.5,2503.0 1023.5,2513.1 1028.5,2519.5 1033.5,2524.3 1041.5,2529.7 1051.5,2534.0 1063.5,2537.0 1077.5,2539.1 1095.5,2540.6 1118.5,2541.7 1189.5,2543.0 1610.5,2543.7" stroke="#707000" stroke-width="2.9"/>
<polyline points="371.5,2543.7 864.5,2543.0 944.5,2541.7 969.5,2540.6 988.5,2539.0 1004.5,2536.6 1016.5,2533.6 1026.5,2529.3 1035.5,2523.2 1041.5,2517.0 1046.5,2510.1 1052.5,2499.0 1064.5,2472.6 1067.5,2468.6 1070.5,2467.2 1072.5,2468.0 1075.5,2471.5 1091.5,2505.5 1097.5,2514.9 1103.5,2521.6 1111.5,2527.8 1120.5,2532.2 1131.5,2535.6 1144.5,2538.0 1161.5,2539.9 1182.5,2541.2 1246.5,2542.7 1364.5,2543.4 1610.5,2543.7" stroke="#c0c0ff" stroke-width="6.2" stroke-opacity="0.6"/>
<polyline points="371.5,2543.7 864.5,2543.0 944.5,2541.7 969.5,2540.6 988.5,2539.0 1004.5,2536.6 1016.5,2533.6 1026.5,2529.3 1035.5,2523.2 1041.5,2517.0 1046.5,2510.1 1052.5,2499.0 1064.5,2472.6 1067.5,2468.6 1070.5,2467.2 1072.5,2468.0 1075.5,2471.5 1091.5,2505.5 1097.5,2514.9 1103.5,2521.6 1111.5,2527.8 1120.5,2532.2 1131.5,2535.6 1144.5,2538.0 1161.5,2539.9 1182.5,2541.2 1246.5,2542.7 1364.5,2543.4 1610.5,2543.7" stroke="#141438" stroke-width="2.9"/>
<polyline points="371.5,2543.6 702.5,2543.2 868.5,2542.2 962.5,2540.0 994.5,2538.2 1019.5,2535.8 1040.5,2532.4 1057.5,2527.9 1071.5,2522.0 1083.5,2514.4 1092.5,2506.4 1101.5,2495.7 1108.5,2485.2 1122.5,2461.1 1127.5,2453.7 1132.5,2448.8 1136.5,2447.3 1138.5,2447.4 1141.5,2448.8 1146.5,2453.8 1151.5,2461.2 1163.5,2482.0 1170.5,2493.0 1178.5,2503.2 1186.5,2511.2 1196.5,2518.6 1207.5,2524.4 1219.5,2528.8 1234.5,2532.6 1252.5,2535.5 1274.5,2537.8 1301.5,2539.5 1336.5,2540.9 1436.5,2542.5 1610.5,2543.3" stroke="#ff9cff" stroke-width="6.2" stroke-opacity="0.6"/>
<polyline points="371.5,2543.6 702.5,2543.2 868.5,2542.2 962.5,2540.0 994.5,2538.2 1019.5,2535.8 1040.5,2532.4 1057.5,2527.9 1071.5,2522.0 1083.5,2514.4 1092.5,2506.4 1101.5,2495.7 1108.5,2485.2 1122.5,2461.1 1127.5,2453.7 1132.5,2448.8 1136.5,2447.3 1138.5,2447.4 1141.5,2448.8 1146.5,2453.8 1151.5,2461.2 1163.5,2482.0 1170.5,2493.0 1178.5,2503.2 1186.5,2511.2 1196.5,2518.6 1207.5,2524.4 1219.5,2528.8 1234.5,2532.6 1252.5,2535.5 1274.5,2537.8 1301.5,2539.5 1336.5,2540.9 1436.5,2542.5 1610.5,2543.3" stroke="#501050" stroke-width="2.9"/>
<polyline points="371.5,2543.8 976.5,2543.4 1068.5,2542.7 1118.5,2541.3 1136.5,2539.9 1150.5,2538.1 1161.5,2535.5 1170.5,2532.1 1176.5,2528.7 1182.5,2524.0 1188.5,2517.7 1200.5,2502.1 1203.5,2499.5 1206.5,2498.4 1209.5,2499.0 1212.5,2501.3 1227.5,2520.2 1232.5,2525.1 1238.5,2529.5 1245.5,2533.1 1253.5,2535.9 1262.5,2537.9 1274.5,2539.6 1305.5,2541.8 1356.5,2542.9 1610.5,2543.7" stroke="#ffa0b0" stroke-width="6.2" stroke-opacity="0.6"/>
<polyline points="371.5,2543.8 976.5,2543.4 1068.5,2542.7 1118.5,2541.3 1136.5,2539.9 1150.5,2538.1 1161.5,2535.5 1170.5,2532.1 1176.5,2528.7 1182.5,2524.0 1188.5,2517.7 1200.5,2502.1 1203.5,2499.5 1206.5,2498.4 1209.5,2499.0 1212.5,2501.3 1227.5,2520.2 1232.5,2525.1 1238.5,2529.5 1245.5,2533.1 1253.5,2535.9 1262.5,2537.9 1274.5,2539.6 1305.5,2541.8 1356.5,2542.9 1610.5,2543.7" stroke="#501018" stroke-width="2.9"/>
<polyline points="371.5,2541.1 470.5,2539.6 545.5,2537.5 603.5,2534.6 649.5,2530.7 686.5,2525.4 702.5,2522.1 716.5,2518.4 729.5,2514.1 741.5,2509.2 751.5,2504.1 761.5,2497.8 770.5,2490.9 778.5,2483.5 785.5,2475.8 792.5,2466.6 799.5,2455.6 805.5,2444.6 811.5,2431.6 816.5,2419.1 826.5,2388.6 835.5,2354.0 843.5,2317.4 858.5,2241.6 864.5,2215.4 868.5,2202.0 871.5,2194.8 874.5,2190.6 877.5,2189.5 880.5,2191.6 883.5,2196.8 886.5,2204.8 889.5,2215.2 896.5,2246.2 912.5,2326.7 920.5,2362.0 930.5,2398.4 935.5,2413.4 941.5,2429.1 947.5,2442.4 954.5,2455.6 962.5,2467.9 970.5,2478.1 979.5,2487.3 988.5,2494.9 998.5,2501.7 1010.5,2508.2 1022.5,2513.3 1036.5,2518.1 1052.5,2522.3 1069.5,2525.7 1088.5,2528.7 1110.5,2531.3 1163.5,2535.4 1230.5,2538.2 1320.5,2540.2 1441.5,2541.6 1610.5,2542.5" stroke="#ff80ff" stroke-width="7.0" stroke-opacity="0.6"/>
<polyline points="371.5,2541.1 470.5,2539.6 545.5,2537.5 603.5,2534.6 649.5,2530.7 686.5,2525.4 702.5,2522.1 716.5,2518.4 729.5,2514.1 741.5,2509.2 751.5,2504.1 761.5,2497.8 770.5,2490.9 778.5,2483.5 785.5,2475.8 792.5,2466.6 799.5,2455.6 805.5,2444.6 811.5,2431.6 816.5,2419.1 826.5,2388.6 835.5,2354.0 843.5,2317.4 858.5,2241.6 864.5,2215.4 868.5,2202.0 871.5,2194.8 874.5,2190.6 877.5,2189.5 880.5,2191.6 883.5,2196.8 886.5,2204.8 889.5,2215.2 896.5,2246.2 912.5,2326.7 920.5,2362.0 930.5,2398.4 935.5,2413.4 941.5,2429.1 947.5,2442.4 954.5,2455.6 962.5,2467.9 970.5,2478.1 979.5,2487.3 988.5,2494.9 998.5,2501.7 1010.5,2508.2 1022.5,2513.3 1036.5,2518.1 1052.5,2522.3 1069.5,2525.7 1088.5,2528.7 1110.5,2531.3 1163.5,2535.4 1230.5,2538.2 1320.5,2540.2 1441.5,2541.6 1610.5,2542.5" stroke="#a010a6" stroke-width="3.6999999999999997"/>
<polyline points="371.5,2518.1 374.5,2515.8 377.5,2516.8 380.5,2513.4 383.5,2514.4 386.5,2512.3 389.5,2511.7 392.5,2511.0 395.5,2510.6 398.5,2508.7 401.5,2506.9 404.5,2504.0 407.5,2502.4 410.5,2500.4 413.5,2498.1 416.5,2495.8 419.5,2491.4 422.5,2488.5 425.5,2485.2 428.5,2480.5 431.5,2475.0 434.5,2470.3 437.5,2463.5 440.5,2459.1 443.5,2452.7 446.5,2446.6 449.5,2442.4 452.5,2436.6 455.5,2430.2 458.5,2425.2 461.5,2423.1 464.5,2422.9 467.5,2421.2 470.5,2422.6 473.5,2422.2 476.5,2424.5 479.5,2427.3 482.5,2427.1 485.5,2429.0 488.5,2428.6 491.5,2431.1 494.5,2431.1 497.5,2429.4 500.5,2428.1 503.5,2425.1 506.5,2421.6 509.5,2418.5 512.5,2414.1 515.5,2409.5 518.5,2405.0 521.5,2401.4 524.5,2394.3 527.5,2389.7 530.5,2384.2 533.5,2376.9 536.5,2373.3 539.5,2370.2 542.5,2365.4 545.5,2362.5 548.5,2360.8 551.5,2360.0 554.5,2359.9 557.5,2360.7 560.5,2361.3 563.5,2363.0 566.5,2369.5 569.5,2374.0 572.5,2378.0 575.5,2384.7 581.5,2396.5 587.5,2410.4 590.5,2415.8 593.5,2419.8 596.5,2426.8 599.5,2431.2 602.5,2437.5 605.5,2440.1 608.5,2443.9 611.5,2449.0 614.5,2453.2 617.5,2455.4 620.5,2458.0 623.5,2460.8 626.5,2461.7 629.5,2464.0 632.5,2465.1 635.5,2465.7 638.5,2467.0 641.5,2467.6 644.5,2468.5 647.5,2469.5 650.5,2469.7 653.5,2471.4 656.5,2470.6 659.5,2469.8 662.5,2471.1 665.5,2469.0 668.5,2467.3 674.5,2462.7 677.5,2458.8 680.5,2456.0 683.5,2451.9 686.5,2446.2 689.5,2442.8 692.5,2436.9 695.5,2431.9 698.5,2425.1 701.5,2420.9 704.5,2416.1 707.5,2414.9 710.5,2413.9 713.5,2413.1 716.5,2417.4 719.5,2416.8 722.5,2418.6 725.5,2421.0 728.5,2421.1 731.5,2423.2 734.5,2423.3 737.5,2424.5 740.5,2424.2 743.5,2421.8 746.5,2420.4 749.5,2415.0 752.5,2412.0 755.5,2408.1 758.5,2403.4 761.5,2398.8 767.5,2385.0 770.5,2380.0 773.5,2376.5 776.5,2368.3 779.5,2364.0 782.5,2357.1 785.5,2350.3 788.5,2344.2 791.5,2337.6 794.5,2331.8 797.5,2326.4 800.5,2322.4 803.5,2318.3 806.5,2315.2 809.5,2311.1 812.5,2308.4 815.5,2302.7 818.5,2299.6 821.5,2297.2 824.5,2291.6 827.5,2289.7 830.5,2287.3 833.5,2281.7 836.5,2273.4 839.5,2266.2 842.5,2255.9 845.5,2243.4 848.5,2228.6 851.5,2214.1 854.5,2197.7 857.5,2184.7 860.5,2170.1 863.5,2156.8 866.5,2144.8 869.5,2136.7 872.5,2129.8 875.5,2124.4 878.5,2124.5 881.5,2126.1 884.5,2132.3 887.5,2140.1 890.5,2149.6 893.5,2157.5 896.5,2169.8 899.5,2180.4 902.5,2192.5 905.5,2201.7 908.5,2211.4 911.5,2219.5 914.5,2227.4 917.5,2231.7 920.5,2239.4 923.5,2242.3 926.5,2250.9 929.5,2259.1 932.5,2269.8 935.5,2280.7 938.5,2294.2 941.5,2306.1 944.5,2319.9 947.5,2334.6 950.5,2347.9 953.5,2359.5 956.5,2370.7 959.5,2378.6 962.5,2389.0 965.5,2394.5 968.5,2401.1 971.5,2404.5 974.5,2407.4 977.5,2409.8 980.5,2408.2 986.5,2404.6 989.5,2401.5 992.5,2399.5 995.5,2398.4 998.5,2396.9 1001.5,2399.4 1004.5,2403.2 1007.5,2409.4 1010.5,2416.5 1013.5,2424.7 1016.5,2433.0 1019.5,2437.6 1022.5,2442.5 1025.5,2447.6 1028.5,2449.7 1031.5,2451.4 1034.5,2454.1 1037.5,2454.1 1040.5,2454.4 1043.5,2453.2 1046.5,2448.4 1049.5,2445.1 1052.5,2440.1 1055.5,2434.9 1058.5,2429.4 1061.5,2422.0 1064.5,2417.0 1067.5,2412.9 1070.5,2408.8 1073.5,2411.2 1076.5,2416.8 1079.5,2419.1 1082.5,2426.4 1085.5,2431.7 1088.5,2436.4 1091.5,2441.5 1094.5,2441.4 1097.5,2442.1 1100.5,2443.5 1103.5,2444.1 1106.5,2441.5 1109.5,2441.1 1112.5,2437.0 1115.5,2435.4 1118.5,2430.3 1121.5,2427.8 1124.5,2424.4 1127.5,2420.8 1130.5,2420.4 1133.5,2417.9 1136.5,2418.2 1139.5,2422.0 1142.5,2421.2 1145.5,2423.8 1148.5,2428.8 1151.5,2433.0 1154.5,2436.6 1157.5,2443.7 1160.5,2447.7 1163.5,2452.2 1166.5,2454.7 1169.5,2458.4 1172.5,2461.5 1175.5,2464.6 1178.5,2466.2 1181.5,2466.7 1184.5,2468.9 1187.5,2467.3 1190.5,2467.0 1193.5,2465.7 1196.5,2462.4 1199.5,2461.3 1202.5,2458.9 1205.5,2461.0 1208.5,2459.9 1211.5,2463.6 1214.5,2468.2 1217.5,2470.8 1220.5,2476.2 1223.5,2482.6 1226.5,2485.8 1229.5,2488.7 1232.5,2492.2 1235.5,2494.3 1238.5,2495.3 1241.5,2497.5 1244.5,2497.2 1247.5,2497.5 1250.5,2498.4 1253.5,2499.2 1256.5,2497.0 1259.5,2498.9 1262.5,2500.2 1265.5,2501.8 1268.5,2501.8 1271.5,2503.8 1274.5,2505.7 1277.5,2506.6 1280.5,2508.8 1283.5,2510.9 1286.5,2512.1 1289.5,2513.2 1292.5,2515.0 1295.5,2515.2 1298.5,2518.0 1301.5,2516.8 1304.5,2519.8 1307.5,2519.7 1310.5,2520.6 1313.5,2520.1 1316.5,2520.4 1319.5,2520.9 1322.5,2519.7 1325.5,2520.3 1328.5,2519.6 1331.5,2517.8 1334.5,2518.6 1337.5,2520.8 1340.5,2519.5 1343.5,2520.1 1346.5,2520.6 1349.5,2521.1 1352.5,2521.1 1355.5,2521.0 1358.5,2519.7 1361.5,2521.1 1364.5,2520.9 1367.5,2520.5 1370.5,2518.2 1373.5,2518.0 1376.5,2517.7 1379.5,2517.3 1382.5,2515.4 1385.5,2516.1 1388.5,2513.4 1391.5,2512.6 1394.5,2512.2 1397.5,2508.0 1400.5,2506.0 1403.5,2505.4 1406.5,2504.7 1409.5,2502.2 1412.5,2499.5 1415.5,2495.4 1418.5,2493.8 1421.5,2488.9 1424.5,2487.4 1427.5,2485.1 1430.5,2481.6 1433.5,2475.7 1436.5,2472.4 1439.5,2469.3 1442.5,2463.2 1445.5,2457.8 1448.5,2453.7 1451.5,2451.2 1454.5,2448.0 1457.5,2445.3 1460.5,2443.3 1463.5,2441.0 1466.5,2439.6 1469.5,2443.9 1472.5,2445.5 1475.5,2444.9 1478.5,2451.1 1481.5,2452.5 1484.5,2458.0 1487.5,2462.6 1490.5,2466.9 1493.5,2472.7 1496.5,2475.7 1499.5,2479.7 1502.5,2481.6 1505.5,2486.2 1508.5,2488.8 1511.5,2493.5 1514.5,2496.3 1517.5,2494.7 1520.5,2499.4 1523.5,2501.0 1526.5,2501.8 1529.5,2503.1 1532.5,2505.2 1535.5,2507.5 1538.5,2506.8 1541.5,2509.3 1544.5,2510.8 1547.5,2510.6 1550.5,2509.9 1553.5,2511.5 1556.5,2512.6 1559.5,2515.8 1562.5,2514.4 1565.5,2512.4 1568.5,2511.7 1571.5,2514.6 1574.5,2513.2 1577.5,2513.9 1580.5,2513.6 1583.5,2515.5 1586.5,2514.2 1589.5,2515.2 1592.5,2514.2 1595.5,2515.7 1598.5,2516.9 1601.5,2517.5 1604.5,2515.5 1607.5,2516.5 1610.5,2517.5" stroke="#555" stroke-width="1.7"/>
<polyline points="371.5,2517.3 385.5,2514.0 395.5,2509.8 407.5,2502.3 417.5,2493.5 424.5,2485.5 431.5,2475.5 438.5,2463.2 453.5,2434.1 457.5,2428.1 461.5,2423.9 465.5,2421.9 469.5,2421.9 473.5,2423.3 484.5,2428.8 490.5,2430.0 494.5,2429.6 497.5,2428.6 504.5,2423.9 510.5,2417.3 516.5,2408.7 533.5,2378.6 539.5,2369.1 545.5,2362.1 548.5,2360.0 551.5,2358.9 554.5,2358.8 558.5,2360.4 562.5,2363.8 566.5,2368.9 573.5,2380.9 588.5,2411.3 596.5,2426.3 604.5,2439.2 612.5,2449.7 619.5,2456.8 626.5,2461.8 632.5,2464.5 645.5,2468.9 652.5,2470.5 659.5,2470.2 666.5,2467.7 673.5,2463.0 679.5,2456.9 684.5,2450.2 702.5,2419.7 705.5,2416.3 708.5,2414.3 711.5,2413.8 714.5,2414.5 726.5,2421.7 732.5,2423.9 738.5,2424.1 741.5,2423.2 744.5,2421.4 747.5,2418.7 751.5,2413.7 760.5,2399.0 776.5,2369.5 791.5,2337.9 797.5,2327.0 805.5,2316.1 829.5,2287.1 835.5,2277.0 840.5,2263.2 844.5,2247.8 858.5,2179.0 865.5,2149.2 868.5,2139.3 871.5,2131.6 874.5,2126.7 877.5,2124.8 879.5,2125.3 881.5,2127.1 883.5,2130.2 886.5,2136.9 891.5,2151.9 903.5,2195.3 909.5,2214.5 914.5,2227.0 925.5,2248.7 929.5,2259.2 935.5,2280.8 947.5,2334.9 953.5,2359.6 959.5,2379.6 965.5,2394.8 969.5,2402.0 972.5,2405.8 975.5,2408.1 978.5,2409.0 981.5,2408.4 984.5,2406.7 992.5,2399.2 995.5,2397.1 998.5,2396.9 1000.5,2398.0 1002.5,2400.2 1005.5,2405.5 1015.5,2429.4 1020.5,2439.7 1025.5,2447.2 1028.5,2450.4 1031.5,2452.6 1035.5,2454.0 1039.5,2453.8 1043.5,2451.8 1046.5,2449.2 1049.5,2445.5 1053.5,2439.0 1064.5,2416.5 1067.5,2412.5 1069.5,2411.1 1072.5,2411.4 1075.5,2414.2 1085.5,2431.7 1090.5,2438.6 1094.5,2441.9 1099.5,2443.5 1104.5,2442.8 1110.5,2439.3 1115.5,2434.6 1124.5,2424.6 1129.5,2420.5 1133.5,2418.8 1137.5,2418.9 1141.5,2420.8 1146.5,2425.8 1164.5,2453.4 1169.5,2459.5 1173.5,2463.2 1180.5,2467.0 1186.5,2467.7 1191.5,2466.1 1202.5,2459.4 1205.5,2459.1 1207.5,2459.7 1209.5,2461.1 1212.5,2464.4 1223.5,2481.6 1228.5,2488.1 1233.5,2493.0 1238.5,2496.1 1244.5,2498.1 1258.5,2499.1 1264.5,2500.5 1270.5,2503.1 1291.5,2514.2 1298.5,2516.9 1306.5,2519.1 1317.5,2520.4 1334.5,2519.1 1347.5,2520.9 1353.5,2521.1 1368.5,2519.3 1383.5,2515.6 1396.5,2510.4 1407.5,2503.9 1417.5,2495.9 1426.5,2486.5 1434.5,2476.3 1448.5,2456.5 1454.5,2449.4 1458.5,2445.9 1461.5,2444.3 1464.5,2443.4 1467.5,2443.5 1470.5,2444.5 1473.5,2446.3 1479.5,2452.2 1500.5,2482.0 1511.5,2495.3 1520.5,2503.8 1530.5,2511.1 1543.5,2518.1 1559.5,2523.9 1573.5,2527.5 1610.5,2535.0" stroke="#000" stroke-width="3.3"/>
</g>
<line x1="371.5" y1="2545.3" x2="1610.5" y2="2545.3" stroke="#000" stroke-width="3.2"/>
<g clip-path="url(#cp0)" fill="none" stroke-linejoin="round" stroke-linecap="round">
<polyline points="371.5,2996.8 389.5,2994.3 405.5,2991.5 419.5,2988.2 432.5,2984.3 444.5,2979.7 454.5,2974.8 463.5,2969.4 472.5,2962.7 480.5,2955.5 487.5,2948.0 494.5,2939.1 501.5,2928.7 511.5,2911.2 531.5,2870.6 539.5,2856.8 543.5,2851.9 546.5,2849.3 549.5,2847.7 552.5,2847.3 555.5,2848.1 558.5,2849.9 561.5,2852.9 565.5,2858.2 573.5,2872.4 592.5,2911.1 601.5,2927.0 607.5,2936.2 614.5,2945.5 620.5,2952.3 627.5,2959.2 635.5,2965.8 644.5,2971.9 653.5,2976.8 663.5,2981.3 674.5,2985.3 687.5,2989.0 716.5,2994.6 751.5,2998.7 795.5,3001.7 852.5,3003.9 926.5,3005.4 1156.5,3007.1 1610.5,3007.8" stroke="#16a016" stroke-width="5.3" stroke-dasharray="0.1 8.7"/>
<polyline points="371.5,3007.0 509.5,3005.6 594.5,3003.0 625.5,3001.1 650.5,2998.7 671.5,2995.5 689.5,2991.5 703.5,2986.9 716.5,2981.0 728.5,2973.5 738.5,2965.0 747.5,2955.1 755.5,2944.2 763.5,2931.3 776.5,2908.5 782.5,2899.3 788.5,2892.9 791.5,2891.1 794.5,2890.4 797.5,2890.9 800.5,2892.5 806.5,2898.7 812.5,2907.7 828.5,2935.6 836.5,2947.8 847.5,2961.4 858.5,2971.6 865.5,2976.6 872.5,2980.8 888.5,2987.9 907.5,2993.4 930.5,2997.5 958.5,3000.7 993.5,3003.0 1037.5,3004.6 1095.5,3005.9 1271.5,3007.3 1610.5,3007.9" stroke="#12b0c0" stroke-width="5.3" stroke-dasharray="0.1 8.7"/>
<polyline points="371.5,3008.2 998.5,3007.9 1101.5,3007.5 1159.5,3006.6 1197.5,3004.8 1210.5,3003.3 1221.5,3001.4 1235.5,2997.3 1243.5,2993.8 1258.5,2985.8 1262.5,2984.4 1266.5,2983.8 1270.5,2984.2 1274.5,2985.5 1293.5,2995.4 1305.5,2999.8 1321.5,3003.1 1341.5,3005.2 1371.5,3006.6 1416.5,3007.4 1610.5,3008.0" stroke="#16a016" stroke-width="5.3" stroke-dasharray="0.1 8.7"/>
<polyline points="371.5,3008.1 869.5,3007.7 1108.5,3006.9 1239.5,3005.0 1282.5,3003.4 1315.5,3001.2 1343.5,2998.0 1365.5,2993.8 1383.5,2988.2 1398.5,2981.0 1409.5,2973.4 1419.5,2964.3 1430.5,2951.2 1446.5,2928.4 1452.5,2920.7 1458.5,2915.2 1461.5,2913.7 1464.5,2913.1 1469.5,2914.2 1475.5,2918.7 1482.5,2927.2 1499.5,2951.5 1507.5,2961.2 1518.5,2972.0 1530.5,2980.5 1545.5,2987.8 1562.5,2993.3 1583.5,2997.6 1610.5,3000.9" stroke="#12b0c0" stroke-width="5.3" stroke-dasharray="0.1 8.7"/>
<polyline points="371.5,3000.0 385.5,2997.1 396.5,2993.7 406.5,2989.3 414.5,2984.3 421.5,2978.6 428.5,2971.2 434.5,2963.5 446.5,2946.2 450.5,2941.3 454.5,2938.0 458.5,2936.7 462.5,2937.7 467.5,2941.9 485.5,2966.9 493.5,2976.2 501.5,2983.3 510.5,2989.0 523.5,2994.7 539.5,2998.9 559.5,3001.9 584.5,3004.0 614.5,3005.4 654.5,3006.4 783.5,3007.5 1610.5,3008.1" stroke="#ff9a9a" stroke-width="6.4" stroke-opacity="0.6"/>
<polyline points="371.5,3000.0 385.5,2997.1 396.5,2993.7 406.5,2989.3 414.5,2984.3 421.5,2978.6 428.5,2971.2 434.5,2963.5 446.5,2946.2 450.5,2941.3 454.5,2938.0 458.5,2936.7 462.5,2937.7 467.5,2941.9 485.5,2966.9 493.5,2976.2 501.5,2983.3 510.5,2989.0 523.5,2994.7 539.5,2998.9 559.5,3001.9 584.5,3004.0 614.5,3005.4 654.5,3006.4 783.5,3007.5 1610.5,3008.1" stroke="#7e1212" stroke-width="3.0999999999999996"/>
<polyline points="371.5,3007.9 493.5,3007.3 563.5,3006.3 607.5,3004.3 622.5,3002.9 635.5,3000.9 645.5,2998.7 654.5,2995.6 662.5,2991.7 669.5,2986.9 675.5,2981.2 680.5,2975.2 697.5,2949.3 701.5,2945.7 704.5,2945.0 707.5,2946.2 711.5,2950.2 724.5,2970.5 731.5,2979.8 738.5,2986.6 745.5,2991.6 755.5,2996.3 768.5,3000.1 783.5,3002.6 803.5,3004.5 859.5,3006.6 960.5,3007.6 1610.5,3008.2" stroke="#a0a0ff" stroke-width="6.2" stroke-opacity="0.6"/>
<polyline points="371.5,3007.9 493.5,3007.3 563.5,3006.3 607.5,3004.3 622.5,3002.9 635.5,3000.9 645.5,2998.7 654.5,2995.6 662.5,2991.7 669.5,2986.9 675.5,2981.2 680.5,2975.2 697.5,2949.3 701.5,2945.7 704.5,2945.0 707.5,2946.2 711.5,2950.2 724.5,2970.5 731.5,2979.8 738.5,2986.6 745.5,2991.6 755.5,2996.3 768.5,3000.1 783.5,3002.6 803.5,3004.5 859.5,3006.6 960.5,3007.6 1610.5,3008.2" stroke="#14146a" stroke-width="2.9"/>
<polyline points="371.5,3007.9 603.5,3007.4 723.5,3006.1 763.5,3005.0 793.5,3003.5 817.5,3001.5 836.5,2998.7 852.5,2994.8 865.5,2989.8 876.5,2983.2 885.5,2975.3 893.5,2965.5 900.5,2953.9 920.5,2910.7 924.5,2905.1 926.5,2903.5 928.5,2902.9 930.5,2903.4 932.5,2904.7 936.5,2910.0 940.5,2917.9 952.5,2945.2 957.5,2955.1 965.5,2967.7 973.5,2977.0 983.5,2985.1 995.5,2991.4 1010.5,2996.4 1028.5,3000.0 1050.5,3002.5 1077.5,3004.3 1113.5,3005.7 1160.5,3006.6 1308.5,3007.6 1610.5,3008.0" stroke="#ffd080" stroke-width="6.4" stroke-opacity="0.6"/>
<polyline points="371.5,3007.9 603.5,3007.4 723.5,3006.1 763.5,3005.0 793.5,3003.5 817.5,3001.5 836.5,2998.7 852.5,2994.8 865.5,2989.8 876.5,2983.2 885.5,2975.3 893.5,2965.5 900.5,2953.9 920.5,2910.7 924.5,2905.1 926.5,2903.5 928.5,2902.9 930.5,2903.4 932.5,2904.7 936.5,2910.0 940.5,2917.9 952.5,2945.2 957.5,2955.1 965.5,2967.7 973.5,2977.0 983.5,2985.1 995.5,2991.4 1010.5,2996.4 1028.5,3000.0 1050.5,3002.5 1077.5,3004.3 1113.5,3005.7 1160.5,3006.6 1308.5,3007.6 1610.5,3008.0" stroke="#a86400" stroke-width="3.0999999999999996"/>
<polyline points="371.5,3008.1 807.5,3007.3 880.5,3005.9 904.5,3004.7 922.5,3003.0 937.5,3000.5 949.5,2997.0 959.5,2992.2 967.5,2986.1 972.5,2980.6 977.5,2973.3 983.5,2961.8 994.5,2937.0 997.5,2932.5 1000.5,2930.7 1003.5,2932.1 1006.5,2936.2 1017.5,2960.9 1022.5,2970.9 1028.5,2980.0 1034.5,2986.6 1042.5,2992.6 1052.5,2997.2 1064.5,3000.6 1078.5,3002.9 1096.5,3004.6 1119.5,3005.8 1190.5,3007.3 1610.5,3008.1" stroke="#ffff70" stroke-width="6.2" stroke-opacity="0.6"/>
<polyline points="371.5,3008.1 807.5,3007.3 880.5,3005.9 904.5,3004.7 922.5,3003.0 937.5,3000.5 949.5,2997.0 959.5,2992.2 967.5,2986.1 972.5,2980.6 977.5,2973.3 983.5,2961.8 994.5,2937.0 997.5,2932.5 1000.5,2930.7 1003.5,2932.1 1006.5,2936.2 1017.5,2960.9 1022.5,2970.9 1028.5,2980.0 1034.5,2986.6 1042.5,2992.6 1052.5,2997.2 1064.5,3000.6 1078.5,3002.9 1096.5,3004.6 1119.5,3005.8 1190.5,3007.3 1610.5,3008.1" stroke="#707000" stroke-width="2.9"/>
<polyline points="371.5,3008.1 710.5,3007.8 862.5,3007.1 942.5,3005.4 967.5,3003.9 986.5,3001.8 1002.5,2998.6 1015.5,2994.0 1025.5,2988.0 1033.5,2980.3 1039.5,2971.8 1044.5,2962.3 1050.5,2947.1 1061.5,2914.0 1064.5,2908.0 1067.5,2905.6 1068.5,2905.7 1070.5,2907.2 1073.5,2912.7 1088.5,2956.3 1094.5,2969.1 1100.5,2978.3 1108.5,2986.7 1117.5,2992.7 1128.5,2997.3 1142.5,3000.7 1159.5,3003.1 1180.5,3004.8 1245.5,3006.8 1363.5,3007.7 1610.5,3008.0" stroke="#c0c0ff" stroke-width="6.2" stroke-opacity="0.6"/>
<polyline points="371.5,3008.1 710.5,3007.8 862.5,3007.1 942.5,3005.4 967.5,3003.9 986.5,3001.8 1002.5,2998.6 1015.5,2994.0 1025.5,2988.0 1033.5,2980.3 1039.5,2971.8 1044.5,2962.3 1050.5,2947.1 1061.5,2914.0 1064.5,2908.0 1067.5,2905.6 1068.5,2905.7 1070.5,2907.2 1073.5,2912.7 1088.5,2956.3 1094.5,2969.1 1100.5,2978.3 1108.5,2986.7 1117.5,2992.7 1128.5,2997.3 1142.5,3000.7 1159.5,3003.1 1180.5,3004.8 1245.5,3006.8 1363.5,3007.7 1610.5,3008.0" stroke="#141438" stroke-width="2.9"/>
<polyline points="371.5,3008.0 712.5,3007.5 879.5,3006.3 933.5,3005.2 973.5,3003.6 1004.5,3001.4 1028.5,2998.5 1048.5,2994.3 1064.5,2988.9 1071.5,2985.5 1078.5,2981.3 1089.5,2972.1 1098.5,2961.5 1107.5,2946.9 1113.5,2934.7 1126.5,2904.1 1131.5,2894.0 1136.5,2887.5 1138.5,2886.3 1140.5,2886.0 1142.5,2886.6 1144.5,2888.0 1149.5,2895.1 1171.5,2944.2 1178.5,2956.5 1186.5,2967.3 1195.5,2976.4 1206.5,2984.2 1218.5,2989.9 1233.5,2994.7 1251.5,2998.4 1273.5,3001.2 1300.5,3003.3 1334.5,3004.8 1433.5,3006.7 1610.5,3007.6" stroke="#ff9cff" stroke-width="6.2" stroke-opacity="0.6"/>
<polyline points="371.5,3008.0 712.5,3007.5 879.5,3006.3 933.5,3005.2 973.5,3003.6 1004.5,3001.4 1028.5,2998.5 1048.5,2994.3 1064.5,2988.9 1071.5,2985.5 1078.5,2981.3 1089.5,2972.1 1098.5,2961.5 1107.5,2946.9 1113.5,2934.7 1126.5,2904.1 1131.5,2894.0 1136.5,2887.5 1138.5,2886.3 1140.5,2886.0 1142.5,2886.6 1144.5,2888.0 1149.5,2895.1 1171.5,2944.2 1178.5,2956.5 1186.5,2967.3 1195.5,2976.4 1206.5,2984.2 1218.5,2989.9 1233.5,2994.7 1251.5,2998.4 1273.5,3001.2 1300.5,3003.3 1334.5,3004.8 1433.5,3006.7 1610.5,3007.6" stroke="#501050" stroke-width="2.9"/>
<polyline points="371.5,3008.2 965.5,3007.8 1059.5,3007.1 1111.5,3005.7 1130.5,3004.4 1145.5,3002.5 1156.5,3000.2 1166.5,2996.9 1173.5,2993.3 1179.5,2989.1 1185.5,2983.6 1198.5,2969.4 1202.5,2966.6 1205.5,2965.9 1208.5,2966.6 1211.5,2968.5 1228.5,2986.5 1234.5,2991.3 1240.5,2995.0 1247.5,2998.0 1256.5,3000.7 1266.5,3002.7 1277.5,3004.1 1309.5,3006.1 1361.5,3007.3 1610.5,3008.1" stroke="#ffa0b0" stroke-width="6.2" stroke-opacity="0.6"/>
<polyline points="371.5,3008.2 965.5,3007.8 1059.5,3007.1 1111.5,3005.7 1130.5,3004.4 1145.5,3002.5 1156.5,3000.2 1166.5,2996.9 1173.5,2993.3 1179.5,2989.1 1185.5,2983.6 1198.5,2969.4 1202.5,2966.6 1205.5,2965.9 1208.5,2966.6 1211.5,2968.5 1228.5,2986.5 1234.5,2991.3 1240.5,2995.0 1247.5,2998.0 1256.5,3000.7 1266.5,3002.7 1277.5,3004.1 1309.5,3006.1 1361.5,3007.3 1610.5,3008.1" stroke="#501018" stroke-width="2.9"/>
<polyline points="371.5,3005.3 469.5,3003.7 543.5,3001.6 601.5,2998.5 647.5,2994.4 684.5,2988.9 700.5,2985.4 714.5,2981.6 727.5,2977.2 739.5,2972.1 749.5,2966.8 759.5,2960.4 768.5,2953.3 776.5,2945.8 783.5,2937.9 790.5,2928.5 797.5,2917.5 803.5,2906.2 809.5,2893.2 814.5,2880.6 824.5,2850.2 833.5,2815.8 841.5,2779.5 857.5,2699.5 863.5,2673.8 867.5,2660.7 870.5,2653.8 873.5,2649.7 876.5,2648.6 879.5,2650.6 882.5,2655.7 885.5,2663.4 888.5,2673.6 894.5,2699.2 910.5,2779.3 919.5,2819.7 930.5,2860.0 935.5,2875.0 941.5,2890.7 948.5,2906.1 955.5,2919.1 962.5,2929.9 970.5,2940.2 979.5,2949.7 989.5,2958.2 999.5,2965.0 1011.5,2971.6 1024.5,2977.2 1038.5,2981.9 1054.5,2986.1 1071.5,2989.6 1090.5,2992.6 1112.5,2995.3 1165.5,2999.5 1233.5,3002.4 1322.5,3004.5 1443.5,3005.9 1610.5,3006.8" stroke="#ff80ff" stroke-width="7.0" stroke-opacity="0.6"/>
<polyline points="371.5,3005.3 469.5,3003.7 543.5,3001.6 601.5,2998.5 647.5,2994.4 684.5,2988.9 700.5,2985.4 714.5,2981.6 727.5,2977.2 739.5,2972.1 749.5,2966.8 759.5,2960.4 768.5,2953.3 776.5,2945.8 783.5,2937.9 790.5,2928.5 797.5,2917.5 803.5,2906.2 809.5,2893.2 814.5,2880.6 824.5,2850.2 833.5,2815.8 841.5,2779.5 857.5,2699.5 863.5,2673.8 867.5,2660.7 870.5,2653.8 873.5,2649.7 876.5,2648.6 879.5,2650.6 882.5,2655.7 885.5,2663.4 888.5,2673.6 894.5,2699.2 910.5,2779.3 919.5,2819.7 930.5,2860.0 935.5,2875.0 941.5,2890.7 948.5,2906.1 955.5,2919.1 962.5,2929.9 970.5,2940.2 979.5,2949.7 989.5,2958.2 999.5,2965.0 1011.5,2971.6 1024.5,2977.2 1038.5,2981.9 1054.5,2986.1 1071.5,2989.6 1090.5,2992.6 1112.5,2995.3 1165.5,2999.5 1233.5,3002.4 1322.5,3004.5 1443.5,3005.9 1610.5,3006.8" stroke="#a010a6" stroke-width="3.6999999999999997"/>
<polyline points="371.5,2978.6 374.5,2978.0 377.5,2977.7 380.5,2977.9 383.5,2979.8 386.5,2977.2 389.5,2976.6 392.5,2974.3 395.5,2975.3 398.5,2972.1 401.5,2970.3 404.5,2968.2 407.5,2964.8 410.5,2962.6 413.5,2959.8 416.5,2956.6 419.5,2952.6 422.5,2949.2 425.5,2946.5 428.5,2941.2 431.5,2937.8 434.5,2931.4 437.5,2926.3 440.5,2921.9 443.5,2915.2 446.5,2908.4 449.5,2904.2 452.5,2899.8 455.5,2896.2 458.5,2893.5 461.5,2890.2 464.5,2890.4 467.5,2892.0 470.5,2894.1 473.5,2895.1 476.5,2896.4 479.5,2897.2 482.5,2898.8 485.5,2898.9 488.5,2900.1 491.5,2901.6 494.5,2897.4 497.5,2896.9 500.5,2893.1 503.5,2892.1 506.5,2888.6 509.5,2884.2 512.5,2880.2 515.5,2876.1 518.5,2870.5 521.5,2865.8 524.5,2860.7 527.5,2855.1 530.5,2849.2 533.5,2845.1 536.5,2839.5 539.5,2835.8 542.5,2832.1 545.5,2830.8 548.5,2828.8 551.5,2828.4 554.5,2827.4 557.5,2828.7 560.5,2832.8 563.5,2835.4 566.5,2839.6 569.5,2843.4 572.5,2850.9 575.5,2855.2 578.5,2862.3 581.5,2867.7 584.5,2872.9 587.5,2876.5 590.5,2885.2 593.5,2889.1 596.5,2894.9 599.5,2900.3 602.5,2904.0 605.5,2909.0 608.5,2913.5 611.5,2916.4 614.5,2918.0 617.5,2921.5 620.5,2924.9 623.5,2926.8 626.5,2928.9 629.5,2929.3 632.5,2928.5 635.5,2930.6 638.5,2930.8 641.5,2930.8 644.5,2933.3 647.5,2934.4 650.5,2934.5 653.5,2935.6 656.5,2934.2 659.5,2934.3 662.5,2933.8 665.5,2930.8 668.5,2929.4 671.5,2928.5 674.5,2923.7 677.5,2920.0 680.5,2916.2 683.5,2911.0 686.5,2906.9 689.5,2900.5 692.5,2894.8 695.5,2890.1 698.5,2886.3 701.5,2882.7 704.5,2880.9 707.5,2880.8 710.5,2880.8 713.5,2882.2 716.5,2884.2 719.5,2887.3 722.5,2888.1 725.5,2887.7 728.5,2888.1 731.5,2888.8 734.5,2888.4 737.5,2887.3 740.5,2886.9 743.5,2885.3 746.5,2884.0 749.5,2879.4 752.5,2875.8 755.5,2870.2 758.5,2866.2 761.5,2858.1 764.5,2853.4 767.5,2848.1 770.5,2842.6 773.5,2834.5 776.5,2830.2 779.5,2825.1 782.5,2820.3 785.5,2813.4 788.5,2808.1 791.5,2801.0 794.5,2795.5 797.5,2792.1 800.5,2787.4 803.5,2783.7 806.5,2779.5 809.5,2775.4 812.5,2770.8 815.5,2768.1 818.5,2761.6 821.5,2758.9 824.5,2754.4 827.5,2749.8 830.5,2746.9 833.5,2741.5 836.5,2734.0 839.5,2725.6 842.5,2712.0 845.5,2697.6 848.5,2679.5 851.5,2659.9 854.5,2641.9 857.5,2624.3 860.5,2610.0 863.5,2600.4 866.5,2592.8 869.5,2586.9 872.5,2587.2 875.5,2587.3 878.5,2589.1 881.5,2591.6 884.5,2596.3 887.5,2603.7 890.5,2612.9 893.5,2621.8 896.5,2630.9 899.5,2639.8 902.5,2649.6 905.5,2661.1 908.5,2667.8 911.5,2676.3 914.5,2684.3 917.5,2692.0 920.5,2698.2 923.5,2706.3 926.5,2714.6 929.5,2724.0 932.5,2731.8 935.5,2744.1 938.5,2759.0 941.5,2769.4 944.5,2781.7 947.5,2795.2 950.5,2809.9 953.5,2820.2 956.5,2833.0 959.5,2843.8 962.5,2852.6 965.5,2858.8 968.5,2863.1 971.5,2864.5 974.5,2865.2 977.5,2863.4 980.5,2862.5 983.5,2861.9 986.5,2860.1 992.5,2853.0 995.5,2850.9 998.5,2847.4 1001.5,2849.3 1004.5,2855.9 1007.5,2858.8 1010.5,2867.4 1013.5,2875.8 1016.5,2883.2 1019.5,2888.3 1022.5,2894.4 1025.5,2900.3 1028.5,2901.5 1031.5,2901.7 1034.5,2903.5 1037.5,2902.4 1040.5,2901.2 1043.5,2898.6 1046.5,2892.5 1049.5,2887.7 1052.5,2878.6 1055.5,2870.6 1058.5,2863.2 1061.5,2855.2 1064.5,2849.0 1067.5,2847.0 1070.5,2848.2 1073.5,2852.9 1076.5,2860.0 1079.5,2869.1 1082.5,2877.6 1085.5,2883.7 1088.5,2889.7 1091.5,2895.0 1094.5,2897.5 1097.5,2899.5 1100.5,2900.7 1103.5,2899.6 1106.5,2898.2 1109.5,2895.9 1112.5,2890.1 1115.5,2887.9 1118.5,2882.7 1121.5,2875.5 1124.5,2871.3 1127.5,2866.6 1130.5,2861.7 1133.5,2858.0 1136.5,2853.4 1139.5,2853.8 1142.5,2854.6 1145.5,2857.2 1148.5,2863.1 1151.5,2868.2 1154.5,2874.8 1157.5,2879.1 1160.5,2887.4 1163.5,2894.1 1166.5,2898.9 1169.5,2904.3 1172.5,2909.7 1175.5,2912.3 1178.5,2916.1 1181.5,2917.6 1184.5,2918.6 1187.5,2919.2 1190.5,2921.2 1193.5,2922.6 1196.5,2921.4 1199.5,2921.5 1202.5,2921.9 1205.5,2922.5 1208.5,2923.5 1211.5,2928.1 1214.5,2933.2 1217.5,2934.3 1220.5,2939.3 1223.5,2943.7 1226.5,2946.7 1229.5,2949.5 1232.5,2951.7 1235.5,2953.9 1238.5,2953.0 1241.5,2955.7 1244.5,2954.8 1247.5,2957.6 1250.5,2955.4 1253.5,2958.6 1256.5,2956.0 1259.5,2957.1 1262.5,2957.6 1265.5,2959.6 1268.5,2960.2 1271.5,2962.0 1274.5,2962.1 1277.5,2963.5 1280.5,2964.3 1283.5,2967.3 1286.5,2968.7 1289.5,2971.7 1292.5,2973.9 1295.5,2975.0 1298.5,2976.5 1301.5,2978.2 1304.5,2979.5 1307.5,2978.6 1310.5,2981.4 1313.5,2979.7 1316.5,2980.1 1319.5,2981.1 1322.5,2982.3 1325.5,2981.2 1328.5,2980.3 1331.5,2979.8 1334.5,2979.2 1337.5,2980.0 1340.5,2979.8 1343.5,2982.7 1346.5,2982.9 1349.5,2984.0 1352.5,2983.2 1355.5,2983.7 1358.5,2983.7 1361.5,2982.9 1364.5,2984.3 1367.5,2982.4 1370.5,2982.7 1373.5,2983.1 1376.5,2980.6 1379.5,2979.0 1382.5,2978.2 1385.5,2981.3 1388.5,2978.3 1391.5,2975.7 1394.5,2973.3 1397.5,2973.5 1400.5,2972.3 1403.5,2969.7 1406.5,2967.2 1409.5,2965.9 1412.5,2962.6 1415.5,2957.6 1418.5,2956.8 1421.5,2953.7 1424.5,2949.7 1427.5,2946.3 1430.5,2941.3 1433.5,2938.6 1436.5,2934.2 1439.5,2928.6 1442.5,2925.2 1445.5,2922.0 1448.5,2916.7 1451.5,2913.2 1454.5,2908.1 1457.5,2907.9 1460.5,2907.1 1463.5,2906.8 1466.5,2910.3 1469.5,2909.2 1472.5,2910.9 1475.5,2910.8 1478.5,2918.3 1481.5,2920.4 1484.5,2925.7 1487.5,2927.6 1490.5,2934.6 1493.5,2937.1 1496.5,2940.3 1499.5,2943.0 1502.5,2946.8 1505.5,2950.1 1508.5,2954.8 1511.5,2957.2 1514.5,2959.0 1517.5,2959.4 1520.5,2962.3 1523.5,2964.1 1526.5,2966.2 1529.5,2965.5 1532.5,2969.2 1535.5,2970.7 1538.5,2971.4 1541.5,2971.3 1544.5,2971.5 1547.5,2972.1 1550.5,2974.9 1553.5,2975.3 1556.5,2977.0 1559.5,2974.7 1562.5,2976.3 1565.5,2976.8 1568.5,2977.2 1571.5,2979.2 1574.5,2977.2 1577.5,2978.7 1580.5,2975.3 1583.5,2979.9 1586.5,2977.8 1589.5,2977.2 1592.5,2977.9 1595.5,2976.8 1598.5,2977.0 1601.5,2978.4 1604.5,2980.9 1607.5,2978.5 1610.5,2978.0" stroke="#555" stroke-width="1.7"/>
<polyline points="371.5,2979.8 384.5,2977.7 392.5,2974.8 403.5,2968.4 414.5,2959.2 421.5,2951.4 428.5,2941.7 435.5,2930.0 450.5,2902.3 454.5,2896.6 458.5,2892.9 462.5,2891.2 466.5,2891.5 480.5,2898.1 487.5,2899.5 491.5,2899.1 494.5,2898.2 501.5,2893.7 507.5,2887.4 513.5,2879.0 532.5,2845.8 537.5,2838.1 543.5,2831.3 546.5,2829.2 549.5,2828.0 553.5,2827.8 557.5,2829.4 561.5,2832.7 565.5,2837.7 572.5,2849.4 593.5,2890.1 600.5,2901.6 607.5,2911.2 613.5,2918.1 619.5,2923.5 624.5,2926.8 630.5,2929.2 648.5,2933.9 653.5,2934.7 659.5,2934.0 666.5,2930.9 672.5,2926.1 678.5,2919.3 684.5,2910.3 697.5,2887.5 701.5,2882.8 704.5,2880.8 706.5,2880.4 709.5,2880.8 720.5,2886.7 727.5,2888.7 732.5,2888.9 737.5,2888.3 741.5,2886.9 744.5,2884.9 750.5,2878.3 756.5,2868.6 794.5,2796.1 828.5,2749.2 832.5,2742.7 835.5,2736.4 839.5,2724.7 843.5,2707.8 856.5,2630.4 861.5,2606.5 864.5,2596.8 867.5,2590.5 870.5,2587.2 873.5,2586.3 876.5,2587.2 880.5,2590.9 883.5,2595.4 887.5,2603.7 893.5,2620.4 908.5,2668.6 921.5,2700.3 926.5,2714.0 932.5,2733.7 938.5,2756.5 956.5,2833.7 960.5,2846.6 963.5,2853.7 966.5,2858.7 970.5,2862.9 974.5,2864.9 978.5,2865.0 981.5,2863.9 984.5,2861.7 995.5,2849.4 998.5,2848.1 1000.5,2848.7 1003.5,2851.9 1006.5,2857.6 1015.5,2880.3 1020.5,2891.1 1024.5,2897.4 1029.5,2902.1 1033.5,2903.5 1037.5,2902.8 1041.5,2899.9 1044.5,2896.2 1050.5,2884.6 1061.5,2854.8 1064.5,2849.1 1066.5,2847.1 1067.5,2846.7 1069.5,2847.3 1072.5,2851.1 1075.5,2857.8 1084.5,2881.7 1089.5,2891.6 1094.5,2897.6 1096.5,2899.0 1099.5,2900.0 1101.5,2900.0 1104.5,2899.0 1107.5,2897.1 1110.5,2894.2 1116.5,2885.8 1131.5,2859.8 1136.5,2854.8 1138.5,2854.0 1140.5,2854.0 1144.5,2856.4 1148.5,2861.8 1167.5,2901.4 1173.5,2910.4 1179.5,2916.5 1183.5,2919.0 1187.5,2920.5 1191.5,2920.9 1200.5,2920.7 1203.5,2921.4 1206.5,2923.1 1211.5,2927.8 1225.5,2945.3 1230.5,2949.8 1235.5,2953.0 1240.5,2955.0 1245.5,2956.3 1262.5,2957.7 1269.5,2959.6 1276.5,2963.0 1294.5,2974.4 1306.5,2979.5 1312.5,2981.0 1317.5,2981.6 1334.5,2980.3 1348.5,2983.3 1357.5,2983.6 1366.5,2982.6 1376.5,2980.5 1385.5,2977.9 1393.5,2974.7 1405.5,2968.2 1416.5,2959.5 1428.5,2946.6 1446.5,2921.9 1451.5,2916.0 1455.5,2912.4 1458.5,2910.6 1461.5,2909.7 1464.5,2909.5 1470.5,2911.2 1477.5,2916.5 1483.5,2923.5 1499.5,2946.3 1508.5,2957.3 1519.5,2968.0 1530.5,2975.9 1543.5,2982.6 1558.5,2988.1 1570.5,2991.2 1591.5,2995.3 1605.5,2999.1 1610.5,2999.9" stroke="#000" stroke-width="3.3"/>
</g>
<line x1="371.5" y1="3009.7" x2="1610.5" y2="3009.7" stroke="#000" stroke-width="3.2"/>
<path d="M373.3,3027 V48.3 H1608.7 V3027" fill="none" stroke="#9a9a9a" stroke-width="2.6"/>
<path d="M370.6,3041 V45.8 H1611.6 V3027" fill="none" stroke="#000" stroke-width="2.8"/>
<path d="M307,988V999H320" fill="none" stroke="#111" stroke-width="3"/>
<rect x="317" y="2320" width="3" height="11" fill="#333"/>
<rect x="1629" y="553" width="5" height="13" fill="#8a8a80"/>
<text transform="translate(320,2797.5) rotate(-90)" font-family="'Liberation Sans', Arial, sans-serif" font-size="26" font-weight="bold" fill="#333" textLength="13.5" lengthAdjust="spacingAndGlyphs">B</text>
<line x1="370.0" y1="3027" x2="1612.0" y2="3027" stroke="#222" stroke-width="3.6"/>
<path d="M359.5,52.6H371.5 M359.5,131.1H371.5 M359.5,209.6H371.5 M359.5,288.1H371.5 M359.5,366.6H371.5 M359.5,445.1H371.5 M359.5,523.6H371.5 M359.5,602.1H371.5 M359.5,680.6H371.5 M365.5,91.8H371.5 M365.5,170.3H371.5 M365.5,248.8H371.5 M365.5,327.4H371.5 M365.5,405.9H371.5 M365.5,484.4H371.5 M365.5,562.9H371.5 M365.5,641.4H371.5 M365.5,719.9H371.5 M359.5,797.7H371.5 M359.5,876.2H371.5 M359.5,954.7H371.5 M359.5,1033.2H371.5 M359.5,1111.7H371.5 M365.5,758.5H371.5 M365.5,837.0H371.5 M365.5,915.5H371.5 M365.5,994.0H371.5 M365.5,1072.5H371.5 M365.5,1151.0H371.5 M359.5,1192.5H371.5 M359.5,1271.0H371.5 M359.5,1349.5H371.5 M359.5,1428.0H371.5 M359.5,1506.5H371.5 M359.5,1585.0H371.5 M365.5,1153.2H371.5 M365.5,1231.8H371.5 M365.5,1310.2H371.5 M365.5,1388.8H371.5 M365.5,1467.2H371.5 M365.5,1545.8H371.5 M359.5,1669.3H371.5 M359.5,1747.8H371.5 M359.5,1826.3H371.5 M359.5,1904.8H371.5 M359.5,1983.3H371.5 M359.5,2061.8H371.5 M365.5,1630.0H371.5 M365.5,1708.5H371.5 M365.5,1787.0H371.5 M365.5,1865.5H371.5 M365.5,1944.0H371.5 M365.5,2022.5H371.5 M359.5,2143.5H371.5 M359.5,2222.0H371.5 M359.5,2300.5H371.5 M359.5,2379.0H371.5 M359.5,2457.5H371.5 M359.5,2536.0H371.5 M365.5,2104.2H371.5 M365.5,2182.8H371.5 M365.5,2261.2H371.5 M365.5,2339.8H371.5 M365.5,2418.2H371.5 M365.5,2496.8H371.5 M359.5,2594.3H371.5 M359.5,2672.8H371.5 M359.5,2751.3H371.5 M359.5,2829.8H371.5 M359.5,2908.3H371.5 M359.5,2986.8H371.5 M365.5,2555.1H371.5 M365.5,2633.6H371.5 M365.5,2712.1H371.5 M365.5,2790.6H371.5 M365.5,2869.1H371.5 M365.5,2947.6H371.5" stroke="#222" stroke-width="2.6"/>
<path d="M347,47.6v4M347,53.6v4M347,126.1v4M347,132.1v4M347,204.6v4M347,210.6v4M347,283.1v4M347,289.1v4M347,361.6v4M347,367.6v4M347,440.1v4M347,446.1v4M347,518.6v4M347,524.6v4M347,597.1v4M347,603.1v4M347,675.6v4M347,681.6v4M347,1187.5v4M347,1193.5v4M347,1266.0v4M347,1272.0v4M347,1344.5v4M347,1350.5v4M347,1423.0v4M347,1429.0v4M347,1501.5v4M347,1507.5v4M347,1580.0v4M347,1586.0v4M347,2589.3v4M347,2595.3v4M347,2667.8v4M347,2673.8v4M347,2746.3v4M347,2752.3v4M347,2824.8v4M347,2830.8v4M347,2903.3v4M347,2909.3v4M347,2981.8v4M347,2987.8v4" stroke="#b8bcc0" stroke-width="3"/>
<path d="M370.5,3027v13 M473.8,3027v7 M577.0,3027v13 M680.2,3027v7 M783.5,3027v13 M886.8,3027v7 M990.0,3027v13 M1093.2,3027v7 M1196.5,3027v13 M1299.8,3027v7 M1403.0,3027v13 M1506.2,3027v7 M1609.5,3027v13" stroke="#000" stroke-width="3"/>
<text x="370.5" y="3090.5" text-anchor="middle" font-family="'Liberation Sans', Arial, sans-serif" font-size="54.5" stroke="#000" stroke-width="0.9">1200</text>
<text x="577.0" y="3090.5" text-anchor="middle" font-family="'Liberation Sans', Arial, sans-serif" font-size="54.5" stroke="#000" stroke-width="0.9">1300</text>
<text x="783.5" y="3090.5" text-anchor="middle" font-family="'Liberation Sans', Arial, sans-serif" font-size="54.5" stroke="#000" stroke-width="0.9">1400</text>
<text x="990.0" y="3090.5" text-anchor="middle" font-family="'Liberation Sans', Arial, sans-serif" font-size="54.5" stroke="#000" stroke-width="0.9">1500</text>
<text x="1196.5" y="3090.5" text-anchor="middle" font-family="'Liberation Sans', Arial, sans-serif" font-size="54.5" stroke="#000" stroke-width="0.9">1600</text>
<text x="1403.0" y="3090.5" text-anchor="middle" font-family="'Liberation Sans', Arial, sans-serif" font-size="54.5" stroke="#000" stroke-width="0.9">1700</text>
<text x="1609.5" y="3090.5" text-anchor="middle" font-family="'Liberation Sans', Arial, sans-serif" font-size="54.5" stroke="#000" stroke-width="0.9">1800</text>
<text x="587" y="3203" font-family="'Liberation Sans', Arial, sans-serif" font-size="95" stroke="#000" stroke-width="1.4">Raman shift (cm</text>
<text x="1284" y="3168" font-family="'Liberation Sans', Arial, sans-serif" font-size="78" stroke="#000" stroke-width="1.2">-1</text>
<text x="1343" y="3203" font-family="'Liberation Sans', Arial, sans-serif" font-size="95" stroke="#000" stroke-width="1.4">)</text>
<text transform="translate(245.5,2117) rotate(-90)" font-family="'Liberation Sans', Arial, sans-serif" font-size="95" textLength="1134" lengthAdjust="spacingAndGlyphs" stroke="#000" stroke-width="1.4">Normalized Intensity (a. u.)</text>
<text x="662" y="106" font-family="'Liberation Sans', Arial, sans-serif" font-size="57" fill="#000" font-weight="normal" stroke="#000" stroke-width="1.6" textLength="405" lengthAdjust="spacingAndGlyphs">C<tspan font-family="'Liberation Serif', 'Times New Roman', serif">α</tspan>-C<tspan font-family="'Liberation Serif', 'Times New Roman', serif">β</tspan> sym. str.</text>
<text x="621" y="162.4" font-family="'Liberation Sans', Arial, sans-serif" font-size="57" fill="#000" font-weight="normal" stroke="#000" stroke-width="1.6" textLength="477" lengthAdjust="spacingAndGlyphs">(Quinoid structure)</text>
<text x="890" y="238" font-family="'Liberation Sans', Arial, sans-serif" font-size="57" fill="#000" font-weight="normal" stroke="#000" stroke-width="1.6" textLength="404" lengthAdjust="spacingAndGlyphs">C<tspan font-family="'Liberation Serif', 'Times New Roman', serif">α</tspan>-C<tspan font-family="'Liberation Serif', 'Times New Roman', serif">β</tspan> sym. str.</text>
<text x="862" y="294.5" font-family="'Liberation Sans', Arial, sans-serif" font-size="57" fill="#000" font-weight="normal" stroke="#000" stroke-width="1.6" textLength="486" lengthAdjust="spacingAndGlyphs">(Benzoid structure)</text>
<text x="619" y="315.2" font-family="'Liberation Sans', Arial, sans-serif" font-size="57.5" fill="#12129a" font-weight="normal" stroke="#12129a" stroke-width="1.6">HC=CH<tspan font-size="52" dy="14.6">2</tspan></text>
<text x="1411" y="252.5" font-family="'Liberation Sans', Arial, sans-serif" font-size="57" fill="#12129a" font-weight="normal" stroke="#12129a" stroke-width="1.6" textLength="120" lengthAdjust="spacingAndGlyphs">C=O</text>
<text x="424" y="423.9" font-family="'Liberation Sans', Arial, sans-serif" font-size="56" fill="#12129a" font-weight="normal" stroke="#12129a" stroke-width="1.6" textLength="249" lengthAdjust="spacingAndGlyphs">CH<tspan font-size="51" dy="15">2</tspan><tspan dy="-15"> twist</tspan></text>
<text x="939" y="421.5" font-family="'Liberation Sans', Arial, sans-serif" font-size="46" fill="#000" font-weight="normal" stroke="#000" stroke-width="1.6" textLength="426" lengthAdjust="spacingAndGlyphs">C<tspan font-family="'Liberation Serif', 'Times New Roman', serif">α</tspan>-C<tspan font-family="'Liberation Serif', 'Times New Roman', serif">β</tspan> asym. str.</text>
<text x="1197" y="490.5" font-family="'Liberation Sans', Arial, sans-serif" font-size="51" fill="#000" font-weight="normal" stroke="#000" stroke-width="1.6" textLength="111" lengthAdjust="spacingAndGlyphs">PSS</text>
<text x="1224.5" y="588" font-family="'Liberation Sans', Arial, sans-serif" font-size="56" fill="#12129a" font-weight="normal" stroke="#12129a" stroke-width="1.6" textLength="118" lengthAdjust="spacingAndGlyphs">C=C</text>
<text x="370.5" y="549.5" font-family="'Liberation Sans', Arial, sans-serif" font-size="56" fill="#000" font-weight="normal" stroke="#000" stroke-width="1.6" textLength="177" lengthAdjust="spacingAndGlyphs">C<tspan font-family="'Liberation Serif', 'Times New Roman', serif">α</tspan>-C<tspan font-family="'Liberation Serif', 'Times New Roman', serif">α</tspan>'</text>
<text x="599.5" y="562" font-family="'Liberation Sans', Arial, sans-serif" font-size="56" fill="#000" font-weight="normal" stroke="#000" stroke-width="1.6" textLength="163" lengthAdjust="spacingAndGlyphs">C<tspan font-family="'Liberation Serif', 'Times New Roman', serif">β</tspan>-C<tspan font-family="'Liberation Serif', 'Times New Roman', serif">β</tspan></text>
<path d="M963,472 V448.5 H1166 V472" fill="none" stroke="#000" stroke-width="6.5"/>
<path d="M963,455 V472 M1166,455 V472" fill="none" stroke="#000" stroke-width="8.5"/>
<text x="1455" y="675.6" font-family="'Liberation Sans', Arial, sans-serif" font-size="67" fill="#000" font-weight="bold" stroke="#000" stroke-width="0.8" text-anchor="end">120</text>
<text x="1601" y="675.6" font-family="'Liberation Sans', Arial, sans-serif" font-size="67" fill="#000" font-weight="bold" stroke="#000" stroke-width="0.8" text-anchor="end">min</text>
<text x="1450" y="1079.6" font-family="'Liberation Sans', Arial, sans-serif" font-size="67" fill="#000" font-weight="bold" stroke="#000" stroke-width="0.8" text-anchor="end">60</text>
<text x="1600" y="1079.6" font-family="'Liberation Sans', Arial, sans-serif" font-size="67" fill="#000" font-weight="bold" stroke="#000" stroke-width="0.8" text-anchor="end">min</text>
<text x="1459" y="1535.8" font-family="'Liberation Sans', Arial, sans-serif" font-size="67" fill="#000" font-weight="bold" stroke="#000" stroke-width="0.8" text-anchor="end">30</text>
<text x="1599" y="1535.8" font-family="'Liberation Sans', Arial, sans-serif" font-size="67" fill="#000" font-weight="bold" stroke="#000" stroke-width="0.8" text-anchor="end">min</text>
<text x="1463" y="1981.9" font-family="'Liberation Sans', Arial, sans-serif" font-size="67" fill="#000" font-weight="bold" stroke="#000" stroke-width="0.8" text-anchor="end">20</text>
<text x="1601" y="1981.9" font-family="'Liberation Sans', Arial, sans-serif" font-size="67" fill="#000" font-weight="bold" stroke="#000" stroke-width="0.8" text-anchor="end">min</text>
<text x="1463" y="2428" font-family="'Liberation Sans', Arial, sans-serif" font-size="67" fill="#000" font-weight="bold" stroke="#000" stroke-width="0.8" text-anchor="end">10</text>
<text x="1601" y="2428" font-family="'Liberation Sans', Arial, sans-serif" font-size="67" fill="#000" font-weight="bold" stroke="#000" stroke-width="0.8" text-anchor="end">min</text>
<text x="1455.5" y="2893.2" font-family="'Liberation Sans', Arial, sans-serif" font-size="67" fill="#000" font-weight="bold" stroke="#000" stroke-width="0.8" text-anchor="end">0</text>
<text x="1607.5" y="2893.2" font-family="'Liberation Sans', Arial, sans-serif" font-size="67" fill="#000" font-weight="bold" stroke="#000" stroke-width="0.8" text-anchor="end">min</text>
<path d="M397.1,4151.6L387.8,3350.5M513.1,4130.1L513.4,3339.5M625.9,4109.3L635.2,3328.9M735.6,4089.0L753.4,3318.6M842.3,4069.3L868.1,3308.5M946.1,4050.1L979.6,3298.8M1047.3,4031.4L1087.9,3289.3M361.9,4074.1L1077.6,3949.1M359.4,3903.4L1086.6,3791.5M356.7,3726.7L1096.0,3628.7M353.9,3543.6L1105.6,3460.6M363.2,4157.8L351.0,3353.7M351.0,3353.7L1115.6,3286.9M363.2,4157.8L1073.2,4026.7M1073.2,4026.7L1115.6,3286.9M1465.2,4316.6L1549.8,3471.8M1346.0,4228.5L1416.7,3415.1M1236.5,4147.5L1295.2,3363.4M1135.6,4072.8L1184.0,3316.1M1534.5,4271.7L1077.6,3949.1M1553.9,4089.9L1086.6,3791.5M1574.1,3901.0L1096.0,3628.7M1595.1,3704.6L1105.6,3460.6M1616.9,3500.4L1115.6,3286.9M1524.9,4360.8L1073.2,4026.7M757.6,4547.7L397.1,4151.6M891.1,4515.2L513.1,4130.1M1020.1,4483.7L625.9,4109.3M1145.0,4453.3L735.6,4089.0M1265.8,4423.9L842.3,4069.3M1382.7,4395.4L946.1,4050.1M1496.0,4367.8L1047.3,4031.4M670.7,4503.6L1465.2,4316.6M576.2,4397.4L1346.0,4228.5M490.2,4300.6L1236.5,4147.5M411.6,4212.2L1135.6,4072.8" fill="none" stroke="#262626" stroke-width="1.8"/>
<polygon points="467.3,3463.5 519.7,3458.1 518.9,4257.8 470.6,4267.5" fill="#ff0000" stroke="#000" stroke-width="2.4" stroke-linejoin="round"/>
<polygon points="448.5,3450.8 467.3,3463.5 470.6,4267.5 453.2,4248.1" fill="#400000" stroke="#000" stroke-width="2.4" stroke-linejoin="round"/>
<polygon points="448.5,3450.8 500.5,3445.5 519.7,3458.1 467.3,3463.5" fill="#6e0000" stroke="#000" stroke-width="2.4" stroke-linejoin="round"/>
<polygon points="700.0,3629.0 755.2,3622.1 736.3,4407.7 685.3,4419.1" fill="#00ff00" stroke="#000" stroke-width="2.4" stroke-linejoin="round"/>
<polygon points="674.9,3612.0 700.0,3629.0 685.3,4419.1 662.3,4394.4" fill="#004000" stroke="#000" stroke-width="2.4" stroke-linejoin="round"/>
<polygon points="674.9,3612.0 729.6,3605.2 755.2,3622.1 700.0,3629.0" fill="#007000" stroke="#000" stroke-width="2.4" stroke-linejoin="round"/>
<polygon points="815.1,3761.0 870.2,3753.0 845.8,4438.0 794.3,4449.9" fill="#0000ff" stroke="#000" stroke-width="2.4" stroke-linejoin="round"/>
<polygon points="787.8,3741.8 815.1,3761.0 794.3,4449.9 769.1,4423.9" fill="#000050" stroke="#000" stroke-width="2.4" stroke-linejoin="round"/>
<polygon points="787.8,3741.8 842.4,3734.0 870.2,3753.0 815.1,3761.0" fill="#000090" stroke="#000" stroke-width="2.4" stroke-linejoin="round"/>
<polygon points="894.5,4011.5 946.2,4002.2 926.8,4438.7 877.4,4450.3" fill="#00ffff" stroke="#000" stroke-width="2.4" stroke-linejoin="round"/>
<polygon points="866.9,3989.5 894.5,4011.5 877.4,4450.3 851.1,4424.1" fill="#004848" stroke="#000" stroke-width="2.4" stroke-linejoin="round"/>
<polygon points="866.9,3989.5 918.0,3980.6 946.2,4002.2 894.5,4011.5" fill="#007a7a" stroke="#000" stroke-width="2.4" stroke-linejoin="round"/>
<polygon points="1087.3,4076.5 1138.3,4066.8 1116.8,4401.2 1067.4,4412.8" fill="#ff00ff" stroke="#000" stroke-width="2.4" stroke-linejoin="round"/>
<polygon points="1060.4,4056.2 1087.3,4076.5 1067.4,4412.8 1041.6,4389.6" fill="#400040" stroke="#000" stroke-width="2.4" stroke-linejoin="round"/>
<polygon points="1060.4,4056.2 1111.0,4046.7 1138.3,4066.8 1087.3,4076.5" fill="#700070" stroke="#000" stroke-width="2.4" stroke-linejoin="round"/>
<polygon points="1436.5,4135.1 1481.6,4125.7 1462.5,4317.2 1418.1,4327.6" fill="#ffff00" stroke="#000" stroke-width="2.4" stroke-linejoin="round"/>
<polygon points="1405.7,4114.1 1436.5,4135.1 1418.1,4327.6 1388.2,4305.0" fill="#4a4a00" stroke="#000" stroke-width="2.4" stroke-linejoin="round"/>
<polygon points="1405.7,4114.1 1450.6,4104.9 1481.6,4125.7 1436.5,4135.1" fill="#7a7a00" stroke="#000" stroke-width="2.4" stroke-linejoin="round"/>
<path d="M718.4,4557.2L363.2,4157.8M718.4,4557.2L1524.9,4360.8M1524.9,4360.8L1616.9,3500.4" stroke="#000" stroke-width="3.4" stroke-linecap="square"/>
<path d="M670.7,4503.6L647.3,4509.1M622.3,4449.2L610.6,4451.9M576.2,4397.4L552.8,4402.5M532.2,4347.9L520.5,4350.4M490.2,4300.6L466.7,4305.5M450.0,4255.5L438.2,4257.8M411.6,4212.2L388.0,4216.8M757.6,4547.7L767.0,4558.0M824.9,4531.3L830.4,4537.1M891.1,4515.2L900.9,4525.2M956.2,4499.3L961.9,4504.9M1020.1,4483.7L1030.3,4493.4M1083.1,4468.4L1089.0,4473.8M1145.0,4453.3L1155.4,4462.6M1205.9,4438.5L1211.9,4443.7M1265.8,4423.9L1276.5,4432.9M1324.7,4409.5L1330.9,4414.6M1382.7,4395.4L1393.7,4404.1M1439.8,4381.5L1446.2,4386.4M1496.0,4367.8L1507.2,4376.2M1534.5,4271.7L1549.2,4282.1M1544.1,4181.6L1551.6,4186.7M1553.9,4089.9L1569.1,4099.6M1563.9,3996.3L1571.6,4001.0M1574.1,3901.0L1589.7,3909.9M1584.5,3803.8L1592.4,3808.0M1595.1,3704.6L1611.2,3712.7M1605.9,3603.5L1614.1,3607.3M1616.9,3500.4L1633.5,3507.5" stroke="#000" stroke-width="2.8"/>
<text transform="matrix(1.2144,-0.2338,0.4493,0.5336,330.0,4227.0)" font-family="'Liberation Sans', Arial, sans-serif" font-size="40" text-anchor="middle" dominant-baseline="central">0.06</text>
<text transform="matrix(1.2578,-0.2581,0.4909,0.5830,404.5,4317.0)" font-family="'Liberation Sans', Arial, sans-serif" font-size="40" text-anchor="middle" dominant-baseline="central">0.04</text>
<text transform="matrix(1.3041,-0.2862,0.5386,0.6396,488.5,4416.0)" font-family="'Liberation Sans', Arial, sans-serif" font-size="40" text-anchor="middle" dominant-baseline="central">0.02</text>
<text transform="matrix(1.3537,-0.3186,0.5936,0.7049,578.8,4520.0)" font-family="'Liberation Sans', Arial, sans-serif" font-size="40" text-anchor="middle" dominant-baseline="central">0.00</text>
<text transform="matrix(1.3585,-0.3434,0.6864,0.7543,777.7,4595.7)" font-family="'Liberation Sans', Arial, sans-serif" font-size="40" text-anchor="middle" dominant-baseline="central">0</text>
<text transform="matrix(1.3117,-0.3316,0.7171,0.7304,922.0,4557.0)" font-family="'Liberation Sans', Arial, sans-serif" font-size="40" text-anchor="middle" dominant-baseline="central">20</text>
<text transform="matrix(1.2673,-0.3203,0.7452,0.7077,1056.7,4525.5)" font-family="'Liberation Sans', Arial, sans-serif" font-size="40" text-anchor="middle" dominant-baseline="central">40</text>
<text transform="matrix(1.2251,-0.3096,0.7711,0.6861,1179.9,4494.7)" font-family="'Liberation Sans', Arial, sans-serif" font-size="40" text-anchor="middle" dominant-baseline="central">60</text>
<text transform="matrix(1.1849,-0.2995,0.7949,0.6656,1297.3,4461.0)" font-family="'Liberation Sans', Arial, sans-serif" font-size="40" text-anchor="middle" dominant-baseline="central">80</text>
<text transform="matrix(1.1467,-0.2898,0.8168,0.6460,1427.0,4425.4)" font-family="'Liberation Sans', Arial, sans-serif" font-size="40" text-anchor="middle" dominant-baseline="central">100</text>
<text transform="matrix(1.1103,-0.2806,0.8368,0.6273,1547.4,4398.5)" font-family="'Liberation Sans', Arial, sans-serif" font-size="40" text-anchor="middle" dominant-baseline="central">120</text>
<text transform="matrix(0.9435,0.4018,-0.1622,1.4332,1660.5,3520.0)" font-family="'Liberation Sans', Arial, sans-serif" font-size="40" text-anchor="middle" dominant-baseline="central">90</text>
<text transform="matrix(0.9173,0.4573,-0.1557,1.3761,1635.5,3727.5)" font-family="'Liberation Sans', Arial, sans-serif" font-size="40" text-anchor="middle" dominant-baseline="central">80</text>
<text transform="matrix(0.8925,0.5082,-0.1496,1.3223,1616.0,3922.0)" font-family="'Liberation Sans', Arial, sans-serif" font-size="40" text-anchor="middle" dominant-baseline="central">70</text>
<text transform="matrix(0.8688,0.5549,-0.1439,1.2716,1592.5,4114.0)" font-family="'Liberation Sans', Arial, sans-serif" font-size="40" text-anchor="middle" dominant-baseline="central">60</text>
<text transform="matrix(0.8463,0.5976,-0.1385,1.2238,1571.5,4297.0)" font-family="'Liberation Sans', Arial, sans-serif" font-size="40" text-anchor="middle" dominant-baseline="central">50</text>
<text transform="matrix(1.4894,-0.3988,1.0060,0.8778,1264.0,4562.0)" font-family="'Liberation Sans', Arial, sans-serif" font-size="40" text-anchor="middle" dominant-baseline="central">Solvent exposure time (min)</text>
<text transform="matrix(0.6065,0.8118,-1.6991,0.3631,326.0,4410.0)" font-family="'Liberation Sans', Arial, sans-serif" font-size="40" text-anchor="middle" dominant-baseline="central">Conductivity ( S cm <tspan dy="-8" font-size="30">-1</tspan><tspan dy="8"> )</tspan></text>
<text transform="matrix(0.2017,-1.5938,1.1289,0.6450,1694.0,3960.0)" font-family="'Liberation Sans', Arial, sans-serif" font-size="40" text-anchor="middle" dominant-baseline="central" font-style="italic">% quinoid value</text>
<text x="21" y="3484" font-family="'Liberation Sans', Arial, sans-serif" font-weight="bold" font-size="201" textLength="117" lengthAdjust="spacingAndGlyphs" stroke="#000" stroke-width="3">B</text>
</svg>
</body></html>
